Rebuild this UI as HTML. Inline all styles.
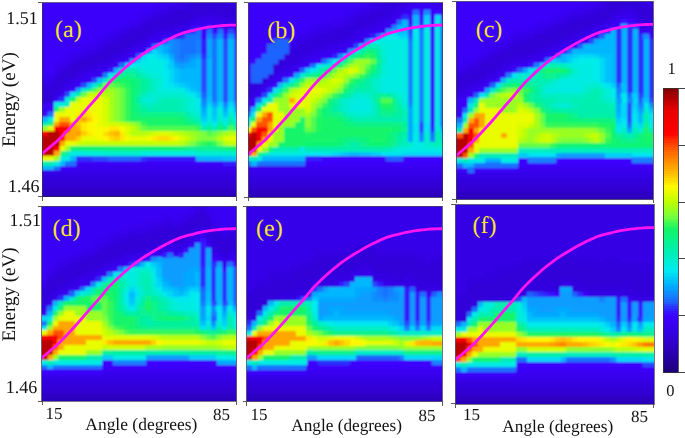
<!DOCTYPE html>
<html><head><meta charset="utf-8"><style>
html,body{margin:0;padding:0;background:#fff;}
svg{display:block;}
text{font-family:"Liberation Serif",serif;fill:#111;text-rendering:geometricPrecision;}
.txt{opacity:0.995;will-change:transform;}
.lab{fill:#f5e62e;font-size:24px;}
</style></head><body>
<svg width="685" height="438" viewBox="0 0 685 438" shape-rendering="crispEdges">
<defs><filter id="bl" x="-5%" y="-5%" width="110%" height="110%"><feGaussianBlur stdDeviation="0.8"/></filter><clipPath id="cpa"><rect x="42.10" y="2.70" width="194.10" height="194.20"/></clipPath><clipPath id="cpb"><rect x="248.30" y="2.70" width="194.60" height="194.90"/></clipPath><clipPath id="cpc"><rect x="456.20" y="1.60" width="197.00" height="198.00"/></clipPath><clipPath id="cpd"><rect x="41.80" y="206.30" width="194.60" height="194.80"/></clipPath><clipPath id="cpe"><rect x="246.60" y="206.30" width="195.60" height="195.10"/></clipPath><clipPath id="cpf"><rect x="455.50" y="204.70" width="198.50" height="199.30"/></clipPath></defs>
<g shape-rendering="auto"></g>
<g clip-path="url(#cpa)">
<g filter="url(#bl)"><path fill="#3a00f9" d="M39.10 -0.30h118.64v5.70h-118.64zM39.10 5.10h113.18v5.16h-113.18zM39.10 9.96h102.27v5.16h-102.27zM39.10 14.81h96.81v5.15h-96.81zM39.10 19.66h85.89v5.16h-85.89zM39.10 24.52h80.44v5.15h-80.44zM39.10 29.38h69.52v5.16h-69.52zM39.10 34.23h64.07v5.15h-64.07zM39.10 39.09h53.15v5.16h-53.15zM39.10 43.94h42.24v5.16h-42.24zM39.10 48.80h31.32v5.15h-31.32zM39.10 53.65h25.87v5.15h-25.87zM39.10 58.51h20.41v5.16h-20.41zM39.10 63.36h14.95v5.15h-14.95zM39.10 68.22h14.95v5.15h-14.95zM39.10 102.20h14.95v5.16h-14.95zM39.10 107.06h14.95v5.15h-14.95zM39.10 111.91h9.50v5.16h-9.50zM75.58 160.46h147.64v5.15h-147.64zM59.21 165.31h16.67v5.16h-16.67z"/>
<path fill="#3900f4" d="M157.44 -0.30h11.21v5.70h-11.21zM151.98 5.10h5.76v5.16h-5.76zM141.07 9.96h11.21v5.16h-11.21zM135.61 14.81h5.76v5.15h-5.76zM124.70 19.66h11.21v5.16h-11.21zM119.24 24.52h5.76v5.15h-5.76zM217.46 24.52h16.67v5.15h-16.67zM108.32 29.38h5.76v5.16h-5.76zM184.72 29.38h5.76v5.16h-5.76zM102.87 34.23h5.76v5.15h-5.76zM168.35 34.23h11.21v5.15h-11.21zM91.95 39.09h5.76v5.16h-5.76zM151.98 39.09h11.21v5.16h-11.21zM81.04 43.94h5.76v5.16h-5.76zM146.52 43.94h5.76v5.16h-5.76zM70.12 48.80h11.21v5.15h-11.21zM135.61 48.80h11.21v5.15h-11.21zM64.67 53.65h5.76v5.15h-5.76zM130.15 53.65h5.76v5.15h-5.76zM59.21 58.51h5.76v5.16h-5.76zM119.24 58.51h5.76v5.16h-5.76zM53.75 63.36h5.76v5.15h-5.76zM113.78 63.36h5.76v5.15h-5.76zM102.87 68.22h5.76v5.15h-5.76zM39.10 73.07h14.95v5.16h-14.95zM97.41 73.07h5.76v5.16h-5.76zM81.04 77.92h11.21v5.16h-11.21zM75.58 82.78h5.76v5.16h-5.76zM53.75 97.34h5.76v5.16h-5.76z"/>
<path fill="#3700ee" d="M168.35 -0.30h11.21v5.70h-11.21zM157.44 5.10h11.21v5.16h-11.21zM141.07 14.81h5.76v5.15h-5.76zM135.61 19.66h5.76v5.16h-5.76zM195.64 19.66h27.58v5.16h-27.58zM124.70 24.52h5.76v5.15h-5.76zM190.18 24.52h5.76v5.15h-5.76zM233.84 24.52h5.66v5.15h-5.66zM113.78 29.38h5.76v5.16h-5.76zM173.81 29.38h11.21v5.16h-11.21zM108.32 34.23h5.76v5.15h-5.76zM157.44 34.23h11.21v5.15h-11.21zM97.41 39.09h5.76v5.16h-5.76zM146.52 39.09h5.76v5.16h-5.76zM86.50 43.94h11.21v5.16h-11.21zM141.07 43.94h5.76v5.16h-5.76zM81.04 48.80h5.76v5.15h-5.76zM130.15 48.80h5.76v5.15h-5.76zM70.12 53.65h5.76v5.15h-5.76zM124.70 53.65h5.76v5.15h-5.76zM64.67 58.51h5.76v5.16h-5.76zM113.78 58.51h5.76v5.16h-5.76zM59.21 63.36h5.76v5.15h-5.76zM108.32 63.36h5.76v5.15h-5.76zM53.75 68.22h5.76v5.15h-5.76zM97.41 68.22h5.76v5.15h-5.76zM86.50 73.07h11.21v5.16h-11.21zM39.10 77.92h9.50v5.16h-9.50zM75.58 77.92h5.76v5.16h-5.76zM70.12 82.78h5.76v5.16h-5.76zM64.67 87.64h5.76v5.16h-5.76zM59.21 92.49h5.76v5.15h-5.76zM75.58 165.31h163.92v5.16h-163.92z"/>
<path fill="#3600e9" d="M179.26 -0.30h11.21v5.70h-11.21zM168.35 5.10h5.76v5.16h-5.76zM151.98 9.96h11.21v5.16h-11.21zM146.52 14.81h5.76v5.15h-5.76zM206.55 14.81h5.76v5.15h-5.76zM190.18 19.66h5.76v5.16h-5.76zM222.92 19.66h11.21v5.16h-11.21zM130.15 24.52h5.76v5.15h-5.76zM179.26 24.52h11.21v5.15h-11.21zM119.24 29.38h5.76v5.16h-5.76zM162.89 29.38h11.21v5.16h-11.21zM113.78 34.23h5.76v5.15h-5.76zM151.98 34.23h5.76v5.15h-5.76zM102.87 39.09h5.76v5.16h-5.76zM97.41 43.94h5.76v5.16h-5.76zM135.61 43.94h5.76v5.16h-5.76zM86.50 48.80h5.76v5.15h-5.76zM75.58 53.65h5.76v5.15h-5.76zM119.24 53.65h5.76v5.15h-5.76zM102.87 63.36h5.76v5.15h-5.76zM91.95 68.22h5.76v5.15h-5.76zM81.04 73.07h5.76v5.16h-5.76zM48.30 77.92h5.76v5.16h-5.76zM64.67 82.78h5.76v5.16h-5.76zM59.21 87.64h5.76v5.16h-5.76zM53.75 92.49h5.76v5.15h-5.76zM39.10 170.17h200.40v5.15h-200.40z"/>
<path fill="#3300df" d="M190.18 -0.30h5.76v5.70h-5.76zM222.92 -0.30h11.21v5.70h-11.21zM184.72 5.10h5.76v5.16h-5.76zM168.35 9.96h5.76v5.16h-5.76zM206.55 9.96h5.76v5.16h-5.76zM151.98 14.81h11.21v5.15h-11.21zM190.18 14.81h5.76v5.15h-5.76zM222.92 14.81h11.21v5.15h-11.21zM146.52 19.66h5.76v5.16h-5.76zM179.26 19.66h11.21v5.16h-11.21zM162.89 24.52h11.21v5.15h-11.21zM130.15 29.38h5.76v5.16h-5.76zM151.98 29.38h5.76v5.16h-5.76zM119.24 34.23h5.76v5.15h-5.76zM113.78 39.09h5.76v5.16h-5.76zM135.61 39.09h5.76v5.16h-5.76zM102.87 43.94h5.76v5.16h-5.76zM97.41 48.80h5.76v5.15h-5.76zM119.24 48.80h5.76v5.15h-5.76zM86.50 53.65h5.76v5.15h-5.76zM108.32 53.65h5.76v5.15h-5.76zM75.58 58.51h5.76v5.16h-5.76zM102.87 58.51h5.76v5.16h-5.76zM91.95 63.36h5.76v5.15h-5.76zM81.04 68.22h5.76v5.15h-5.76zM64.67 77.92h5.76v5.16h-5.76zM48.30 82.78h5.76v5.16h-5.76zM59.21 82.78h5.76v5.16h-5.76zM53.75 87.64h5.76v5.16h-5.76zM48.30 97.34h5.76v5.16h-5.76zM39.10 175.03h200.40v5.16h-200.40z"/>
<path fill="#3100d8" d="M195.64 -0.30h27.58v5.70h-27.58zM190.18 5.10h49.32v5.16h-49.32zM173.81 9.96h33.04v5.16h-33.04zM212.01 9.96h27.49v5.16h-27.49zM162.89 14.81h27.58v5.15h-27.58zM233.84 14.81h5.66v5.15h-5.66zM151.98 19.66h27.58v5.16h-27.58zM141.07 24.52h22.13v5.15h-22.13zM135.61 29.38h16.67v5.16h-16.67zM124.70 34.23h22.13v5.15h-22.13zM119.24 39.09h16.67v5.16h-16.67zM108.32 43.94h22.13v5.16h-22.13zM102.87 48.80h16.67v5.15h-16.67zM91.95 53.65h16.67v5.15h-16.67zM81.04 58.51h22.13v5.16h-22.13zM70.12 63.36h22.13v5.15h-22.13zM64.67 68.22h16.67v5.15h-16.67zM59.21 73.07h16.67v5.16h-16.67zM53.75 77.92h11.21v5.16h-11.21zM53.75 82.78h5.76v5.16h-5.76zM39.10 87.64h14.95v5.16h-14.95zM39.10 92.49h14.95v5.15h-14.95zM39.10 97.34h9.50v5.16h-9.50zM39.10 179.88h200.40v5.15h-200.40z"/>
<path fill="#3400e4" d="M233.84 -0.30h5.66v5.70h-5.66zM173.81 5.10h11.21v5.16h-11.21zM162.89 9.96h5.76v5.16h-5.76zM195.64 14.81h11.21v5.15h-11.21zM212.01 14.81h11.21v5.15h-11.21zM141.07 19.66h5.76v5.16h-5.76zM233.84 19.66h5.66v5.16h-5.66zM135.61 24.52h5.76v5.15h-5.76zM173.81 24.52h5.76v5.15h-5.76zM124.70 29.38h5.76v5.16h-5.76zM157.44 29.38h5.76v5.16h-5.76zM146.52 34.23h5.76v5.15h-5.76zM108.32 39.09h5.76v5.16h-5.76zM141.07 39.09h5.76v5.16h-5.76zM130.15 43.94h5.76v5.16h-5.76zM91.95 48.80h5.76v5.15h-5.76zM124.70 48.80h5.76v5.15h-5.76zM81.04 53.65h5.76v5.15h-5.76zM113.78 53.65h5.76v5.15h-5.76zM70.12 58.51h5.76v5.16h-5.76zM108.32 58.51h5.76v5.16h-5.76zM64.67 63.36h5.76v5.15h-5.76zM97.41 63.36h5.76v5.15h-5.76zM59.21 68.22h5.76v5.15h-5.76zM86.50 68.22h5.76v5.15h-5.76zM53.75 73.07h5.76v5.16h-5.76zM75.58 73.07h5.76v5.16h-5.76zM70.12 77.92h5.76v5.16h-5.76zM39.10 82.78h9.50v5.16h-9.50z"/>
<path fill="#3c00fe" d="M195.64 24.52h11.21v5.15h-11.21zM212.01 24.52h5.76v5.15h-5.76zM201.09 29.38h5.76v5.16h-5.76zM222.92 29.38h5.76v5.16h-5.76zM233.84 29.38h5.66v5.16h-5.66zM201.09 34.23h5.76v5.15h-5.76zM70.12 87.64h5.76v5.16h-5.76z"/>
<path fill="#331cff" d="M206.55 24.52h5.76v5.15h-5.76zM222.92 34.23h5.76v5.15h-5.76zM233.84 34.23h5.66v5.15h-5.66zM201.09 39.09h5.76v5.16h-5.76zM201.09 43.94h5.76v5.16h-5.76zM201.09 48.80h5.76v5.15h-5.76zM108.32 68.22h5.76v5.15h-5.76zM146.52 155.61h49.41v5.15h-49.41zM222.92 160.46h16.58v5.15h-16.58z"/>
<path fill="#2c33ff" d="M190.18 29.38h5.76v5.16h-5.76zM179.26 34.23h5.76v5.15h-5.76zM201.09 53.65h5.76v5.15h-5.76zM59.21 97.34h5.76v5.16h-5.76zM75.58 155.61h16.67v5.15h-16.67zM141.07 155.61h5.76v5.15h-5.76z"/>
<path fill="#1972ff" d="M195.64 29.38h5.76v5.16h-5.76zM206.55 29.38h5.76v5.16h-5.76zM217.46 29.38h5.76v5.16h-5.76zM184.72 34.23h16.67v5.15h-16.67zM179.26 39.09h16.67v5.16h-16.67zM212.01 39.09h5.76v5.16h-5.76zM151.98 43.94h5.76v5.16h-5.76zM179.26 43.94h16.67v5.16h-16.67zM212.01 43.94h5.76v5.16h-5.76zM179.26 48.80h16.67v5.15h-16.67zM212.01 48.80h5.76v5.15h-5.76zM179.26 53.65h5.76v5.15h-5.76zM212.01 53.65h5.76v5.15h-5.76zM212.01 58.51h5.76v5.16h-5.76zM119.24 63.36h5.76v5.15h-5.76zM212.01 63.36h5.76v5.15h-5.76zM212.01 68.22h5.76v5.15h-5.76zM212.01 73.07h5.76v5.16h-5.76zM212.01 77.92h5.76v5.16h-5.76zM212.01 82.78h5.76v5.16h-5.76zM212.01 87.64h5.76v5.16h-5.76zM212.01 92.49h5.76v5.15h-5.76zM212.01 97.34h5.76v5.16h-5.76zM48.30 111.91h5.76v5.16h-5.76zM64.67 160.46h11.21v5.15h-11.21zM53.75 165.31h5.76v5.16h-5.76z"/>
<path fill="#380dff" d="M212.01 29.38h5.76v5.16h-5.76zM124.70 58.51h5.76v5.16h-5.76z"/>
<path fill="#254cff" d="M228.38 29.38h5.76v5.16h-5.76zM212.01 34.23h5.76v5.15h-5.76zM162.89 39.09h5.76v5.16h-5.76zM222.92 39.09h5.76v5.16h-5.76zM233.84 39.09h5.66v5.16h-5.66zM222.92 43.94h5.76v5.16h-5.76zM233.84 43.94h5.66v5.16h-5.66zM222.92 48.80h5.76v5.15h-5.76zM233.84 48.80h5.66v5.15h-5.66zM222.92 53.65h5.76v5.15h-5.76zM233.84 53.65h5.66v5.15h-5.66zM201.09 58.51h5.76v5.16h-5.76zM222.92 58.51h5.76v5.16h-5.76zM233.84 58.51h5.66v5.16h-5.66zM201.09 63.36h5.76v5.15h-5.76zM222.92 63.36h5.76v5.15h-5.76zM233.84 63.36h5.66v5.15h-5.66zM201.09 68.22h5.76v5.15h-5.76zM222.92 68.22h5.76v5.15h-5.76zM233.84 68.22h5.66v5.15h-5.66zM201.09 73.07h5.76v5.16h-5.76zM222.92 73.07h5.76v5.16h-5.76zM233.84 73.07h5.66v5.16h-5.66zM91.95 77.92h5.76v5.16h-5.76zM201.09 77.92h5.76v5.16h-5.76zM222.92 77.92h5.76v5.16h-5.76zM233.84 77.92h5.66v5.16h-5.66zM81.04 82.78h5.76v5.16h-5.76zM201.09 82.78h5.76v5.16h-5.76zM222.92 82.78h5.76v5.16h-5.76zM233.84 82.78h5.66v5.16h-5.66zM201.09 87.64h5.76v5.16h-5.76zM222.92 87.64h5.76v5.16h-5.76zM233.84 87.64h5.66v5.16h-5.66zM64.67 92.49h5.76v5.15h-5.76zM222.92 92.49h5.76v5.15h-5.76zM233.84 92.49h5.66v5.15h-5.66zM222.92 97.34h5.76v5.16h-5.76zM233.84 97.34h5.66v5.16h-5.66zM91.95 155.61h16.67v5.15h-16.67z"/>
<path fill="#0e8eff" d="M206.55 34.23h5.76v5.15h-5.76zM217.46 34.23h5.76v5.15h-5.76zM228.38 34.23h5.76v5.15h-5.76zM168.35 39.09h5.76v5.16h-5.76zM168.35 43.94h5.76v5.16h-5.76zM168.35 48.80h5.76v5.15h-5.76zM190.18 53.65h5.76v5.15h-5.76zM173.81 58.51h5.76v5.16h-5.76zM184.72 58.51h5.76v5.16h-5.76zM201.09 102.20h5.76v5.16h-5.76z"/>
<path fill="#1480ff" d="M173.81 39.09h5.76v5.16h-5.76zM195.64 39.09h5.76v5.16h-5.76zM173.81 43.94h5.76v5.16h-5.76zM195.64 43.94h5.76v5.16h-5.76zM173.81 48.80h5.76v5.15h-5.76zM195.64 48.80h5.76v5.15h-5.76zM173.81 53.65h5.76v5.15h-5.76zM184.72 53.65h5.76v5.15h-5.76zM179.26 58.51h5.76v5.16h-5.76zM102.87 73.07h5.76v5.16h-5.76zM201.09 97.34h5.76v5.16h-5.76zM222.92 102.20h5.76v5.16h-5.76zM233.84 102.20h5.66v5.16h-5.66z"/>
<path fill="#04a9ff" d="M206.55 39.09h5.76v5.16h-5.76zM162.89 43.94h5.76v5.16h-5.76zM206.55 43.94h5.76v5.16h-5.76zM146.52 48.80h5.76v5.15h-5.76zM162.89 48.80h5.76v5.15h-5.76zM206.55 48.80h5.76v5.15h-5.76zM168.35 53.65h5.76v5.15h-5.76zM206.55 53.65h5.76v5.15h-5.76zM130.15 58.51h5.76v5.16h-5.76zM190.18 58.51h5.76v5.16h-5.76zM173.81 63.36h5.76v5.15h-5.76zM184.72 63.36h11.21v5.15h-11.21zM75.58 87.64h5.76v5.16h-5.76zM201.09 107.06h5.76v5.15h-5.76zM222.92 107.06h5.76v5.15h-5.76zM233.84 107.06h5.66v5.15h-5.66z"/>
<path fill="#00b7fe" d="M217.46 39.09h5.76v5.16h-5.76zM228.38 39.09h5.76v5.16h-5.76zM157.44 43.94h5.76v5.16h-5.76zM217.46 43.94h5.76v5.16h-5.76zM228.38 43.94h5.76v5.16h-5.76zM217.46 48.80h5.76v5.15h-5.76zM228.38 48.80h5.76v5.15h-5.76zM217.46 53.65h5.76v5.15h-5.76zM228.38 53.65h5.76v5.15h-5.76zM195.64 58.51h5.76v5.16h-5.76zM206.55 58.51h5.76v5.16h-5.76zM217.46 58.51h5.76v5.16h-5.76zM228.38 58.51h5.76v5.16h-5.76zM195.64 63.36h5.76v5.15h-5.76zM206.55 63.36h5.76v5.15h-5.76zM217.46 63.36h5.76v5.15h-5.76zM228.38 63.36h5.76v5.15h-5.76zM113.78 68.22h5.76v5.15h-5.76zM179.26 68.22h22.13v5.15h-22.13zM206.55 68.22h5.76v5.15h-5.76zM217.46 68.22h5.76v5.15h-5.76zM228.38 68.22h5.76v5.15h-5.76zM179.26 73.07h22.13v5.16h-22.13zM206.55 73.07h5.76v5.16h-5.76zM217.46 73.07h5.76v5.16h-5.76zM228.38 73.07h5.76v5.16h-5.76zM179.26 77.92h22.13v5.16h-22.13zM206.55 77.92h5.76v5.16h-5.76zM217.46 77.92h5.76v5.16h-5.76zM228.38 77.92h5.76v5.16h-5.76zM86.50 82.78h5.76v5.16h-5.76zM190.18 82.78h11.21v5.16h-11.21zM206.55 82.78h5.76v5.16h-5.76zM217.46 82.78h5.76v5.16h-5.76zM228.38 82.78h5.76v5.16h-5.76zM195.64 87.64h5.76v5.16h-5.76zM206.55 87.64h5.76v5.16h-5.76zM217.46 87.64h5.76v5.16h-5.76zM228.38 87.64h5.76v5.16h-5.76zM206.55 92.49h5.76v5.15h-5.76zM217.46 92.49h5.76v5.15h-5.76zM228.38 92.49h5.76v5.15h-5.76zM217.46 97.34h5.76v5.16h-5.76zM228.38 97.34h5.76v5.16h-5.76zM201.09 111.91h5.76v5.16h-5.76zM39.10 116.77h9.50v5.16h-9.50zM70.12 155.61h5.76v5.15h-5.76zM195.64 155.61h27.58v5.15h-27.58zM59.21 160.46h5.76v5.15h-5.76zM39.10 165.31h14.95v5.16h-14.95z"/>
<path fill="#00d9f5" d="M151.98 48.80h5.76v5.15h-5.76zM141.07 53.65h5.76v5.15h-5.76zM157.44 53.65h5.76v5.15h-5.76zM168.35 68.22h5.76v5.15h-5.76zM168.35 73.07h5.76v5.16h-5.76zM168.35 77.92h5.76v5.16h-5.76zM173.81 82.78h5.76v5.16h-5.76zM184.72 87.64h5.76v5.16h-5.76zM206.55 102.20h5.76v5.16h-5.76zM217.46 102.20h5.76v5.16h-5.76zM228.38 102.20h5.76v5.16h-5.76z"/>
<path fill="#00c2fb" d="M157.44 48.80h5.76v5.15h-5.76zM168.35 58.51h5.76v5.16h-5.76zM173.81 68.22h5.76v5.15h-5.76zM173.81 73.07h5.76v5.16h-5.76zM97.41 77.92h5.76v5.16h-5.76zM173.81 77.92h5.76v5.16h-5.76zM184.72 82.78h5.76v5.16h-5.76zM190.18 87.64h5.76v5.16h-5.76zM206.55 97.34h5.76v5.16h-5.76zM212.01 107.06h5.76v5.15h-5.76zM212.01 111.91h5.76v5.16h-5.76zM222.92 111.91h5.76v5.16h-5.76zM222.92 155.61h16.58v5.15h-16.58z"/>
<path fill="#1e64ff" d="M135.61 53.65h5.76v5.15h-5.76zM201.09 92.49h5.76v5.15h-5.76zM108.32 155.61h33.04v5.15h-33.04z"/>
<path fill="#00ebec" d="M146.52 53.65h5.76v5.15h-5.76zM130.15 63.36h5.76v5.15h-5.76zM162.89 68.22h5.76v5.15h-5.76zM108.32 73.07h5.76v5.16h-5.76zM162.89 73.07h5.76v5.16h-5.76zM162.89 77.92h5.76v5.16h-5.76zM162.89 82.78h5.76v5.16h-5.76zM179.26 87.64h5.76v5.16h-5.76zM195.64 97.34h5.76v5.16h-5.76zM195.64 102.20h5.76v5.16h-5.76zM233.84 116.77h5.66v5.16h-5.66zM212.01 121.62h5.76v5.16h-5.76z"/>
<path fill="#00e5f2" d="M151.98 53.65h5.76v5.15h-5.76zM141.07 58.51h5.76v5.16h-5.76zM162.89 58.51h5.76v5.16h-5.76zM124.70 63.36h5.76v5.15h-5.76zM162.89 63.36h5.76v5.15h-5.76zM168.35 82.78h5.76v5.16h-5.76zM70.12 92.49h5.76v5.15h-5.76zM190.18 92.49h5.76v5.15h-5.76zM222.92 116.77h5.76v5.16h-5.76z"/>
<path fill="#00cef8" d="M162.89 53.65h5.76v5.15h-5.76zM135.61 58.51h5.76v5.16h-5.76zM168.35 63.36h5.76v5.15h-5.76zM179.26 82.78h5.76v5.16h-5.76zM195.64 92.49h5.76v5.15h-5.76zM233.84 111.91h5.66v5.16h-5.66zM201.09 116.77h5.76v5.16h-5.76zM212.01 116.77h5.76v5.16h-5.76z"/>
<path fill="#099cff" d="M195.64 53.65h5.76v5.15h-5.76zM179.26 63.36h5.76v5.15h-5.76zM212.01 102.20h5.76v5.16h-5.76z"/>
<path fill="#00ece2" d="M146.52 58.51h16.67v5.16h-16.67zM135.61 63.36h27.59v5.15h-27.59zM146.52 68.22h16.67v5.15h-16.67zM157.44 73.07h5.76v5.16h-5.76zM162.89 87.64h16.67v5.16h-16.67zM184.72 92.49h5.76v5.15h-5.76zM146.52 97.34h5.76v5.16h-5.76zM53.75 102.20h11.21v5.16h-11.21zM195.64 107.06h5.76v5.15h-5.76zM206.55 107.06h5.76v5.15h-5.76zM217.46 107.06h5.76v5.15h-5.76zM228.38 107.06h5.76v5.15h-5.76zM206.55 111.91h5.76v5.16h-5.76zM48.30 116.77h5.76v5.16h-5.76zM206.55 116.77h5.76v5.16h-5.76zM201.09 121.62h5.76v5.16h-5.76zM70.12 150.75h16.67v5.16h-16.67zM141.07 150.75h54.87v5.16h-54.87zM59.21 155.61h11.21v5.15h-11.21zM53.75 160.46h5.76v5.15h-5.76z"/>
<path fill="#00eec5" d="M119.24 68.22h5.76v5.15h-5.76zM135.61 68.22h5.76v5.15h-5.76zM151.98 77.92h5.76v5.16h-5.76zM151.98 82.78h5.76v5.16h-5.76zM151.98 87.64h5.76v5.16h-5.76zM146.52 102.20h5.76v5.16h-5.76zM190.18 111.91h5.76v5.16h-5.76zM233.84 121.62h5.66v5.16h-5.66z"/>
<path fill="#00efb1" d="M124.70 68.22h11.21v5.15h-11.21zM146.52 77.92h5.76v5.16h-5.76zM146.52 82.78h5.76v5.16h-5.76zM146.52 87.64h5.76v5.16h-5.76zM162.89 97.34h16.67v5.16h-16.67zM64.67 102.20h5.76v5.16h-5.76zM157.44 102.20h22.13v5.16h-22.13zM146.52 107.06h33.04v5.15h-33.04zM228.38 116.77h5.76v5.16h-5.76zM39.10 121.62h9.50v5.16h-9.50zM201.09 126.48h5.76v5.16h-5.76zM64.67 150.75h5.76v5.16h-5.76zM39.10 160.46h14.95v5.15h-14.95z"/>
<path fill="#00edd8" d="M141.07 68.22h5.76v5.15h-5.76zM151.98 73.07h5.76v5.16h-5.76zM157.44 77.92h5.76v5.16h-5.76zM91.95 82.78h5.76v5.16h-5.76zM157.44 82.78h5.76v5.16h-5.76zM157.44 87.64h5.76v5.16h-5.76zM64.67 97.34h5.76v5.16h-5.76zM190.18 97.34h5.76v5.16h-5.76zM190.18 102.20h5.76v5.16h-5.76zM190.18 107.06h5.76v5.15h-5.76zM217.46 111.91h5.76v5.16h-5.76zM86.50 150.75h16.67v5.16h-16.67z"/>
<path fill="#07f293" d="M113.78 73.07h5.76v5.16h-5.76zM130.15 73.07h5.76v5.16h-5.76zM86.50 87.64h5.76v5.16h-5.76zM135.61 92.49h5.76v5.15h-5.76zM135.61 102.20h5.76v5.16h-5.76zM179.26 111.91h5.76v5.16h-5.76zM195.64 121.62h5.76v5.16h-5.76zM233.84 126.48h5.66v5.16h-5.66zM190.18 145.90h27.58v5.15h-27.58z"/>
<path fill="#0af289" d="M119.24 73.07h11.21v5.16h-11.21zM135.61 77.92h5.76v5.16h-5.76zM135.61 82.78h5.76v5.16h-5.76zM135.61 87.64h5.76v5.16h-5.76zM135.61 107.06h5.76v5.15h-5.76zM141.07 111.91h38.50v5.16h-38.50zM184.72 116.77h5.76v5.16h-5.76zM228.38 121.62h5.76v5.16h-5.76zM206.55 126.48h5.76v5.16h-5.76zM184.72 145.90h5.76v5.15h-5.76zM217.46 145.90h5.76v5.15h-5.76z"/>
<path fill="#01f0a8" d="M135.61 73.07h5.76v5.16h-5.76zM135.61 97.34h5.76v5.16h-5.76zM184.72 111.91h5.76v5.16h-5.76zM190.18 116.77h5.76v5.16h-5.76zM217.46 121.62h5.76v5.16h-5.76z"/>
<path fill="#00efbb" d="M141.07 73.07h5.76v5.16h-5.76zM102.87 77.92h5.76v5.16h-5.76zM141.07 92.49h5.76v5.15h-5.76zM157.44 97.34h5.76v5.16h-5.76zM179.26 97.34h5.76v5.16h-5.76zM141.07 102.20h5.76v5.16h-5.76zM151.98 102.20h5.76v5.16h-5.76zM179.26 102.20h5.76v5.16h-5.76zM179.26 107.06h5.76v5.15h-5.76zM195.64 116.77h5.76v5.16h-5.76zM206.55 121.62h5.76v5.16h-5.76zM212.01 126.48h5.76v5.16h-5.76z"/>
<path fill="#00edcf" d="M146.52 73.07h5.76v5.16h-5.76zM81.04 87.64h5.76v5.16h-5.76zM146.52 92.49h38.50v5.15h-38.50zM141.07 97.34h5.76v5.16h-5.76zM151.98 97.34h5.76v5.16h-5.76zM184.72 97.34h5.76v5.16h-5.76zM184.72 102.20h5.76v5.16h-5.76zM184.72 107.06h5.76v5.15h-5.76zM195.64 111.91h5.76v5.16h-5.76zM228.38 111.91h5.76v5.16h-5.76zM217.46 116.77h5.76v5.16h-5.76zM222.92 121.62h5.76v5.16h-5.76zM102.87 150.75h38.50v5.16h-38.50zM195.64 150.75h43.86v5.16h-43.86z"/>
<path fill="#36f857" d="M108.32 77.92h5.76v5.16h-5.76zM119.24 82.78h5.76v5.16h-5.76zM124.70 87.64h5.76v5.16h-5.76zM124.70 92.49h5.76v5.15h-5.76zM124.70 97.34h5.76v5.16h-5.76zM124.70 102.20h5.76v5.16h-5.76zM124.70 107.06h5.76v5.15h-5.76zM124.70 111.91h5.76v5.16h-5.76zM124.70 116.77h5.76v5.16h-5.76zM141.07 121.62h5.76v5.16h-5.76zM195.64 126.48h5.76v5.16h-5.76zM201.09 141.04h5.76v5.16h-5.76zM212.01 141.04h5.76v5.16h-5.76z"/>
<path fill="#12f56a" d="M113.78 77.92h16.67v5.16h-16.67zM70.12 97.34h5.76v5.16h-5.76zM53.75 107.06h5.76v5.15h-5.76zM130.15 111.91h5.76v5.16h-5.76zM130.15 116.77h49.41v5.16h-49.41zM48.30 121.62h5.76v5.16h-5.76zM146.52 121.62h38.50v5.16h-38.50zM70.12 145.90h5.76v5.15h-5.76zM59.21 150.75h5.76v5.16h-5.76z"/>
<path fill="#0ff474" d="M130.15 77.92h5.76v5.16h-5.76zM130.15 82.78h5.76v5.16h-5.76zM130.15 87.64h5.76v5.16h-5.76zM130.15 92.49h5.76v5.15h-5.76zM130.15 97.34h5.76v5.16h-5.76zM130.15 102.20h5.76v5.16h-5.76zM130.15 107.06h5.76v5.15h-5.76zM179.26 116.77h5.76v5.16h-5.76zM184.72 121.62h5.76v5.16h-5.76zM217.46 126.48h5.76v5.16h-5.76zM75.58 145.90h103.98v5.15h-103.98zM228.38 145.90h11.12v5.15h-11.12z"/>
<path fill="#04f19d" d="M141.07 77.92h5.76v5.16h-5.76zM141.07 82.78h5.76v5.16h-5.76zM141.07 87.64h5.76v5.16h-5.76zM75.58 92.49h5.76v5.15h-5.76zM141.07 107.06h5.76v5.15h-5.76zM222.92 126.48h5.76v5.16h-5.76z"/>
<path fill="#0cf37e" d="M97.41 82.78h5.76v5.16h-5.76zM135.61 111.91h5.76v5.16h-5.76zM190.18 121.62h5.76v5.16h-5.76zM179.26 145.90h5.76v5.15h-5.76zM222.92 145.90h5.76v5.15h-5.76z"/>
<path fill="#7bff3a" d="M102.87 82.78h5.76v5.16h-5.76zM135.61 121.62h5.76v5.16h-5.76zM201.09 131.33h5.76v5.15h-5.76zM201.09 136.19h11.21v5.15h-11.21zM190.18 141.04h5.76v5.16h-5.76zM217.46 141.04h5.76v5.16h-5.76z"/>
<path fill="#65fd44" d="M108.32 82.78h5.76v5.16h-5.76zM119.24 87.64h5.76v5.16h-5.76zM81.04 92.49h5.76v5.15h-5.76zM119.24 92.49h5.76v5.15h-5.76zM119.24 97.34h5.76v5.16h-5.76zM119.24 102.20h5.76v5.16h-5.76zM119.24 107.06h5.76v5.15h-5.76zM119.24 111.91h5.76v5.16h-5.76zM119.24 116.77h5.76v5.16h-5.76zM141.07 126.48h5.76v5.16h-5.76zM212.01 131.33h5.76v5.15h-5.76z"/>
<path fill="#4dfb4d" d="M113.78 82.78h5.76v5.16h-5.76zM91.95 87.64h5.76v5.16h-5.76zM146.52 126.48h49.41v5.16h-49.41zM228.38 126.48h5.76v5.16h-5.76zM206.55 131.33h5.76v5.15h-5.76zM195.64 141.04h5.76v5.16h-5.76z"/>
<path fill="#1ef660" d="M124.70 82.78h5.76v5.16h-5.76zM206.55 141.04h5.76v5.16h-5.76z"/>
<path fill="#98ff21" d="M97.41 87.64h16.67v5.16h-16.67zM59.21 107.06h5.76v5.15h-5.76zM130.15 121.62h5.76v5.16h-5.76zM39.10 126.48h9.50v5.16h-9.50zM135.61 126.48h5.76v5.16h-5.76zM190.18 131.33h5.76v5.15h-5.76zM184.72 141.04h5.76v5.16h-5.76zM64.67 145.90h5.76v5.15h-5.76zM53.75 155.61h5.76v5.15h-5.76z"/>
<path fill="#89ff2d" d="M113.78 87.64h5.76v5.16h-5.76zM113.78 92.49h5.76v5.15h-5.76zM113.78 97.34h5.76v5.16h-5.76zM113.78 102.20h5.76v5.16h-5.76zM113.78 107.06h5.76v5.15h-5.76zM113.78 111.91h5.76v5.16h-5.76zM113.78 116.77h5.76v5.16h-5.76zM195.64 131.33h5.76v5.15h-5.76zM217.46 131.33h5.76v5.15h-5.76zM195.64 136.19h5.76v5.15h-5.76zM212.01 136.19h5.76v5.15h-5.76z"/>
<path fill="#c3ff00" d="M86.50 92.49h16.67v5.15h-16.67zM119.24 121.62h5.76v5.16h-5.76zM130.15 126.48h5.76v5.16h-5.76zM146.52 131.33h5.76v5.15h-5.76zM173.81 131.33h5.76v5.15h-5.76zM184.72 136.19h5.76v5.15h-5.76zM81.04 141.04h98.53v5.16h-98.53zM228.38 141.04h11.12v5.16h-11.12z"/>
<path fill="#b5ff07" d="M102.87 92.49h5.76v5.15h-5.76zM75.58 97.34h5.76v5.16h-5.76zM124.70 121.62h5.76v5.16h-5.76zM130.15 131.33h16.67v5.15h-16.67zM179.26 131.33h5.76v5.15h-5.76zM228.38 131.33h11.12v5.15h-11.12zM217.46 136.19h5.76v5.15h-5.76zM179.26 141.04h5.76v5.16h-5.76zM222.92 141.04h5.76v5.16h-5.76z"/>
<path fill="#a7ff14" d="M108.32 92.49h5.76v5.15h-5.76zM108.32 97.34h5.76v5.16h-5.76zM108.32 102.20h5.76v5.16h-5.76zM108.32 107.06h5.76v5.15h-5.76zM108.32 111.91h5.76v5.16h-5.76zM108.32 116.77h5.76v5.16h-5.76zM184.72 131.33h5.76v5.15h-5.76zM222.92 131.33h5.76v5.15h-5.76zM190.18 136.19h5.76v5.15h-5.76z"/>
<path fill="#e9fc00" d="M81.04 97.34h22.13v5.16h-22.13zM70.12 102.20h33.04v5.16h-33.04zM64.67 107.06h38.50v5.15h-38.50zM53.75 111.91h22.13v5.16h-22.13zM97.41 111.91h5.76v5.16h-5.76zM53.75 116.77h5.76v5.16h-5.76zM70.12 116.77h5.76v5.16h-5.76zM97.41 116.77h5.76v5.16h-5.76zM97.41 121.62h5.76v5.16h-5.76zM48.30 126.48h5.76v5.16h-5.76zM81.04 136.19h16.67v5.15h-16.67zM130.15 136.19h16.67v5.15h-16.67zM228.38 136.19h11.12v5.15h-11.12zM64.67 141.04h11.21v5.16h-11.21zM59.21 145.90h5.76v5.15h-5.76zM39.10 155.61h14.95v5.15h-14.95z"/>
<path fill="#d0fe00" d="M102.87 97.34h5.76v5.16h-5.76zM102.87 102.20h5.76v5.16h-5.76zM102.87 107.06h5.76v5.15h-5.76zM102.87 111.91h5.76v5.16h-5.76zM102.87 116.77h5.76v5.16h-5.76zM108.32 121.62h11.21v5.16h-11.21zM151.98 131.33h5.76v5.15h-5.76zM168.35 131.33h5.76v5.15h-5.76zM75.58 141.04h5.76v5.16h-5.76z"/>
<path fill="#ffe900" d="M75.58 111.91h5.76v5.16h-5.76zM86.50 111.91h5.76v5.16h-5.76zM81.04 121.62h5.76v5.16h-5.76zM81.04 126.48h5.76v5.16h-5.76zM108.32 126.48h11.21v5.16h-11.21zM86.50 131.33h5.76v5.15h-5.76zM119.24 131.33h5.76v5.15h-5.76zM119.24 136.19h5.76v5.15h-5.76zM151.98 136.19h5.76v5.15h-5.76zM168.35 136.19h5.76v5.15h-5.76z"/>
<path fill="#ffdb00" d="M81.04 111.91h5.76v5.16h-5.76zM102.87 131.33h5.76v5.15h-5.76zM108.32 136.19h5.76v5.15h-5.76zM157.44 136.19h11.21v5.15h-11.21z"/>
<path fill="#f6fb00" d="M91.95 111.91h5.76v5.16h-5.76zM91.95 121.62h5.76v5.16h-5.76zM91.95 126.48h11.21v5.16h-11.21zM119.24 126.48h5.76v5.16h-5.76zM97.41 131.33h5.76v5.15h-5.76zM97.41 136.19h5.76v5.15h-5.76zM124.70 136.19h5.76v5.15h-5.76zM146.52 136.19h5.76v5.15h-5.76zM173.81 136.19h5.76v5.15h-5.76z"/>
<path fill="#ffa700" d="M59.21 116.77h11.21v5.16h-11.21zM81.04 116.77h5.76v5.16h-5.76zM53.75 121.62h5.76v5.16h-5.76zM70.12 121.62h5.76v5.16h-5.76zM70.12 126.48h5.76v5.16h-5.76zM64.67 131.33h11.21v5.15h-11.21zM64.67 136.19h11.21v5.15h-11.21zM59.21 141.04h5.76v5.16h-5.76zM53.75 150.75h5.76v5.16h-5.76z"/>
<path fill="#ffc100" d="M75.58 116.77h5.76v5.16h-5.76zM108.32 131.33h5.76v5.15h-5.76z"/>
<path fill="#ffce00" d="M86.50 116.77h5.76v5.16h-5.76zM75.58 121.62h5.76v5.16h-5.76zM81.04 131.33h5.76v5.15h-5.76zM75.58 136.19h5.76v5.15h-5.76zM113.78 136.19h5.76v5.15h-5.76z"/>
<path fill="#fff600" d="M91.95 116.77h5.76v5.16h-5.76zM86.50 121.62h5.76v5.16h-5.76zM86.50 126.48h5.76v5.16h-5.76zM102.87 126.48h5.76v5.16h-5.76zM91.95 131.33h5.76v5.15h-5.76zM102.87 136.19h5.76v5.15h-5.76z"/>
<path fill="#ff5300" d="M59.21 121.62h11.21v5.16h-11.21z"/>
<path fill="#ddfd00" d="M102.87 121.62h5.76v5.16h-5.76zM124.70 126.48h5.76v5.16h-5.76zM124.70 131.33h5.76v5.15h-5.76zM157.44 131.33h11.21v5.15h-11.21zM179.26 136.19h5.76v5.15h-5.76zM222.92 136.19h5.76v5.15h-5.76z"/>
<path fill="#f90000" d="M53.75 126.48h16.67v5.16h-16.67zM39.10 131.33h9.50v5.15h-9.50zM59.21 131.33h5.76v5.15h-5.76zM59.21 136.19h5.76v5.15h-5.76zM53.75 145.90h5.76v5.15h-5.76z"/>
<path fill="#ffb400" d="M75.58 126.48h5.76v5.16h-5.76zM113.78 131.33h5.76v5.15h-5.76z"/>
<path fill="#b90000" d="M48.30 131.33h11.21v5.15h-11.21zM39.10 136.19h20.41v5.15h-20.41zM39.10 141.04h20.41v5.16h-20.41zM39.10 145.90h14.95v5.15h-14.95zM39.10 150.75h14.95v5.16h-14.95z"/>
<path fill="#ff9b00" d="M75.58 131.33h5.76v5.15h-5.76z"/>
<path fill="#3000d1" d="M39.10 184.74h200.40v5.15h-200.40z"/>
<path fill="#2d00c2" d="M39.10 189.59h200.40v5.16h-200.40z"/>
<path fill="#2b00bb" d="M39.10 194.45h200.40v5.75h-200.40z"/></g>
<polyline points="42.10,153.79 45.39,150.99 48.68,148.19 51.97,145.42 55.26,142.68 58.55,139.72 61.84,136.48 65.13,133.09 68.42,129.63 71.71,126.08 75.00,122.48 78.29,118.81 81.58,115.08 84.87,111.24 88.16,107.36 91.45,103.60 94.74,99.95 98.03,96.21 101.32,92.22 104.61,88.15 107.90,84.31 111.19,80.82 114.48,77.55 117.77,74.41 121.06,71.38 124.35,68.47 127.64,65.66 130.93,62.93 134.22,60.31 137.51,57.84 140.79,55.48 144.08,53.25 147.37,51.19 150.66,49.25 153.95,47.33 157.24,45.36 160.53,43.46 163.82,41.70 167.11,40.01 170.40,38.41 173.69,36.86 176.98,35.33 180.27,33.96 183.56,32.84 186.85,31.92 190.14,31.11 193.43,30.34 196.72,29.54 200.01,28.76 203.30,28.05 206.59,27.48 209.88,26.98 213.17,26.55 216.46,26.17 219.75,25.82 223.04,25.50 226.33,25.28 229.62,25.16 232.91,25.07 236.20,25.03" fill="none" stroke="#ff14f4" stroke-width="2.8" stroke-linejoin="round" stroke-linecap="round" shape-rendering="geometricPrecision"/>
</g>
<rect x="42.10" y="2.70" width="194.10" height="194.20" fill="none" stroke="#2a2a40" stroke-width="0.8" stroke-opacity="0.8"/>
<text x="55.0" y="36.8" class="lab">(a)</text>
<g clip-path="url(#cpb)">
<g filter="url(#bl)"><path fill="#3a00f9" d="M245.30 -0.30h114.11v5.70h-114.11zM245.30 5.10h108.71v5.17h-108.71zM245.30 9.97h97.89v5.17h-97.89zM245.30 14.85h87.08v5.17h-87.08zM245.30 19.72h70.87v5.17h-70.87zM245.30 24.59h65.46v5.17h-65.46zM245.30 29.46h54.65v5.17h-54.65zM245.30 34.34h43.84v5.17h-43.84zM245.30 39.21h27.62v5.17h-27.62zM245.30 44.08h22.22v5.17h-22.22zM245.30 48.95h22.22v5.17h-22.22zM245.30 53.83h16.81v5.17h-16.81zM245.30 58.70h11.41v5.17h-11.41zM245.30 63.57h6.00v5.17h-6.00zM245.30 68.44h6.00v5.17h-6.00zM245.30 97.68h11.41v5.17h-11.41zM245.30 102.55h11.41v5.17h-11.41zM245.30 107.42h6.00v5.17h-6.00zM305.06 161.02h141.14v5.17h-141.14z"/>
<path fill="#3900f4" d="M359.11 -0.30h11.11v5.70h-11.11zM353.71 5.10h11.11v5.17h-11.11zM413.17 5.10h21.92v5.17h-21.92zM342.89 9.97h11.11v5.17h-11.11zM402.36 9.97h11.11v5.17h-11.11zM440.19 9.97h6.01v5.17h-6.01zM332.08 14.85h11.11v5.17h-11.11zM396.95 14.85h5.71v5.17h-5.71zM315.87 19.72h16.52v5.17h-16.52zM391.54 19.72h5.71v5.17h-5.71zM310.46 24.59h5.71v5.17h-5.71zM386.14 24.59h5.71v5.17h-5.71zM299.65 29.46h11.11v5.17h-11.11zM369.92 29.46h16.52v5.17h-16.52zM288.84 34.34h11.11v5.17h-11.11zM364.52 34.34h5.71v5.17h-5.71zM353.71 39.21h11.11v5.17h-11.11zM348.30 44.08h5.71v5.17h-5.71zM332.08 48.95h16.52v5.17h-16.52zM321.27 53.83h11.11v5.17h-11.11zM310.46 58.70h5.71v5.17h-5.71zM299.65 63.57h11.11v5.17h-11.11zM294.24 68.44h5.71v5.17h-5.71zM245.30 73.31h6.00v5.17h-6.00zM283.43 73.31h5.71v5.17h-5.71zM278.03 78.19h5.71v5.17h-5.71zM267.22 83.06h5.71v5.17h-5.71zM261.81 87.93h5.71v5.17h-5.71zM256.41 92.81h5.71v5.17h-5.71z"/>
<path fill="#3700ee" d="M369.92 -0.30h5.71v5.70h-5.71zM413.17 -0.30h21.92v5.70h-21.92zM364.52 5.10h5.71v5.17h-5.71zM407.76 5.10h5.71v5.17h-5.71zM434.79 5.10h11.41v5.17h-11.41zM353.71 9.97h5.71v5.17h-5.71zM342.89 14.85h5.71v5.17h-5.71zM391.54 14.85h5.71v5.17h-5.71zM332.08 19.72h11.11v5.17h-11.11zM386.14 19.72h5.71v5.17h-5.71zM315.87 24.59h11.11v5.17h-11.11zM375.33 24.59h11.11v5.17h-11.11zM310.46 29.46h5.71v5.17h-5.71zM364.52 29.46h5.71v5.17h-5.71zM299.65 34.34h5.71v5.17h-5.71zM359.11 34.34h5.71v5.17h-5.71zM288.84 39.21h5.71v5.17h-5.71zM348.30 39.21h5.71v5.17h-5.71zM337.49 44.08h11.11v5.17h-11.11zM326.68 48.95h5.71v5.17h-5.71zM310.46 53.83h11.11v5.17h-11.11zM305.06 58.70h5.71v5.17h-5.71zM294.24 63.57h5.71v5.17h-5.71zM283.43 68.44h11.11v5.17h-11.11zM278.03 73.31h5.71v5.17h-5.71zM272.62 78.19h5.71v5.17h-5.71zM245.30 165.89h200.90v5.17h-200.90z"/>
<path fill="#3600e9" d="M375.33 -0.30h5.71v5.70h-5.71zM407.76 -0.30h5.71v5.70h-5.71zM434.79 -0.30h11.41v5.70h-11.41zM369.92 5.10h5.71v5.17h-5.71zM402.36 5.10h5.71v5.17h-5.71zM359.11 9.97h5.71v5.17h-5.71zM396.95 9.97h5.71v5.17h-5.71zM348.30 14.85h5.71v5.17h-5.71zM342.89 19.72h5.71v5.17h-5.71zM380.73 19.72h5.71v5.17h-5.71zM326.68 24.59h11.11v5.17h-11.11zM369.92 24.59h5.71v5.17h-5.71zM315.87 29.46h5.71v5.17h-5.71zM359.11 29.46h5.71v5.17h-5.71zM305.06 34.34h5.71v5.17h-5.71zM353.71 34.34h5.71v5.17h-5.71zM294.24 39.21h5.71v5.17h-5.71zM342.89 39.21h5.71v5.17h-5.71zM288.84 44.08h5.71v5.17h-5.71zM332.08 44.08h5.71v5.17h-5.71zM315.87 48.95h11.11v5.17h-11.11zM305.06 53.83h5.71v5.17h-5.71zM299.65 58.70h5.71v5.17h-5.71zM288.84 63.57h5.71v5.17h-5.71zM272.62 73.31h5.71v5.17h-5.71zM245.30 78.19h6.00v5.17h-6.00zM267.22 78.19h5.71v5.17h-5.71zM261.81 83.06h5.71v5.17h-5.71zM256.41 87.93h5.71v5.17h-5.71zM245.30 170.77h200.90v5.17h-200.90z"/>
<path fill="#3400e4" d="M380.73 -0.30h5.71v5.70h-5.71zM402.36 -0.30h5.71v5.70h-5.71zM375.33 5.10h5.71v5.17h-5.71zM396.95 5.10h5.71v5.17h-5.71zM364.52 9.97h5.71v5.17h-5.71zM391.54 9.97h5.71v5.17h-5.71zM353.71 14.85h5.71v5.17h-5.71zM386.14 14.85h5.71v5.17h-5.71zM348.30 19.72h5.71v5.17h-5.71zM375.33 19.72h5.71v5.17h-5.71zM337.49 24.59h5.71v5.17h-5.71zM364.52 24.59h5.71v5.17h-5.71zM321.27 29.46h11.11v5.17h-11.11zM353.71 29.46h5.71v5.17h-5.71zM310.46 34.34h5.71v5.17h-5.71zM348.30 34.34h5.71v5.17h-5.71zM299.65 39.21h5.71v5.17h-5.71zM337.49 39.21h5.71v5.17h-5.71zM294.24 44.08h5.71v5.17h-5.71zM321.27 44.08h11.11v5.17h-11.11zM310.46 48.95h5.71v5.17h-5.71zM299.65 53.83h5.71v5.17h-5.71zM294.24 58.70h5.71v5.17h-5.71zM283.43 63.57h5.71v5.17h-5.71zM278.03 68.44h5.71v5.17h-5.71zM245.30 83.06h6.00v5.17h-6.00zM251.00 92.81h5.71v5.17h-5.71z"/>
<path fill="#3300df" d="M386.14 -0.30h16.52v5.70h-16.52zM380.73 5.10h16.52v5.17h-16.52zM369.92 9.97h11.11v5.17h-11.11zM386.14 9.97h5.71v5.17h-5.71zM359.11 14.85h11.11v5.17h-11.11zM375.33 14.85h11.11v5.17h-11.11zM353.71 19.72h5.71v5.17h-5.71zM364.52 19.72h11.11v5.17h-11.11zM342.89 24.59h21.92v5.17h-21.92zM332.08 29.46h11.11v5.17h-11.11zM348.30 29.46h5.71v5.17h-5.71zM315.87 34.34h16.52v5.17h-16.52zM337.49 34.34h11.11v5.17h-11.11zM305.06 39.21h11.11v5.17h-11.11zM321.27 39.21h16.52v5.17h-16.52zM299.65 44.08h5.71v5.17h-5.71zM310.46 44.08h11.11v5.17h-11.11zM288.84 48.95h21.92v5.17h-21.92zM283.43 53.83h5.71v5.17h-5.71zM294.24 53.83h5.71v5.17h-5.71zM278.03 58.70h16.52v5.17h-16.52zM278.03 63.57h5.71v5.17h-5.71zM272.62 68.44h5.71v5.17h-5.71zM267.22 73.31h5.71v5.17h-5.71zM261.81 78.19h5.71v5.17h-5.71zM251.00 83.06h11.11v5.17h-11.11zM245.30 87.93h11.41v5.17h-11.41zM245.30 92.81h6.00v5.17h-6.00zM245.30 175.64h200.90v5.17h-200.90z"/>
<path fill="#3100d8" d="M380.73 9.97h5.71v5.17h-5.71zM369.92 14.85h5.71v5.17h-5.71zM359.11 19.72h5.71v5.17h-5.71zM342.89 29.46h5.71v5.17h-5.71zM332.08 34.34h5.71v5.17h-5.71zM315.87 39.21h5.71v5.17h-5.71zM305.06 44.08h5.71v5.17h-5.71zM288.84 53.83h5.71v5.17h-5.71zM272.62 63.57h5.71v5.17h-5.71zM245.30 180.51h200.90v5.17h-200.90z"/>
<path fill="#1972ff" d="M413.17 9.97h5.71v5.17h-5.71zM396.95 19.72h5.71v5.17h-5.71zM375.33 34.34h5.71v5.17h-5.71zM321.27 58.70h5.71v5.17h-5.71zM310.46 63.57h5.71v5.17h-5.71zM256.41 97.68h5.71v5.17h-5.71zM245.30 112.30h6.00v5.17h-6.00zM429.38 131.79h5.71v5.17h-5.71zM245.30 161.02h6.00v5.17h-6.00zM256.41 161.02h48.95v5.17h-48.95z"/>
<path fill="#3c00fe" d="M418.57 9.97h5.71v5.17h-5.71zM429.38 9.97h5.71v5.17h-5.71zM429.38 14.85h5.71v5.17h-5.71zM315.87 58.70h5.71v5.17h-5.71zM288.84 73.31h5.71v5.17h-5.71zM321.27 156.15h65.17v5.17h-65.17zM402.36 156.15h43.84v5.17h-43.84z"/>
<path fill="#0e8eff" d="M423.98 9.97h5.71v5.17h-5.71zM364.52 39.21h5.71v5.17h-5.71zM337.49 53.83h5.71v5.17h-5.71zM407.76 102.55h5.71v5.17h-5.71zM440.19 126.91h6.01v5.17h-6.01zM418.57 136.66h5.71v5.17h-5.71z"/>
<path fill="#380dff" d="M434.79 9.97h5.71v5.17h-5.71zM407.76 14.85h5.71v5.17h-5.71zM440.19 14.85h6.01v5.17h-6.01zM407.76 19.72h5.71v5.17h-5.71zM429.38 19.72h5.71v5.17h-5.71zM272.62 83.06h5.71v5.17h-5.71z"/>
<path fill="#2c33ff" d="M402.36 14.85h5.71v5.17h-5.71zM407.76 24.59h5.71v5.17h-5.71zM267.22 87.93h5.71v5.17h-5.71zM429.38 126.91h5.71v5.17h-5.71z"/>
<path fill="#00b7fe" d="M413.17 14.85h5.71v5.17h-5.71zM402.36 19.72h5.71v5.17h-5.71zM413.17 19.72h5.71v5.17h-5.71zM396.95 24.59h11.11v5.17h-11.11zM326.68 58.70h5.71v5.17h-5.71zM251.00 107.42h5.71v5.17h-5.71zM348.30 151.28h11.11v5.17h-11.11zM261.81 156.15h43.54v5.17h-43.54zM251.00 161.02h5.71v5.17h-5.71z"/>
<path fill="#331cff" d="M418.57 14.85h5.71v5.17h-5.71zM418.57 19.72h5.71v5.17h-5.71zM429.38 24.59h5.71v5.17h-5.71zM429.38 29.46h5.71v5.17h-5.71zM369.92 34.34h5.71v5.17h-5.71zM429.38 34.34h5.71v5.17h-5.71zM429.38 39.21h5.71v5.17h-5.71zM429.38 44.08h5.71v5.17h-5.71zM429.38 48.95h5.71v5.17h-5.71zM332.08 53.83h5.71v5.17h-5.71zM429.38 53.83h5.71v5.17h-5.71zM429.38 58.70h5.71v5.17h-5.71zM429.38 63.57h5.71v5.17h-5.71zM429.38 68.44h5.71v5.17h-5.71zM429.38 73.31h5.71v5.17h-5.71zM429.38 78.19h5.71v5.17h-5.71zM429.38 83.06h5.71v5.17h-5.71zM429.38 87.93h5.71v5.17h-5.71zM429.38 92.81h5.71v5.17h-5.71zM429.38 97.68h5.71v5.17h-5.71zM429.38 102.55h5.71v5.17h-5.71zM429.38 107.42h5.71v5.17h-5.71zM429.38 112.30h5.71v5.17h-5.71zM429.38 117.17h5.71v5.17h-5.71zM429.38 122.04h5.71v5.17h-5.71zM305.06 156.15h16.52v5.17h-16.52z"/>
<path fill="#00cef8" d="M423.98 14.85h5.71v5.17h-5.71zM413.17 24.59h5.71v5.17h-5.71zM359.11 44.08h5.71v5.17h-5.71zM305.06 68.44h5.71v5.17h-5.71zM440.19 136.66h6.01v5.17h-6.01zM337.49 151.28h5.71v5.17h-5.71zM369.92 151.28h11.11v5.17h-11.11z"/>
<path fill="#00d9f5" d="M434.79 14.85h5.71v5.17h-5.71zM423.98 19.72h5.71v5.17h-5.71zM391.54 29.46h5.71v5.17h-5.71zM380.73 34.34h5.71v5.17h-5.71zM396.95 34.34h11.11v5.17h-11.11zM342.89 53.83h5.71v5.17h-5.71zM332.08 151.28h5.71v5.17h-5.71zM402.36 151.28h43.84v5.17h-43.84z"/>
<path fill="#00ece2" d="M434.79 19.72h5.71v5.17h-5.71zM434.79 24.59h5.71v5.17h-5.71zM423.98 29.46h5.71v5.17h-5.71zM434.79 29.46h5.71v5.17h-5.71zM423.98 34.34h5.71v5.17h-5.71zM434.79 34.34h5.71v5.17h-5.71zM375.33 39.21h32.73v5.17h-32.73zM413.17 39.21h5.71v5.17h-5.71zM423.98 39.21h5.71v5.17h-5.71zM434.79 39.21h5.71v5.17h-5.71zM386.14 44.08h21.92v5.17h-21.92zM413.17 44.08h5.71v5.17h-5.71zM423.98 44.08h5.71v5.17h-5.71zM434.79 44.08h5.71v5.17h-5.71zM386.14 48.95h21.92v5.17h-21.92zM413.17 48.95h5.71v5.17h-5.71zM423.98 48.95h5.71v5.17h-5.71zM434.79 48.95h5.71v5.17h-5.71zM386.14 53.83h21.92v5.17h-21.92zM413.17 53.83h5.71v5.17h-5.71zM423.98 53.83h5.71v5.17h-5.71zM434.79 53.83h5.71v5.17h-5.71zM386.14 58.70h21.92v5.17h-21.92zM413.17 58.70h5.71v5.17h-5.71zM423.98 58.70h5.71v5.17h-5.71zM434.79 58.70h5.71v5.17h-5.71zM386.14 63.57h21.92v5.17h-21.92zM413.17 63.57h5.71v5.17h-5.71zM423.98 63.57h5.71v5.17h-5.71zM434.79 63.57h5.71v5.17h-5.71zM386.14 68.44h21.92v5.17h-21.92zM413.17 68.44h5.71v5.17h-5.71zM423.98 68.44h5.71v5.17h-5.71zM434.79 68.44h5.71v5.17h-5.71zM386.14 73.31h21.92v5.17h-21.92zM413.17 73.31h5.71v5.17h-5.71zM423.98 73.31h5.71v5.17h-5.71zM434.79 73.31h5.71v5.17h-5.71zM380.73 78.19h27.33v5.17h-27.33zM413.17 78.19h5.71v5.17h-5.71zM423.98 78.19h5.71v5.17h-5.71zM434.79 78.19h5.71v5.17h-5.71zM380.73 83.06h27.33v5.17h-27.33zM413.17 83.06h5.71v5.17h-5.71zM423.98 83.06h5.71v5.17h-5.71zM434.79 83.06h5.71v5.17h-5.71zM380.73 87.93h27.33v5.17h-27.33zM413.17 87.93h5.71v5.17h-5.71zM423.98 87.93h5.71v5.17h-5.71zM434.79 87.93h5.71v5.17h-5.71zM267.22 92.81h5.71v5.17h-5.71zM402.36 92.81h5.71v5.17h-5.71zM413.17 92.81h5.71v5.17h-5.71zM423.98 92.81h5.71v5.17h-5.71zM434.79 92.81h5.71v5.17h-5.71zM261.81 97.68h5.71v5.17h-5.71zM353.71 97.68h16.52v5.17h-16.52zM402.36 97.68h5.71v5.17h-5.71zM413.17 97.68h5.71v5.17h-5.71zM423.98 97.68h5.71v5.17h-5.71zM434.79 97.68h5.71v5.17h-5.71zM256.41 102.55h5.71v5.17h-5.71zM348.30 102.55h21.92v5.17h-21.92zM413.17 102.55h5.71v5.17h-5.71zM423.98 102.55h5.71v5.17h-5.71zM434.79 102.55h5.71v5.17h-5.71zM348.30 107.42h21.92v5.17h-21.92zM413.17 107.42h5.71v5.17h-5.71zM423.98 107.42h5.71v5.17h-5.71zM434.79 107.42h5.71v5.17h-5.71zM251.00 112.30h5.71v5.17h-5.71zM413.17 112.30h5.71v5.17h-5.71zM423.98 112.30h5.71v5.17h-5.71zM434.79 112.30h5.71v5.17h-5.71zM245.30 117.17h6.00v5.17h-6.00zM413.17 117.17h5.71v5.17h-5.71zM423.98 117.17h5.71v5.17h-5.71zM434.79 117.17h5.71v5.17h-5.71zM434.79 122.04h5.71v5.17h-5.71zM413.17 131.79h5.71v5.17h-5.71zM413.17 136.66h5.71v5.17h-5.71zM413.17 141.53h11.11v5.17h-11.11zM299.65 146.40h5.71v5.17h-5.71zM402.36 146.40h43.84v5.17h-43.84zM267.22 151.28h38.14v5.17h-38.14zM245.30 156.15h6.00v5.17h-6.00zM256.41 156.15h5.71v5.17h-5.71z"/>
<path fill="#1480ff" d="M440.19 19.72h6.01v5.17h-6.01zM391.54 24.59h5.71v5.17h-5.71zM440.19 24.59h6.01v5.17h-6.01zM418.57 29.46h5.71v5.17h-5.71zM440.19 29.46h6.01v5.17h-6.01zM418.57 34.34h5.71v5.17h-5.71zM440.19 34.34h6.01v5.17h-6.01zM407.76 39.21h5.71v5.17h-5.71zM418.57 39.21h5.71v5.17h-5.71zM440.19 39.21h6.01v5.17h-6.01zM407.76 44.08h5.71v5.17h-5.71zM418.57 44.08h5.71v5.17h-5.71zM440.19 44.08h6.01v5.17h-6.01zM407.76 48.95h5.71v5.17h-5.71zM418.57 48.95h5.71v5.17h-5.71zM440.19 48.95h6.01v5.17h-6.01zM407.76 53.83h5.71v5.17h-5.71zM418.57 53.83h5.71v5.17h-5.71zM440.19 53.83h6.01v5.17h-6.01zM407.76 58.70h5.71v5.17h-5.71zM418.57 58.70h5.71v5.17h-5.71zM440.19 58.70h6.01v5.17h-6.01zM407.76 63.57h5.71v5.17h-5.71zM418.57 63.57h5.71v5.17h-5.71zM440.19 63.57h6.01v5.17h-6.01zM407.76 68.44h5.71v5.17h-5.71zM418.57 68.44h5.71v5.17h-5.71zM440.19 68.44h6.01v5.17h-6.01zM407.76 73.31h5.71v5.17h-5.71zM418.57 73.31h5.71v5.17h-5.71zM440.19 73.31h6.01v5.17h-6.01zM283.43 78.19h5.71v5.17h-5.71zM407.76 78.19h5.71v5.17h-5.71zM418.57 78.19h5.71v5.17h-5.71zM440.19 78.19h6.01v5.17h-6.01zM407.76 83.06h5.71v5.17h-5.71zM418.57 83.06h5.71v5.17h-5.71zM440.19 83.06h6.01v5.17h-6.01zM407.76 87.93h5.71v5.17h-5.71zM418.57 87.93h5.71v5.17h-5.71zM440.19 87.93h6.01v5.17h-6.01zM407.76 92.81h5.71v5.17h-5.71zM418.57 92.81h5.71v5.17h-5.71zM440.19 92.81h6.01v5.17h-6.01zM407.76 97.68h5.71v5.17h-5.71zM418.57 97.68h5.71v5.17h-5.71zM440.19 97.68h6.01v5.17h-6.01zM418.57 102.55h5.71v5.17h-5.71zM440.19 102.55h6.01v5.17h-6.01zM418.57 107.42h5.71v5.17h-5.71zM440.19 107.42h6.01v5.17h-6.01zM418.57 112.30h5.71v5.17h-5.71zM440.19 112.30h6.01v5.17h-6.01zM418.57 117.17h5.71v5.17h-5.71zM440.19 117.17h6.01v5.17h-6.01zM440.19 122.04h6.01v5.17h-6.01zM418.57 131.79h5.71v5.17h-5.71zM429.38 136.66h5.71v5.17h-5.71z"/>
<path fill="#1e64ff" d="M418.57 24.59h5.71v5.17h-5.71zM407.76 34.34h5.71v5.17h-5.71zM272.62 39.21h16.52v5.17h-16.52zM267.22 44.08h21.92v5.17h-21.92zM267.22 48.95h21.92v5.17h-21.92zM261.81 53.83h21.92v5.17h-21.92zM256.41 58.70h21.92v5.17h-21.92zM251.00 63.57h21.92v5.17h-21.92zM251.00 68.44h21.92v5.17h-21.92zM299.65 68.44h5.71v5.17h-5.71zM251.00 73.31h16.52v5.17h-16.52zM251.00 78.19h11.11v5.17h-11.11zM386.14 156.15h16.52v5.17h-16.52z"/>
<path fill="#00e5f2" d="M423.98 24.59h5.71v5.17h-5.71zM391.54 34.34h5.71v5.17h-5.71zM315.87 63.57h5.71v5.17h-5.71zM288.84 78.19h5.71v5.17h-5.71zM272.62 87.93h5.71v5.17h-5.71zM413.17 122.04h5.71v5.17h-5.71zM423.98 122.04h5.71v5.17h-5.71zM413.17 126.91h5.71v5.17h-5.71zM423.98 126.91h5.71v5.17h-5.71zM305.06 151.28h27.33v5.17h-27.33zM380.73 151.28h21.92v5.17h-21.92z"/>
<path fill="#099cff" d="M386.14 29.46h5.71v5.17h-5.71zM348.30 48.95h5.71v5.17h-5.71z"/>
<path fill="#00c2fb" d="M396.95 29.46h11.11v5.17h-11.11zM278.03 83.06h5.71v5.17h-5.71zM440.19 131.79h6.01v5.17h-6.01zM342.89 151.28h5.71v5.17h-5.71zM359.11 151.28h11.11v5.17h-11.11z"/>
<path fill="#254cff" d="M407.76 29.46h5.71v5.17h-5.71zM353.71 44.08h5.71v5.17h-5.71zM261.81 92.81h5.71v5.17h-5.71zM418.57 122.04h5.71v5.17h-5.71zM418.57 126.91h5.71v5.17h-5.71z"/>
<path fill="#00ebec" d="M413.17 29.46h5.71v5.17h-5.71zM386.14 34.34h5.71v5.17h-5.71zM413.17 34.34h5.71v5.17h-5.71zM369.92 39.21h5.71v5.17h-5.71zM332.08 58.70h5.71v5.17h-5.71zM310.46 68.44h5.71v5.17h-5.71z"/>
<path fill="#00efbb" d="M364.52 44.08h5.71v5.17h-5.71zM326.68 63.57h5.71v5.17h-5.71zM375.33 73.31h5.71v5.17h-5.71zM369.92 78.19h5.71v5.17h-5.71zM283.43 83.06h5.71v5.17h-5.71zM369.92 83.06h5.71v5.17h-5.71zM369.92 87.93h5.71v5.17h-5.71zM348.30 92.81h5.71v5.17h-5.71zM369.92 92.81h5.71v5.17h-5.71zM391.54 92.81h5.71v5.17h-5.71zM337.49 97.68h5.71v5.17h-5.71zM337.49 102.55h5.71v5.17h-5.71zM337.49 107.42h5.71v5.17h-5.71zM402.36 107.42h5.71v5.17h-5.71zM402.36 112.30h5.71v5.17h-5.71zM402.36 117.17h5.71v5.17h-5.71zM402.36 136.66h5.71v5.17h-5.71zM402.36 141.53h5.71v5.17h-5.71zM429.38 141.53h16.82v5.17h-16.82zM386.14 146.40h5.71v5.17h-5.71z"/>
<path fill="#00efb1" d="M369.92 44.08h5.71v5.17h-5.71zM353.71 87.93h16.52v5.17h-16.52zM267.22 97.68h5.71v5.17h-5.71zM396.95 102.55h5.71v5.17h-5.71zM342.89 112.30h5.71v5.17h-5.71zM353.71 117.17h48.95v5.17h-48.95zM245.30 122.04h6.00v5.17h-6.00zM402.36 131.79h5.71v5.17h-5.71zM434.79 131.79h5.71v5.17h-5.71zM434.79 136.66h5.71v5.17h-5.71zM396.95 141.53h5.71v5.17h-5.71zM272.62 146.40h27.33v5.17h-27.33zM305.06 146.40h81.38v5.17h-81.38zM261.81 151.28h5.71v5.17h-5.71zM251.00 156.15h5.71v5.17h-5.71z"/>
<path fill="#00eec5" d="M375.33 44.08h5.71v5.17h-5.71zM337.49 58.70h5.71v5.17h-5.71zM380.73 58.70h5.71v5.17h-5.71zM315.87 68.44h5.71v5.17h-5.71zM369.92 97.68h5.71v5.17h-5.71zM396.95 97.68h5.71v5.17h-5.71zM348.30 112.30h5.71v5.17h-5.71zM369.92 112.30h5.71v5.17h-5.71z"/>
<path fill="#00edd8" d="M380.73 44.08h5.71v5.17h-5.71zM353.71 48.95h5.71v5.17h-5.71zM321.27 63.57h5.71v5.17h-5.71zM380.73 73.31h5.71v5.17h-5.71zM396.95 92.81h5.71v5.17h-5.71zM348.30 97.68h5.71v5.17h-5.71zM434.79 126.91h5.71v5.17h-5.71zM396.95 146.40h5.71v5.17h-5.71z"/>
<path fill="#01f0a8" d="M359.11 48.95h5.71v5.17h-5.71zM375.33 48.95h5.71v5.17h-5.71zM375.33 68.44h5.71v5.17h-5.71zM294.24 78.19h5.71v5.17h-5.71zM364.52 78.19h5.71v5.17h-5.71zM364.52 83.06h5.71v5.17h-5.71zM278.03 87.93h5.71v5.17h-5.71zM375.33 92.81h5.71v5.17h-5.71zM332.08 107.42h5.71v5.17h-5.71zM375.33 107.42h5.71v5.17h-5.71zM396.95 107.42h5.71v5.17h-5.71zM375.33 112.30h5.71v5.17h-5.71zM396.95 112.30h5.71v5.17h-5.71zM348.30 117.17h5.71v5.17h-5.71zM396.95 136.66h5.71v5.17h-5.71zM348.30 141.53h11.11v5.17h-11.11z"/>
<path fill="#0cf37e" d="M364.52 48.95h11.11v5.17h-11.11zM353.71 53.83h5.71v5.17h-5.71zM369.92 68.44h5.71v5.17h-5.71zM364.52 73.31h5.71v5.17h-5.71zM337.49 92.81h5.71v5.17h-5.71zM326.68 102.55h5.71v5.17h-5.71zM380.73 107.42h5.71v5.17h-5.71zM326.68 112.30h5.71v5.17h-5.71zM348.30 122.04h5.71v5.17h-5.71zM342.89 136.66h5.71v5.17h-5.71zM359.11 136.66h5.71v5.17h-5.71zM337.49 141.53h5.71v5.17h-5.71zM364.52 141.53h5.71v5.17h-5.71zM386.14 141.53h5.71v5.17h-5.71z"/>
<path fill="#00edcf" d="M380.73 48.95h5.71v5.17h-5.71zM380.73 53.83h5.71v5.17h-5.71zM380.73 63.57h5.71v5.17h-5.71zM380.73 68.44h5.71v5.17h-5.71zM299.65 73.31h5.71v5.17h-5.71zM375.33 78.19h5.71v5.17h-5.71zM375.33 83.06h5.71v5.17h-5.71zM375.33 87.93h5.71v5.17h-5.71zM353.71 92.81h16.52v5.17h-16.52zM342.89 97.68h5.71v5.17h-5.71zM342.89 102.55h5.71v5.17h-5.71zM369.92 102.55h5.71v5.17h-5.71zM402.36 102.55h5.71v5.17h-5.71zM342.89 107.42h5.71v5.17h-5.71zM369.92 107.42h5.71v5.17h-5.71zM353.71 112.30h16.52v5.17h-16.52zM423.98 131.79h5.71v5.17h-5.71zM423.98 136.66h5.71v5.17h-5.71zM407.76 141.53h5.71v5.17h-5.71zM423.98 141.53h5.71v5.17h-5.71zM391.54 146.40h5.71v5.17h-5.71z"/>
<path fill="#04f19d" d="M348.30 53.83h5.71v5.17h-5.71zM375.33 53.83h5.71v5.17h-5.71zM332.08 63.57h5.71v5.17h-5.71zM375.33 63.57h5.71v5.17h-5.71zM321.27 68.44h5.71v5.17h-5.71zM305.06 73.31h5.71v5.17h-5.71zM369.92 73.31h5.71v5.17h-5.71zM359.11 83.06h5.71v5.17h-5.71zM342.89 92.81h5.71v5.17h-5.71zM386.14 92.81h5.71v5.17h-5.71zM332.08 102.55h5.71v5.17h-5.71zM375.33 102.55h5.71v5.17h-5.71zM391.54 112.30h5.71v5.17h-5.71zM402.36 122.04h5.71v5.17h-5.71zM396.95 131.79h5.71v5.17h-5.71z"/>
<path fill="#12f56a" d="M359.11 53.83h5.71v5.17h-5.71zM326.68 68.44h5.71v5.17h-5.71zM342.89 87.93h5.71v5.17h-5.71zM326.68 97.68h5.71v5.17h-5.71zM261.81 102.55h5.71v5.17h-5.71zM256.41 107.42h5.71v5.17h-5.71zM251.00 117.17h5.71v5.17h-5.71zM299.65 117.17h5.71v5.17h-5.71zM321.27 117.17h16.52v5.17h-16.52zM294.24 122.04h11.11v5.17h-11.11zM321.27 122.04h21.92v5.17h-21.92zM283.43 126.91h21.92v5.17h-21.92zM321.27 126.91h70.57v5.17h-70.57zM283.43 131.79h21.92v5.17h-21.92zM310.46 131.79h75.98v5.17h-75.98zM283.43 136.66h54.36v5.17h-54.36zM369.92 136.66h16.52v5.17h-16.52zM278.03 141.53h27.33v5.17h-27.33zM267.22 146.40h5.71v5.17h-5.71zM256.41 151.28h5.71v5.17h-5.71z"/>
<path fill="#36f857" d="M364.52 53.83h5.71v5.17h-5.71zM364.52 68.44h5.71v5.17h-5.71zM321.27 73.31h5.71v5.17h-5.71zM359.11 73.31h5.71v5.17h-5.71zM299.65 78.19h5.71v5.17h-5.71zM348.30 78.19h5.71v5.17h-5.71zM294.24 83.06h5.71v5.17h-5.71zM283.43 87.93h5.71v5.17h-5.71zM278.03 92.81h5.71v5.17h-5.71zM332.08 92.81h5.71v5.17h-5.71zM321.27 102.55h5.71v5.17h-5.71zM315.87 107.42h5.71v5.17h-5.71zM315.87 112.30h5.71v5.17h-5.71z"/>
<path fill="#1ef660" d="M369.92 53.83h5.71v5.17h-5.71zM369.92 63.57h5.71v5.17h-5.71zM380.73 102.55h11.11v5.17h-11.11zM315.87 117.17h5.71v5.17h-5.71zM315.87 122.04h5.71v5.17h-5.71zM315.87 126.91h5.71v5.17h-5.71zM305.06 131.79h5.71v5.17h-5.71z"/>
<path fill="#0af289" d="M342.89 58.70h5.71v5.17h-5.71zM375.33 58.70h5.71v5.17h-5.71zM310.46 73.31h5.71v5.17h-5.71zM359.11 78.19h5.71v5.17h-5.71zM288.84 83.06h5.71v5.17h-5.71zM272.62 92.81h5.71v5.17h-5.71zM375.33 97.68h5.71v5.17h-5.71zM391.54 97.68h5.71v5.17h-5.71zM391.54 102.55h5.71v5.17h-5.71zM326.68 107.42h5.71v5.17h-5.71zM391.54 107.42h5.71v5.17h-5.71zM332.08 112.30h5.71v5.17h-5.71zM342.89 117.17h5.71v5.17h-5.71zM353.71 122.04h48.95v5.17h-48.95zM391.54 131.79h5.71v5.17h-5.71zM348.30 136.66h11.11v5.17h-11.11zM391.54 136.66h5.71v5.17h-5.71z"/>
<path fill="#4dfb4d" d="M348.30 58.70h5.71v5.17h-5.71zM342.89 83.06h5.71v5.17h-5.71zM380.73 97.68h11.11v5.17h-11.11zM310.46 117.17h5.71v5.17h-5.71zM310.46 122.04h5.71v5.17h-5.71zM310.46 126.91h5.71v5.17h-5.71z"/>
<path fill="#98ff21" d="M353.71 58.70h16.52v5.17h-16.52zM359.11 63.57h5.71v5.17h-5.71zM359.11 68.44h5.71v5.17h-5.71zM348.30 73.31h5.71v5.17h-5.71zM305.06 78.19h16.52v5.17h-16.52zM342.89 78.19h5.71v5.17h-5.71zM299.65 83.06h5.71v5.17h-5.71zM283.43 92.81h5.71v5.17h-5.71zM272.62 97.68h16.52v5.17h-16.52zM278.03 102.55h11.11v5.17h-11.11zM278.03 107.42h27.33v5.17h-27.33zM310.46 107.42h5.71v5.17h-5.71zM283.43 112.30h21.92v5.17h-21.92zM283.43 117.17h16.52v5.17h-16.52zM278.03 122.04h16.52v5.17h-16.52zM278.03 126.91h5.71v5.17h-5.71zM272.62 131.79h11.11v5.17h-11.11zM272.62 136.66h11.11v5.17h-11.11zM267.22 141.53h11.11v5.17h-11.11zM261.81 146.40h5.71v5.17h-5.71z"/>
<path fill="#65fd44" d="M369.92 58.70h5.71v5.17h-5.71zM342.89 63.57h5.71v5.17h-5.71zM364.52 63.57h5.71v5.17h-5.71zM332.08 68.44h5.71v5.17h-5.71zM305.06 126.91h5.71v5.17h-5.71z"/>
<path fill="#0ff474" d="M337.49 63.57h5.71v5.17h-5.71zM315.87 73.31h5.71v5.17h-5.71zM353.71 78.19h5.71v5.17h-5.71zM348.30 83.06h5.71v5.17h-5.71zM321.27 107.42h5.71v5.17h-5.71zM386.14 107.42h5.71v5.17h-5.71zM321.27 112.30h5.71v5.17h-5.71zM337.49 117.17h5.71v5.17h-5.71zM342.89 122.04h5.71v5.17h-5.71zM391.54 126.91h11.11v5.17h-11.11zM386.14 131.79h5.71v5.17h-5.71zM337.49 136.66h5.71v5.17h-5.71zM364.52 136.66h5.71v5.17h-5.71zM386.14 136.66h5.71v5.17h-5.71zM305.06 141.53h32.73v5.17h-32.73zM369.92 141.53h16.52v5.17h-16.52z"/>
<path fill="#a7ff14" d="M348.30 63.57h5.71v5.17h-5.71zM337.49 68.44h5.71v5.17h-5.71zM332.08 73.31h5.71v5.17h-5.71zM342.89 73.31h5.71v5.17h-5.71zM321.27 78.19h5.71v5.17h-5.71zM337.49 83.06h5.71v5.17h-5.71zM288.84 87.93h5.71v5.17h-5.71zM332.08 87.93h5.71v5.17h-5.71zM321.27 92.81h5.71v5.17h-5.71zM315.87 97.68h5.71v5.17h-5.71zM310.46 102.55h5.71v5.17h-5.71zM305.06 112.30h5.71v5.17h-5.71z"/>
<path fill="#b5ff07" d="M353.71 63.57h5.71v5.17h-5.71z"/>
<path fill="#c3ff00" d="M342.89 68.44h5.71v5.17h-5.71zM337.49 73.31h5.71v5.17h-5.71zM326.68 78.19h5.71v5.17h-5.71zM305.06 83.06h32.73v5.17h-32.73zM294.24 87.93h5.71v5.17h-5.71zM326.68 87.93h5.71v5.17h-5.71zM310.46 97.68h5.71v5.17h-5.71z"/>
<path fill="#ddfd00" d="M348.30 68.44h5.71v5.17h-5.71zM332.08 78.19h5.71v5.17h-5.71zM299.65 87.93h5.71v5.17h-5.71zM321.27 87.93h5.71v5.17h-5.71zM294.24 92.81h5.71v5.17h-5.71zM310.46 92.81h5.71v5.17h-5.71zM305.06 97.68h5.71v5.17h-5.71zM305.06 102.55h5.71v5.17h-5.71z"/>
<path fill="#d0fe00" d="M353.71 68.44h5.71v5.17h-5.71zM337.49 78.19h5.71v5.17h-5.71zM288.84 92.81h5.71v5.17h-5.71zM315.87 92.81h5.71v5.17h-5.71zM305.06 107.42h5.71v5.17h-5.71z"/>
<path fill="#04a9ff" d="M294.24 73.31h5.71v5.17h-5.71zM407.76 107.42h5.71v5.17h-5.71zM407.76 112.30h5.71v5.17h-5.71zM407.76 117.17h5.71v5.17h-5.71zM407.76 122.04h5.71v5.17h-5.71zM407.76 126.91h5.71v5.17h-5.71zM407.76 131.79h5.71v5.17h-5.71zM407.76 136.66h5.71v5.17h-5.71z"/>
<path fill="#7bff3a" d="M326.68 73.31h5.71v5.17h-5.71zM353.71 73.31h5.71v5.17h-5.71zM337.49 87.93h5.71v5.17h-5.71zM326.68 92.81h5.71v5.17h-5.71zM321.27 97.68h5.71v5.17h-5.71zM315.87 102.55h5.71v5.17h-5.71zM310.46 112.30h5.71v5.17h-5.71z"/>
<path fill="#07f293" d="M353.71 83.06h5.71v5.17h-5.71zM348.30 87.93h5.71v5.17h-5.71zM380.73 92.81h5.71v5.17h-5.71zM332.08 97.68h5.71v5.17h-5.71zM337.49 112.30h5.71v5.17h-5.71zM380.73 112.30h11.11v5.17h-11.11zM402.36 126.91h5.71v5.17h-5.71zM342.89 141.53h5.71v5.17h-5.71zM359.11 141.53h5.71v5.17h-5.71zM391.54 141.53h5.71v5.17h-5.71z"/>
<path fill="#e9fc00" d="M305.06 87.93h16.52v5.17h-16.52zM299.65 92.81h11.11v5.17h-11.11zM294.24 97.68h11.11v5.17h-11.11zM267.22 102.55h11.11v5.17h-11.11zM288.84 102.55h16.52v5.17h-16.52zM261.81 107.42h16.52v5.17h-16.52zM256.41 112.30h5.71v5.17h-5.71zM272.62 112.30h11.11v5.17h-11.11zM272.62 117.17h11.11v5.17h-11.11zM251.00 122.04h5.71v5.17h-5.71zM272.62 122.04h5.71v5.17h-5.71zM245.30 126.91h6.00v5.17h-6.00zM272.62 126.91h5.71v5.17h-5.71zM267.22 131.79h5.71v5.17h-5.71zM267.22 136.66h5.71v5.17h-5.71zM261.81 141.53h5.71v5.17h-5.71zM256.41 146.40h5.71v5.17h-5.71z"/>
<path fill="#ffa700" d="M288.84 97.68h5.71v5.17h-5.71zM261.81 112.30h5.71v5.17h-5.71zM256.41 117.17h5.71v5.17h-5.71zM267.22 122.04h5.71v5.17h-5.71zM267.22 126.91h5.71v5.17h-5.71zM261.81 136.66h5.71v5.17h-5.71zM256.41 141.53h5.71v5.17h-5.71zM251.00 151.28h5.71v5.17h-5.71z"/>
<path fill="#ff5300" d="M267.22 112.30h5.71v5.17h-5.71zM261.81 117.17h11.11v5.17h-11.11zM256.41 122.04h11.11v5.17h-11.11zM251.00 126.91h5.71v5.17h-5.71zM261.81 131.79h5.71v5.17h-5.71z"/>
<path fill="#89ff2d" d="M305.06 117.17h5.71v5.17h-5.71zM305.06 122.04h5.71v5.17h-5.71z"/>
<path fill="#f90000" d="M256.41 126.91h11.11v5.17h-11.11zM245.30 131.79h6.00v5.17h-6.00zM256.41 131.79h5.71v5.17h-5.71zM256.41 136.66h5.71v5.17h-5.71z"/>
<path fill="#b90000" d="M251.00 131.79h5.71v5.17h-5.71zM245.30 136.66h11.41v5.17h-11.41zM245.30 141.53h11.41v5.17h-11.41zM245.30 146.40h11.41v5.17h-11.41zM245.30 151.28h6.00v5.17h-6.00z"/>
<path fill="#3000d1" d="M245.30 185.38h200.90v5.17h-200.90z"/>
<path fill="#2d00c2" d="M245.30 190.26h200.90v5.17h-200.90z"/>
<path fill="#2b00bb" d="M245.30 195.13h200.90v5.77h-200.90z"/></g>
<polyline points="248.30,154.33 251.60,151.52 254.90,148.72 258.19,145.94 261.49,143.18 264.79,140.22 268.09,136.96 271.39,133.56 274.69,130.09 277.98,126.53 281.28,122.91 284.58,119.23 287.88,115.49 291.18,111.64 294.48,107.74 297.77,103.96 301.07,100.30 304.37,96.55 307.67,92.54 310.97,88.46 314.27,84.60 317.56,81.10 320.86,77.82 324.16,74.67 327.46,71.63 330.76,68.71 334.06,65.89 337.35,63.15 340.65,60.52 343.95,58.04 347.25,55.67 350.55,53.44 353.85,51.36 357.14,49.42 360.44,47.50 363.74,45.52 367.04,43.61 370.34,41.84 373.64,40.14 376.93,38.54 380.23,36.98 383.53,35.45 386.83,34.07 390.13,32.95 393.43,32.03 396.72,31.22 400.02,30.44 403.32,29.64 406.62,28.85 409.92,28.15 413.22,27.57 416.51,27.07 419.81,26.63 423.11,26.26 426.41,25.90 429.71,25.59 433.01,25.36 436.30,25.24 439.60,25.15 442.90,25.11" fill="none" stroke="#ff14f4" stroke-width="2.8" stroke-linejoin="round" stroke-linecap="round" shape-rendering="geometricPrecision"/>
</g>
<rect x="248.30" y="2.70" width="194.60" height="194.90" fill="none" stroke="#2a2a40" stroke-width="0.8" stroke-opacity="0.8"/>
<text x="267.2" y="37.5" class="lab">(b)</text>
<g clip-path="url(#cpc)">
<g filter="url(#bl)"><path fill="#3a00f9" d="M453.20 -1.40h130.16v5.70h-130.16zM453.20 4.00h119.21v5.25h-119.21zM453.20 8.95h108.27v5.25h-108.27zM453.20 13.90h97.32v5.25h-97.32zM453.20 18.85h86.38v5.25h-86.38zM453.20 23.80h75.44v5.25h-75.44zM453.20 28.75h59.02v5.25h-59.02zM453.20 33.70h53.55v5.25h-53.55zM453.20 38.65h42.60v5.25h-42.60zM453.20 43.60h37.13v5.25h-37.13zM453.20 48.55h26.19v5.25h-26.19zM453.20 53.50h20.72v5.25h-20.72zM453.20 58.45h9.77v5.25h-9.77zM453.20 98.05h15.24v5.25h-15.24zM453.20 103.00h15.24v5.25h-15.24zM453.20 107.95h9.77v5.25h-9.77zM453.20 112.90h9.77v5.25h-9.77zM517.39 162.40h139.11v5.25h-139.11zM453.20 167.35h15.24v5.25h-15.24zM473.62 167.35h44.08v5.25h-44.08z"/>
<path fill="#3900f4" d="M583.06 -1.40h11.24v5.70h-11.24zM572.11 4.00h11.24v5.25h-11.24zM561.17 8.95h11.24v5.25h-11.24zM550.22 13.90h11.24v5.25h-11.24zM539.28 18.85h11.24v5.25h-11.24zM615.89 18.85h5.77v5.25h-5.77zM528.34 23.80h11.24v5.25h-11.24zM610.42 23.80h5.77v5.25h-5.77zM511.92 28.75h16.72v5.25h-16.72zM599.47 28.75h5.77v5.25h-5.77zM637.78 28.75h11.24v5.25h-11.24zM506.45 33.70h5.77v5.25h-5.77zM588.53 33.70h11.24v5.25h-11.24zM495.50 38.65h11.24v5.25h-11.24zM577.58 38.65h11.24v5.25h-11.24zM490.03 43.60h5.77v5.25h-5.77zM566.64 43.60h11.24v5.25h-11.24zM479.09 48.55h11.24v5.25h-11.24zM555.70 48.55h11.24v5.25h-11.24zM473.62 53.50h5.77v5.25h-5.77zM544.75 53.50h11.24v5.25h-11.24zM462.67 58.45h11.24v5.25h-11.24zM533.81 58.45h11.24v5.25h-11.24zM453.20 63.40h9.77v5.25h-9.77zM517.39 63.40h11.24v5.25h-11.24zM506.45 68.35h5.77v5.25h-5.77zM500.98 73.30h5.77v5.25h-5.77zM490.03 78.25h5.77v5.25h-5.77zM484.56 83.20h5.77v5.25h-5.77zM473.62 88.15h5.77v5.25h-5.77zM468.14 93.10h5.77v5.25h-5.77z"/>
<path fill="#3700ee" d="M594.00 -1.40h5.77v5.70h-5.77zM583.06 4.00h11.24v5.25h-11.24zM572.11 8.95h11.24v5.25h-11.24zM561.17 13.90h5.77v5.25h-5.77zM621.36 13.90h11.24v5.25h-11.24zM550.22 18.85h5.77v5.25h-5.77zM610.42 18.85h5.77v5.25h-5.77zM632.30 18.85h5.77v5.25h-5.77zM539.28 23.80h5.77v5.25h-5.77zM604.94 23.80h5.77v5.25h-5.77zM637.78 23.80h5.77v5.25h-5.77zM528.34 28.75h5.77v5.25h-5.77zM594.00 28.75h5.77v5.25h-5.77zM648.72 28.75h7.78v5.25h-7.78zM511.92 33.70h5.77v5.25h-5.77zM583.06 33.70h5.77v5.25h-5.77zM572.11 38.65h5.77v5.25h-5.77zM495.50 43.60h5.77v5.25h-5.77zM561.17 43.60h5.77v5.25h-5.77zM550.22 48.55h5.77v5.25h-5.77zM479.09 53.50h5.77v5.25h-5.77zM539.28 53.50h5.77v5.25h-5.77zM473.62 58.45h5.77v5.25h-5.77zM528.34 58.45h5.77v5.25h-5.77zM462.67 63.40h5.77v5.25h-5.77zM511.92 63.40h5.77v5.25h-5.77zM453.20 68.35h4.30v5.25h-4.30zM500.98 68.35h5.77v5.25h-5.77zM495.50 73.30h5.77v5.25h-5.77zM484.56 78.25h5.77v5.25h-5.77zM479.09 83.20h5.77v5.25h-5.77zM468.14 88.15h5.77v5.25h-5.77zM462.67 93.10h5.77v5.25h-5.77zM517.39 167.35h139.11v5.25h-139.11z"/>
<path fill="#3600e9" d="M599.47 -1.40h5.77v5.70h-5.77zM643.25 -1.40h13.25v5.70h-13.25zM594.00 4.00h5.77v5.25h-5.77zM583.06 8.95h5.77v5.25h-5.77zM626.83 8.95h5.77v5.25h-5.77zM566.64 13.90h5.77v5.25h-5.77zM615.89 13.90h5.77v5.25h-5.77zM632.30 13.90h5.77v5.25h-5.77zM555.70 18.85h5.77v5.25h-5.77zM544.75 23.80h5.77v5.25h-5.77zM599.47 23.80h5.77v5.25h-5.77zM643.25 23.80h13.25v5.25h-13.25zM533.81 28.75h5.77v5.25h-5.77zM588.53 28.75h5.77v5.25h-5.77zM517.39 33.70h11.24v5.25h-11.24zM577.58 33.70h5.77v5.25h-5.77zM506.45 38.65h5.77v5.25h-5.77zM566.64 38.65h5.77v5.25h-5.77zM500.98 43.60h5.77v5.25h-5.77zM555.70 43.60h5.77v5.25h-5.77zM490.03 48.55h5.77v5.25h-5.77zM544.75 48.55h5.77v5.25h-5.77zM484.56 53.50h5.77v5.25h-5.77zM533.81 53.50h5.77v5.25h-5.77zM517.39 58.45h11.24v5.25h-11.24zM468.14 63.40h5.77v5.25h-5.77zM506.45 63.40h5.77v5.25h-5.77zM457.20 68.35h5.77v5.25h-5.77zM490.03 73.30h5.77v5.25h-5.77zM473.62 83.20h5.77v5.25h-5.77zM453.20 93.10h9.77v5.25h-9.77zM453.20 172.30h203.30v5.25h-203.30z"/>
<path fill="#3300df" d="M604.94 -1.40h5.77v5.70h-5.77zM626.83 4.00h5.77v5.25h-5.77zM643.25 4.00h5.77v5.25h-5.77zM594.00 8.95h5.77v5.25h-5.77zM615.89 8.95h5.77v5.25h-5.77zM632.30 8.95h5.77v5.25h-5.77zM583.06 13.90h5.77v5.25h-5.77zM566.64 18.85h11.24v5.25h-11.24zM599.47 18.85h5.77v5.25h-5.77zM643.25 18.85h13.25v5.25h-13.25zM555.70 23.80h11.24v5.25h-11.24zM588.53 23.80h5.77v5.25h-5.77zM544.75 28.75h11.24v5.25h-11.24zM577.58 28.75h5.77v5.25h-5.77zM533.81 33.70h5.77v5.25h-5.77zM566.64 33.70h5.77v5.25h-5.77zM517.39 38.65h11.24v5.25h-11.24zM555.70 38.65h5.77v5.25h-5.77zM506.45 43.60h5.77v5.25h-5.77zM544.75 43.60h5.77v5.25h-5.77zM500.98 48.55h5.77v5.25h-5.77zM533.81 48.55h5.77v5.25h-5.77zM490.03 53.50h5.77v5.25h-5.77zM517.39 53.50h11.24v5.25h-11.24zM484.56 58.45h5.77v5.25h-5.77zM506.45 58.45h5.77v5.25h-5.77zM468.14 68.35h5.77v5.25h-5.77zM490.03 68.35h5.77v5.25h-5.77zM457.20 73.30h5.77v5.25h-5.77zM473.62 78.25h5.77v5.25h-5.77zM462.67 83.20h5.77v5.25h-5.77zM453.20 88.15h9.77v5.25h-9.77zM453.20 177.25h203.30v5.25h-203.30z"/>
<path fill="#3100d8" d="M610.42 -1.40h27.66v5.70h-27.66zM604.94 4.00h22.19v5.25h-22.19zM632.30 4.00h11.24v5.25h-11.24zM599.47 8.95h16.72v5.25h-16.72zM637.78 8.95h18.72v5.25h-18.72zM588.53 13.90h22.19v5.25h-22.19zM637.78 13.90h18.72v5.25h-18.72zM577.58 18.85h22.19v5.25h-22.19zM566.64 23.80h22.19v5.25h-22.19zM555.70 28.75h22.19v5.25h-22.19zM539.28 33.70h27.66v5.25h-27.66zM528.34 38.65h27.66v5.25h-27.66zM511.92 43.60h33.13v5.25h-33.13zM506.45 48.55h27.66v5.25h-27.66zM495.50 53.50h22.19v5.25h-22.19zM490.03 58.45h16.72v5.25h-16.72zM479.09 63.40h22.19v5.25h-22.19zM473.62 68.35h16.72v5.25h-16.72zM462.67 73.30h22.19v5.25h-22.19zM453.20 78.25h20.72v5.25h-20.72zM453.20 83.20h9.77v5.25h-9.77zM453.20 182.20h203.30v5.25h-203.30z"/>
<path fill="#3400e4" d="M637.78 -1.40h5.77v5.70h-5.77zM599.47 4.00h5.77v5.25h-5.77zM648.72 4.00h7.78v5.25h-7.78zM588.53 8.95h5.77v5.25h-5.77zM621.36 8.95h5.77v5.25h-5.77zM572.11 13.90h11.24v5.25h-11.24zM610.42 13.90h5.77v5.25h-5.77zM561.17 18.85h5.77v5.25h-5.77zM604.94 18.85h5.77v5.25h-5.77zM637.78 18.85h5.77v5.25h-5.77zM550.22 23.80h5.77v5.25h-5.77zM594.00 23.80h5.77v5.25h-5.77zM539.28 28.75h5.77v5.25h-5.77zM583.06 28.75h5.77v5.25h-5.77zM528.34 33.70h5.77v5.25h-5.77zM572.11 33.70h5.77v5.25h-5.77zM511.92 38.65h5.77v5.25h-5.77zM561.17 38.65h5.77v5.25h-5.77zM550.22 43.60h5.77v5.25h-5.77zM495.50 48.55h5.77v5.25h-5.77zM539.28 48.55h5.77v5.25h-5.77zM528.34 53.50h5.77v5.25h-5.77zM479.09 58.45h5.77v5.25h-5.77zM511.92 58.45h5.77v5.25h-5.77zM473.62 63.40h5.77v5.25h-5.77zM500.98 63.40h5.77v5.25h-5.77zM462.67 68.35h5.77v5.25h-5.77zM495.50 68.35h5.77v5.25h-5.77zM453.20 73.30h4.30v5.25h-4.30zM484.56 73.30h5.77v5.25h-5.77zM479.09 78.25h5.77v5.25h-5.77zM468.14 83.20h5.77v5.25h-5.77zM462.67 88.15h5.77v5.25h-5.77z"/>
<path fill="#380dff" d="M621.36 18.85h5.77v5.25h-5.77zM528.34 63.40h5.77v5.25h-5.77zM511.92 68.35h5.77v5.25h-5.77zM495.50 78.25h5.77v5.25h-5.77z"/>
<path fill="#3c00fe" d="M626.83 18.85h5.77v5.25h-5.77zM615.89 23.80h5.77v5.25h-5.77zM648.72 33.70h7.78v5.25h-7.78zM479.09 88.15h5.77v5.25h-5.77zM517.39 157.45h11.24v5.25h-11.24zM555.70 157.45h76.91v5.25h-76.91z"/>
<path fill="#00b7fe" d="M621.36 23.80h5.77v5.25h-5.77zM610.42 28.75h5.77v5.25h-5.77zM621.36 28.75h5.77v5.25h-5.77zM632.30 28.75h5.77v5.25h-5.77zM604.94 33.70h11.24v5.25h-11.24zM621.36 33.70h5.77v5.25h-5.77zM632.30 33.70h5.77v5.25h-5.77zM599.47 38.65h16.72v5.25h-16.72zM621.36 38.65h5.77v5.25h-5.77zM632.30 38.65h5.77v5.25h-5.77zM643.25 38.65h5.77v5.25h-5.77zM583.06 43.60h33.13v5.25h-33.13zM621.36 43.60h5.77v5.25h-5.77zM632.30 43.60h5.77v5.25h-5.77zM643.25 43.60h5.77v5.25h-5.77zM572.11 48.55h44.08v5.25h-44.08zM621.36 48.55h5.77v5.25h-5.77zM632.30 48.55h5.77v5.25h-5.77zM643.25 48.55h5.77v5.25h-5.77zM561.17 53.50h5.77v5.25h-5.77zM610.42 53.50h5.77v5.25h-5.77zM621.36 53.50h5.77v5.25h-5.77zM632.30 53.50h5.77v5.25h-5.77zM643.25 53.50h5.77v5.25h-5.77zM561.17 58.45h5.77v5.25h-5.77zM610.42 58.45h5.77v5.25h-5.77zM621.36 58.45h5.77v5.25h-5.77zM632.30 58.45h5.77v5.25h-5.77zM643.25 58.45h5.77v5.25h-5.77zM610.42 63.40h5.77v5.25h-5.77zM621.36 63.40h5.77v5.25h-5.77zM632.30 63.40h5.77v5.25h-5.77zM643.25 63.40h5.77v5.25h-5.77zM610.42 68.35h5.77v5.25h-5.77zM621.36 68.35h5.77v5.25h-5.77zM632.30 68.35h5.77v5.25h-5.77zM643.25 68.35h5.77v5.25h-5.77zM610.42 73.30h5.77v5.25h-5.77zM621.36 73.30h5.77v5.25h-5.77zM632.30 73.30h5.77v5.25h-5.77zM643.25 73.30h5.77v5.25h-5.77zM500.98 78.25h5.77v5.25h-5.77zM610.42 78.25h5.77v5.25h-5.77zM621.36 78.25h5.77v5.25h-5.77zM632.30 78.25h5.77v5.25h-5.77zM643.25 78.25h5.77v5.25h-5.77zM632.30 83.20h5.77v5.25h-5.77zM643.25 83.20h5.77v5.25h-5.77zM632.30 88.15h5.77v5.25h-5.77zM643.25 88.15h5.77v5.25h-5.77zM643.25 93.10h5.77v5.25h-5.77zM468.14 98.05h5.77v5.25h-5.77zM615.89 112.90h5.77v5.25h-5.77zM637.78 112.90h5.77v5.25h-5.77zM637.78 117.85h5.77v5.25h-5.77zM453.20 122.80h9.77v5.25h-9.77zM484.56 157.45h16.72v5.25h-16.72zM462.67 162.40h11.24v5.25h-11.24z"/>
<path fill="#2c33ff" d="M626.83 23.80h11.24v5.25h-11.24zM615.89 28.75h5.77v5.25h-5.77zM626.83 28.75h5.77v5.25h-5.77zM615.89 33.70h5.77v5.25h-5.77zM626.83 33.70h5.77v5.25h-5.77zM637.78 33.70h5.77v5.25h-5.77zM615.89 38.65h5.77v5.25h-5.77zM626.83 38.65h5.77v5.25h-5.77zM637.78 38.65h5.77v5.25h-5.77zM648.72 38.65h7.78v5.25h-7.78zM615.89 43.60h5.77v5.25h-5.77zM626.83 43.60h5.77v5.25h-5.77zM637.78 43.60h5.77v5.25h-5.77zM648.72 43.60h7.78v5.25h-7.78zM615.89 48.55h5.77v5.25h-5.77zM626.83 48.55h5.77v5.25h-5.77zM637.78 48.55h5.77v5.25h-5.77zM648.72 48.55h7.78v5.25h-7.78zM615.89 53.50h5.77v5.25h-5.77zM626.83 53.50h5.77v5.25h-5.77zM637.78 53.50h5.77v5.25h-5.77zM648.72 53.50h7.78v5.25h-7.78zM615.89 58.45h5.77v5.25h-5.77zM626.83 58.45h5.77v5.25h-5.77zM637.78 58.45h5.77v5.25h-5.77zM648.72 58.45h7.78v5.25h-7.78zM615.89 63.40h5.77v5.25h-5.77zM626.83 63.40h5.77v5.25h-5.77zM637.78 63.40h5.77v5.25h-5.77zM648.72 63.40h7.78v5.25h-7.78zM615.89 68.35h5.77v5.25h-5.77zM626.83 68.35h5.77v5.25h-5.77zM637.78 68.35h5.77v5.25h-5.77zM648.72 68.35h7.78v5.25h-7.78zM615.89 73.30h5.77v5.25h-5.77zM626.83 73.30h5.77v5.25h-5.77zM637.78 73.30h5.77v5.25h-5.77zM648.72 73.30h7.78v5.25h-7.78zM615.89 78.25h5.77v5.25h-5.77zM626.83 78.25h5.77v5.25h-5.77zM637.78 78.25h5.77v5.25h-5.77zM648.72 78.25h7.78v5.25h-7.78zM626.83 83.20h5.77v5.25h-5.77zM637.78 83.20h5.77v5.25h-5.77zM648.72 83.20h7.78v5.25h-7.78zM626.83 88.15h5.77v5.25h-5.77zM637.78 88.15h5.77v5.25h-5.77zM648.72 88.15h7.78v5.25h-7.78zM648.72 93.10h7.78v5.25h-7.78z"/>
<path fill="#331cff" d="M604.94 28.75h5.77v5.25h-5.77z"/>
<path fill="#1e64ff" d="M599.47 33.70h5.77v5.25h-5.77zM577.58 43.60h5.77v5.25h-5.77zM555.70 53.50h5.77v5.25h-5.77zM517.39 68.35h5.77v5.25h-5.77zM490.03 83.20h5.77v5.25h-5.77zM615.89 83.20h5.77v5.25h-5.77zM473.62 93.10h5.77v5.25h-5.77zM637.78 98.05h5.77v5.25h-5.77z"/>
<path fill="#0e8eff" d="M643.25 33.70h5.77v5.25h-5.77zM615.89 93.10h5.77v5.25h-5.77zM648.72 103.00h7.78v5.25h-7.78z"/>
<path fill="#254cff" d="M588.53 38.65h5.77v5.25h-5.77zM637.78 93.10h5.77v5.25h-5.77zM648.72 98.05h7.78v5.25h-7.78zM626.83 103.00h5.77v5.25h-5.77zM626.83 107.95h5.77v5.25h-5.77zM626.83 112.90h5.77v5.25h-5.77zM626.83 117.85h5.77v5.25h-5.77z"/>
<path fill="#04a9ff" d="M594.00 38.65h5.77v5.25h-5.77zM522.86 68.35h5.77v5.25h-5.77zM484.56 88.15h5.77v5.25h-5.77zM615.89 103.00h5.77v5.25h-5.77zM615.89 107.95h5.77v5.25h-5.77zM626.83 127.75h5.77v5.25h-5.77zM555.70 152.50h5.77v5.25h-5.77z"/>
<path fill="#1972ff" d="M566.64 48.55h5.77v5.25h-5.77zM544.75 58.45h5.77v5.25h-5.77zM626.83 93.10h5.77v5.25h-5.77zM462.67 107.95h5.77v5.25h-5.77zM453.20 117.85h9.77v5.25h-9.77zM626.83 122.80h5.77v5.25h-5.77zM453.20 162.40h9.77v5.25h-9.77zM473.62 162.40h44.08v5.25h-44.08zM468.14 167.35h5.77v5.25h-5.77z"/>
<path fill="#00c2fb" d="M566.64 53.50h5.77v5.25h-5.77zM599.47 53.50h11.24v5.25h-11.24zM555.70 58.45h5.77v5.25h-5.77zM604.94 58.45h5.77v5.25h-5.77zM604.94 63.40h5.77v5.25h-5.77zM604.94 68.35h5.77v5.25h-5.77zM604.94 73.30h5.77v5.25h-5.77zM604.94 78.25h5.77v5.25h-5.77zM621.36 83.20h5.77v5.25h-5.77zM621.36 88.15h5.77v5.25h-5.77zM643.25 98.05h5.77v5.25h-5.77zM648.72 107.95h7.78v5.25h-7.78z"/>
<path fill="#00cef8" d="M572.11 53.50h5.77v5.25h-5.77zM594.00 53.50h5.77v5.25h-5.77zM550.22 58.45h5.77v5.25h-5.77zM566.64 58.45h5.77v5.25h-5.77zM539.28 63.40h5.77v5.25h-5.77zM610.42 83.20h5.77v5.25h-5.77zM632.30 93.10h5.77v5.25h-5.77zM632.30 103.00h5.77v5.25h-5.77zM615.89 117.85h5.77v5.25h-5.77zM517.39 152.50h11.24v5.25h-11.24zM604.94 152.50h27.66v5.25h-27.66z"/>
<path fill="#00d9f5" d="M577.58 53.50h16.72v5.25h-16.72zM599.47 58.45h5.77v5.25h-5.77zM599.47 63.40h5.77v5.25h-5.77zM599.47 68.35h5.77v5.25h-5.77zM599.47 73.30h5.77v5.25h-5.77zM599.47 78.25h5.77v5.25h-5.77zM632.30 98.05h5.77v5.25h-5.77zM621.36 103.00h5.77v5.25h-5.77zM621.36 107.95h5.77v5.25h-5.77zM632.30 107.95h5.77v5.25h-5.77zM621.36 112.90h5.77v5.25h-5.77zM637.78 122.80h5.77v5.25h-5.77z"/>
<path fill="#00e5f2" d="M572.11 58.45h5.77v5.25h-5.77zM528.34 68.35h5.77v5.25h-5.77zM511.92 73.30h5.77v5.25h-5.77zM495.50 83.20h5.77v5.25h-5.77zM604.94 83.20h5.77v5.25h-5.77zM479.09 93.10h5.77v5.25h-5.77zM621.36 93.10h5.77v5.25h-5.77zM632.30 112.90h5.77v5.25h-5.77zM648.72 112.90h7.78v5.25h-7.78zM621.36 117.85h5.77v5.25h-5.77zM632.30 117.85h5.77v5.25h-5.77zM648.72 117.85h7.78v5.25h-7.78zM615.89 122.80h5.77v5.25h-5.77zM528.34 152.50h27.66v5.25h-27.66zM632.30 152.50h24.20v5.25h-24.20z"/>
<path fill="#00ebec" d="M577.58 58.45h22.19v5.25h-22.19zM594.00 63.40h5.77v5.25h-5.77zM594.00 68.35h5.77v5.25h-5.77zM594.00 73.30h5.77v5.25h-5.77zM594.00 78.25h5.77v5.25h-5.77zM610.42 88.15h5.77v5.25h-5.77zM610.42 93.10h5.77v5.25h-5.77zM621.36 98.05h5.77v5.25h-5.77zM643.25 103.00h5.77v5.25h-5.77zM615.89 127.75h5.77v5.25h-5.77z"/>
<path fill="#1480ff" d="M533.81 63.40h5.77v5.25h-5.77zM506.45 73.30h5.77v5.25h-5.77zM615.89 88.15h5.77v5.25h-5.77zM626.83 98.05h5.77v5.25h-5.77zM637.78 103.00h5.77v5.25h-5.77zM528.34 157.45h27.66v5.25h-27.66zM632.30 157.45h24.20v5.25h-24.20z"/>
<path fill="#00eec5" d="M544.75 63.40h5.77v5.25h-5.77zM561.17 63.40h5.77v5.25h-5.77zM572.11 68.35h5.77v5.25h-5.77zM528.34 73.30h5.77v5.25h-5.77zM566.64 73.30h5.77v5.25h-5.77zM550.22 78.25h5.77v5.25h-5.77zM490.03 88.15h5.77v5.25h-5.77zM539.28 88.15h5.77v5.25h-5.77zM599.47 88.15h5.77v5.25h-5.77zM544.75 93.10h38.60v5.25h-38.60zM599.47 93.10h5.77v5.25h-5.77zM550.22 103.00h5.77v5.25h-5.77zM621.36 127.75h5.77v5.25h-5.77z"/>
<path fill="#00efb1" d="M550.22 63.40h5.77v5.25h-5.77zM533.81 73.30h5.77v5.25h-5.77zM561.17 73.30h5.77v5.25h-5.77zM511.92 78.25h38.60v5.25h-38.60zM594.00 88.15h5.77v5.25h-5.77zM588.53 93.10h11.24v5.25h-11.24zM473.62 98.05h5.77v5.25h-5.77zM544.75 98.05h11.24v5.25h-11.24zM572.11 98.05h27.66v5.25h-27.66zM544.75 103.00h5.77v5.25h-5.77zM577.58 103.00h33.13v5.25h-33.13zM468.14 107.95h5.77v5.25h-5.77zM566.64 107.95h49.55v5.25h-49.55zM610.42 112.90h5.77v5.25h-5.77zM643.25 112.90h5.77v5.25h-5.77zM462.67 117.85h5.77v5.25h-5.77zM643.25 117.85h5.77v5.25h-5.77zM453.20 127.75h9.77v5.25h-9.77zM479.09 152.50h38.60v5.25h-38.60zM462.67 157.45h5.77v5.25h-5.77z"/>
<path fill="#00efbb" d="M555.70 63.40h5.77v5.25h-5.77zM533.81 68.35h5.77v5.25h-5.77zM506.45 78.25h5.77v5.25h-5.77zM539.28 83.20h5.77v5.25h-5.77zM588.53 88.15h5.77v5.25h-5.77zM539.28 93.10h5.77v5.25h-5.77zM583.06 93.10h5.77v5.25h-5.77zM555.70 98.05h16.72v5.25h-16.72zM599.47 98.05h5.77v5.25h-5.77zM572.11 103.00h5.77v5.25h-5.77zM610.42 103.00h5.77v5.25h-5.77zM632.30 127.75h5.77v5.25h-5.77zM648.72 127.75h7.78v5.25h-7.78zM626.83 132.70h5.77v5.25h-5.77zM517.39 147.55h139.11v5.25h-139.11z"/>
<path fill="#00edd8" d="M566.64 63.40h5.77v5.25h-5.77zM572.11 73.30h5.77v5.25h-5.77zM555.70 78.25h5.77v5.25h-5.77zM550.22 83.20h5.77v5.25h-5.77zM583.06 83.20h5.77v5.25h-5.77zM604.94 88.15h5.77v5.25h-5.77zM604.94 93.10h5.77v5.25h-5.77zM610.42 98.05h5.77v5.25h-5.77zM561.17 103.00h5.77v5.25h-5.77zM632.30 122.80h5.77v5.25h-5.77zM637.78 127.75h5.77v5.25h-5.77z"/>
<path fill="#00ece2" d="M572.11 63.40h22.19v5.25h-22.19zM577.58 68.35h16.72v5.25h-16.72zM577.58 73.30h16.72v5.25h-16.72zM561.17 78.25h33.13v5.25h-33.13zM555.70 83.20h27.66v5.25h-27.66zM599.47 83.20h5.77v5.25h-5.77zM544.75 88.15h38.60v5.25h-38.60zM468.14 103.00h5.77v5.25h-5.77zM462.67 112.90h5.77v5.25h-5.77zM621.36 122.80h5.77v5.25h-5.77zM648.72 122.80h7.78v5.25h-7.78zM453.20 157.45h9.77v5.25h-9.77zM468.14 157.45h16.72v5.25h-16.72zM500.98 157.45h16.72v5.25h-16.72z"/>
<path fill="#0af289" d="M539.28 68.35h5.77v5.25h-5.77zM544.75 73.30h5.77v5.25h-5.77zM522.86 83.20h5.77v5.25h-5.77zM610.42 117.85h5.77v5.25h-5.77zM621.36 137.65h5.77v5.25h-5.77zM632.30 137.65h5.77v5.25h-5.77z"/>
<path fill="#12f56a" d="M544.75 68.35h16.72v5.25h-16.72zM511.92 83.20h5.77v5.25h-5.77zM495.50 88.15h5.77v5.25h-5.77zM522.86 93.10h5.77v5.25h-5.77zM473.62 103.00h5.77v5.25h-5.77zM533.81 103.00h5.77v5.25h-5.77zM539.28 107.95h5.77v5.25h-5.77zM544.75 112.90h22.19v5.25h-22.19zM544.75 117.85h22.19v5.25h-22.19zM643.25 127.75h5.77v5.25h-5.77zM643.25 132.70h13.25v5.25h-13.25zM610.42 137.65h5.77v5.25h-5.77zM643.25 137.65h13.25v5.25h-13.25zM555.70 142.60h5.77v5.25h-5.77zM473.62 152.50h5.77v5.25h-5.77z"/>
<path fill="#0ff474" d="M561.17 68.35h5.77v5.25h-5.77zM517.39 83.20h5.77v5.25h-5.77zM528.34 88.15h5.77v5.25h-5.77zM566.64 117.85h11.24v5.25h-11.24zM610.42 122.80h5.77v5.25h-5.77zM610.42 127.75h5.77v5.25h-5.77zM610.42 132.70h5.77v5.25h-5.77zM637.78 137.65h5.77v5.25h-5.77zM561.17 142.60h95.33v5.25h-95.33z"/>
<path fill="#04f19d" d="M566.64 68.35h5.77v5.25h-5.77zM539.28 73.30h5.77v5.25h-5.77zM555.70 73.30h5.77v5.25h-5.77zM533.81 88.15h5.77v5.25h-5.77zM484.56 93.10h5.77v5.25h-5.77zM533.81 98.05h5.77v5.25h-5.77zM550.22 107.95h5.77v5.25h-5.77zM632.30 132.70h5.77v5.25h-5.77z"/>
<path fill="#00edcf" d="M517.39 73.30h11.24v5.25h-11.24zM544.75 83.20h5.77v5.25h-5.77zM588.53 83.20h11.24v5.25h-11.24zM583.06 88.15h5.77v5.25h-5.77zM604.94 98.05h5.77v5.25h-5.77zM555.70 103.00h5.77v5.25h-5.77zM566.64 103.00h5.77v5.25h-5.77zM643.25 107.95h5.77v5.25h-5.77z"/>
<path fill="#07f293" d="M550.22 73.30h5.77v5.25h-5.77zM500.98 83.20h5.77v5.25h-5.77zM528.34 83.20h5.77v5.25h-5.77zM528.34 93.10h5.77v5.25h-5.77zM528.34 98.05h5.77v5.25h-5.77zM539.28 103.00h5.77v5.25h-5.77zM544.75 107.95h5.77v5.25h-5.77zM572.11 112.90h5.77v5.25h-5.77zM643.25 122.80h5.77v5.25h-5.77zM615.89 132.70h5.77v5.25h-5.77zM626.83 137.65h5.77v5.25h-5.77z"/>
<path fill="#0cf37e" d="M506.45 83.20h5.77v5.25h-5.77zM566.64 112.90h5.77v5.25h-5.77zM577.58 117.85h33.13v5.25h-33.13zM637.78 132.70h5.77v5.25h-5.77zM615.89 137.65h5.77v5.25h-5.77z"/>
<path fill="#01f0a8" d="M533.81 83.20h5.77v5.25h-5.77zM533.81 93.10h5.77v5.25h-5.77zM539.28 98.05h5.77v5.25h-5.77zM555.70 107.95h11.24v5.25h-11.24zM577.58 112.90h33.13v5.25h-33.13zM621.36 132.70h5.77v5.25h-5.77z"/>
<path fill="#4dfb4d" d="M500.98 88.15h5.77v5.25h-5.77zM604.94 132.70h5.77v5.25h-5.77z"/>
<path fill="#7bff3a" d="M506.45 88.15h5.77v5.25h-5.77zM490.03 93.10h5.77v5.25h-5.77zM517.39 93.10h5.77v5.25h-5.77zM533.81 107.95h5.77v5.25h-5.77zM539.28 122.80h5.77v5.25h-5.77zM561.17 137.65h22.19v5.25h-22.19z"/>
<path fill="#89ff2d" d="M511.92 88.15h5.77v5.25h-5.77zM594.00 127.75h5.77v5.25h-5.77zM555.70 137.65h5.77v5.25h-5.77zM583.06 137.65h5.77v5.25h-5.77zM599.47 137.65h5.77v5.25h-5.77z"/>
<path fill="#65fd44" d="M517.39 88.15h5.77v5.25h-5.77zM528.34 103.00h5.77v5.25h-5.77zM539.28 112.90h5.77v5.25h-5.77zM539.28 117.85h5.77v5.25h-5.77zM599.47 127.75h5.77v5.25h-5.77zM517.39 142.60h33.13v5.25h-33.13z"/>
<path fill="#36f857" d="M522.86 88.15h5.77v5.25h-5.77zM544.75 122.80h55.02v5.25h-55.02zM604.94 127.75h5.77v5.25h-5.77zM604.94 137.65h5.77v5.25h-5.77zM550.22 142.60h5.77v5.25h-5.77z"/>
<path fill="#a7ff14" d="M495.50 93.10h5.77v5.25h-5.77zM533.81 112.90h5.77v5.25h-5.77zM533.81 117.85h5.77v5.25h-5.77zM533.81 122.80h5.77v5.25h-5.77zM533.81 132.70h5.77v5.25h-5.77zM555.70 132.70h5.77v5.25h-5.77zM583.06 132.70h5.77v5.25h-5.77zM522.86 137.65h5.77v5.25h-5.77zM588.53 137.65h5.77v5.25h-5.77z"/>
<path fill="#b5ff07" d="M500.98 93.10h5.77v5.25h-5.77zM528.34 107.95h5.77v5.25h-5.77zM522.86 127.75h5.77v5.25h-5.77zM522.86 132.70h5.77v5.25h-5.77zM550.22 132.70h5.77v5.25h-5.77zM517.39 137.65h5.77v5.25h-5.77zM533.81 137.65h5.77v5.25h-5.77zM550.22 137.65h5.77v5.25h-5.77zM594.00 137.65h5.77v5.25h-5.77z"/>
<path fill="#c3ff00" d="M506.45 93.10h11.24v5.25h-11.24zM517.39 103.00h5.77v5.25h-5.77zM528.34 122.80h5.77v5.25h-5.77zM539.28 132.70h5.77v5.25h-5.77zM588.53 132.70h11.24v5.25h-11.24zM539.28 137.65h5.77v5.25h-5.77z"/>
<path fill="#98ff21" d="M479.09 98.05h44.08v5.25h-44.08zM484.56 103.00h33.13v5.25h-33.13zM522.86 103.00h5.77v5.25h-5.77zM473.62 107.95h5.77v5.25h-5.77zM500.98 107.95h16.72v5.25h-16.72zM468.14 112.90h5.77v5.25h-5.77zM462.67 122.80h5.77v5.25h-5.77zM528.34 127.75h65.96v5.25h-65.96zM528.34 132.70h5.77v5.25h-5.77zM561.17 132.70h22.19v5.25h-22.19zM599.47 132.70h5.77v5.25h-5.77zM528.34 137.65h5.77v5.25h-5.77zM479.09 147.55h38.60v5.25h-38.60zM468.14 152.50h5.77v5.25h-5.77z"/>
<path fill="#1ef660" d="M522.86 98.05h5.77v5.25h-5.77zM599.47 122.80h11.24v5.25h-11.24z"/>
<path fill="#099cff" d="M615.89 98.05h5.77v5.25h-5.77zM637.78 107.95h5.77v5.25h-5.77zM561.17 152.50h44.08v5.25h-44.08z"/>
<path fill="#e9fc00" d="M479.09 103.00h5.77v5.25h-5.77zM479.09 107.95h22.19v5.25h-22.19zM484.56 112.90h49.55v5.25h-49.55zM484.56 117.85h49.55v5.25h-49.55zM484.56 122.80h33.13v5.25h-33.13zM479.09 127.75h38.60v5.25h-38.60zM479.09 132.70h22.19v5.25h-22.19zM506.45 132.70h11.24v5.25h-11.24zM479.09 137.65h38.60v5.25h-38.60zM473.62 142.60h44.08v5.25h-44.08zM473.62 147.55h5.77v5.25h-5.77z"/>
<path fill="#ddfd00" d="M517.39 107.95h5.77v5.25h-5.77zM517.39 122.80h11.24v5.25h-11.24z"/>
<path fill="#d0fe00" d="M522.86 107.95h5.77v5.25h-5.77zM517.39 127.75h5.77v5.25h-5.77zM517.39 132.70h5.77v5.25h-5.77zM544.75 132.70h5.77v5.25h-5.77zM544.75 137.65h5.77v5.25h-5.77z"/>
<path fill="#ffa700" d="M473.62 112.90h11.24v5.25h-11.24zM468.14 117.85h5.77v5.25h-5.77zM479.09 117.85h5.77v5.25h-5.77zM479.09 122.80h5.77v5.25h-5.77zM462.67 127.75h5.77v5.25h-5.77zM473.62 127.75h5.77v5.25h-5.77zM500.98 132.70h5.77v5.25h-5.77zM473.62 137.65h5.77v5.25h-5.77zM468.14 147.55h5.77v5.25h-5.77z"/>
<path fill="#ff5300" d="M473.62 117.85h5.77v5.25h-5.77zM468.14 122.80h11.24v5.25h-11.24zM453.20 132.70h9.77v5.25h-9.77zM473.62 132.70h5.77v5.25h-5.77zM468.14 142.60h5.77v5.25h-5.77zM462.67 152.50h5.77v5.25h-5.77z"/>
<path fill="#f90000" d="M468.14 127.75h5.77v5.25h-5.77zM468.14 132.70h5.77v5.25h-5.77zM468.14 137.65h5.77v5.25h-5.77z"/>
<path fill="#b90000" d="M462.67 132.70h5.77v5.25h-5.77zM453.20 137.65h15.24v5.25h-15.24zM453.20 142.60h15.24v5.25h-15.24zM453.20 147.55h15.24v5.25h-15.24zM453.20 152.50h9.77v5.25h-9.77z"/>
<path fill="#3000d1" d="M453.20 187.15h203.30v5.25h-203.30z"/>
<path fill="#2d00c2" d="M453.20 192.10h203.30v5.25h-203.30z"/>
<path fill="#2b00bb" d="M453.20 197.05h203.30v5.85h-203.30z"/></g>
<polyline points="456.20,155.64 459.54,152.79 462.88,149.94 466.22,147.12 469.56,144.31 472.89,141.30 476.23,137.99 479.57,134.54 482.91,131.01 486.25,127.39 489.59,123.72 492.93,119.99 496.27,116.18 499.61,112.27 502.95,108.31 506.28,104.47 509.62,100.75 512.96,96.94 516.30,92.87 519.64,88.73 522.98,84.80 526.32,81.25 529.66,77.92 533.00,74.72 536.34,71.63 539.67,68.66 543.01,65.79 546.35,63.01 549.69,60.34 553.03,57.82 556.37,55.41 559.71,53.14 563.05,51.04 566.39,49.06 569.73,47.11 573.06,45.10 576.40,43.16 579.74,41.36 583.08,39.64 586.42,38.01 589.76,36.43 593.10,34.87 596.44,33.47 599.78,32.33 603.12,31.39 606.45,30.57 609.79,29.78 613.13,28.96 616.47,28.17 619.81,27.45 623.15,26.86 626.49,26.36 629.83,25.91 633.17,25.53 636.51,25.17 639.84,24.85 643.18,24.62 646.52,24.49 649.86,24.41 653.20,24.37" fill="none" stroke="#ff14f4" stroke-width="2.8" stroke-linejoin="round" stroke-linecap="round" shape-rendering="geometricPrecision"/>
</g>
<rect x="456.20" y="1.60" width="197.00" height="198.00" fill="none" stroke="#2a2a40" stroke-width="0.8" stroke-opacity="0.8"/>
<text x="475.7" y="37.0" class="lab">(c)</text>
<g clip-path="url(#cpd)">
<g filter="url(#bl)"><path fill="#3900f4" d="M38.80 203.30h150.64v5.70h-150.64zM205.51 203.30h34.19v5.70h-34.19zM38.80 208.70h150.64v5.17h-150.64zM210.97 208.70h28.73v5.17h-28.73zM38.80 213.57h123.35v5.17h-123.35zM172.77 213.57h5.76v5.17h-5.76zM210.97 213.57h28.73v5.17h-28.73zM38.80 218.44h106.98v5.17h-106.98zM216.42 218.44h23.28v5.17h-23.28zM38.80 223.31h90.61v5.17h-90.61zM221.88 223.31h5.76v5.17h-5.76zM38.80 228.18h79.70v5.17h-79.70zM38.80 233.05h68.78v5.17h-68.78zM38.80 237.92h57.87v5.17h-57.87zM38.80 242.79h52.41v5.17h-52.41zM38.80 247.66h41.50v5.17h-41.50zM38.80 252.53h30.58v5.17h-30.58zM38.80 257.40h19.67v5.17h-19.67zM38.80 262.27h14.21v5.17h-14.21zM38.80 267.14h8.76v5.17h-8.76zM38.80 272.01h8.76v5.17h-8.76zM85.46 281.75h5.76v5.17h-5.76z"/>
<path fill="#3700ee" d="M189.14 203.30h5.76v5.70h-5.76zM189.14 208.70h5.76v5.17h-5.76zM205.51 208.70h5.76v5.17h-5.76zM161.85 213.57h11.21v5.17h-11.21zM178.22 213.57h5.76v5.17h-5.76zM145.48 218.44h16.67v5.17h-16.67zM172.77 218.44h5.76v5.17h-5.76zM210.97 218.44h5.76v5.17h-5.76zM129.11 223.31h16.67v5.17h-16.67zM216.42 223.31h5.76v5.17h-5.76zM227.34 223.31h12.36v5.17h-12.36zM118.20 228.18h11.21v5.17h-11.21zM221.88 228.18h5.76v5.17h-5.76zM107.28 233.05h5.76v5.17h-5.76zM200.05 233.05h5.76v5.17h-5.76zM96.37 237.92h11.21v5.17h-11.21zM194.60 237.92h5.76v5.17h-5.76zM90.91 242.79h5.76v5.17h-5.76zM189.14 242.79h5.76v5.17h-5.76zM205.51 242.79h5.76v5.17h-5.76zM80.00 247.66h5.76v5.17h-5.76zM161.85 247.66h11.21v5.17h-11.21zM178.22 247.66h5.76v5.17h-5.76zM69.08 252.53h11.21v5.17h-11.21zM145.48 252.53h16.67v5.17h-16.67zM172.77 252.53h5.76v5.17h-5.76zM210.97 252.53h5.76v5.17h-5.76zM58.17 257.40h11.21v5.17h-11.21zM129.11 257.40h16.67v5.17h-16.67zM216.42 257.40h5.76v5.17h-5.76zM227.34 257.40h12.36v5.17h-12.36zM52.71 262.27h5.76v5.17h-5.76zM118.20 262.27h11.21v5.17h-11.21zM221.88 262.27h5.76v5.17h-5.76zM47.26 267.14h5.76v5.17h-5.76zM107.28 267.14h5.76v5.17h-5.76zM96.37 272.01h11.21v5.17h-11.21zM38.80 276.88h8.76v5.17h-8.76zM90.91 276.88h5.76v5.17h-5.76zM80.00 281.75h5.76v5.17h-5.76zM69.08 286.62h11.21v5.17h-11.21zM58.17 291.49h11.21v5.17h-11.21zM52.71 296.36h5.76v5.17h-5.76zM47.26 301.23h5.76v5.17h-5.76zM38.80 310.97h8.76v5.17h-8.76zM101.83 369.41h137.87v5.17h-137.87z"/>
<path fill="#3600e9" d="M194.60 203.30h5.76v5.70h-5.76zM183.68 213.57h5.76v5.17h-5.76zM161.85 218.44h11.21v5.17h-11.21zM178.22 218.44h5.76v5.17h-5.76zM145.48 223.31h11.21v5.17h-11.21zM210.97 223.31h5.76v5.17h-5.76zM129.11 228.18h11.21v5.17h-11.21zM200.05 228.18h5.76v5.17h-5.76zM227.34 228.18h12.36v5.17h-12.36zM112.74 233.05h11.21v5.17h-11.21zM194.60 233.05h5.76v5.17h-5.76zM221.88 233.05h5.76v5.17h-5.76zM107.28 237.92h5.76v5.17h-5.76zM189.14 237.92h5.76v5.17h-5.76zM205.51 237.92h5.76v5.17h-5.76zM96.37 242.79h5.76v5.17h-5.76zM183.68 242.79h5.76v5.17h-5.76zM85.46 247.66h11.21v5.17h-11.21zM150.94 247.66h11.21v5.17h-11.21zM172.77 247.66h5.76v5.17h-5.76zM80.00 252.53h5.76v5.17h-5.76zM134.57 252.53h11.21v5.17h-11.21zM216.42 252.53h5.76v5.17h-5.76zM227.34 252.53h12.36v5.17h-12.36zM69.08 257.40h5.76v5.17h-5.76zM118.20 257.40h11.21v5.17h-11.21zM221.88 257.40h5.76v5.17h-5.76zM58.17 262.27h5.76v5.17h-5.76zM107.28 262.27h11.21v5.17h-11.21zM52.71 267.14h5.76v5.17h-5.76zM101.83 267.14h5.76v5.17h-5.76zM47.26 272.01h5.76v5.17h-5.76zM90.91 272.01h5.76v5.17h-5.76zM80.00 276.88h11.21v5.17h-11.21zM38.80 281.75h8.76v5.17h-8.76zM74.54 281.75h5.76v5.17h-5.76zM63.63 286.62h5.76v5.17h-5.76zM38.80 306.10h8.76v5.17h-8.76zM38.80 374.28h200.90v5.17h-200.90z"/>
<path fill="#3400e4" d="M200.05 203.30h5.76v5.70h-5.76zM194.60 208.70h5.76v5.17h-5.76zM189.14 213.57h5.76v5.17h-5.76zM205.51 213.57h5.76v5.17h-5.76zM183.68 218.44h5.76v5.17h-5.76zM156.40 223.31h11.21v5.17h-11.21zM172.77 223.31h11.21v5.17h-11.21zM140.03 228.18h11.21v5.17h-11.21zM194.60 228.18h5.76v5.17h-5.76zM216.42 228.18h5.76v5.17h-5.76zM123.66 233.05h5.76v5.17h-5.76zM189.14 233.05h5.76v5.17h-5.76zM112.74 237.92h5.76v5.17h-5.76zM183.68 237.92h5.76v5.17h-5.76zM101.83 242.79h5.76v5.17h-5.76zM156.40 242.79h27.59v5.17h-27.59zM96.37 247.66h5.76v5.17h-5.76zM145.48 247.66h5.76v5.17h-5.76zM210.97 247.66h5.76v5.17h-5.76zM85.46 252.53h5.76v5.17h-5.76zM123.66 252.53h11.21v5.17h-11.21zM74.54 257.40h5.76v5.17h-5.76zM112.74 257.40h5.76v5.17h-5.76zM63.63 262.27h5.76v5.17h-5.76zM101.83 262.27h5.76v5.17h-5.76zM96.37 267.14h5.76v5.17h-5.76zM85.46 272.01h5.76v5.17h-5.76zM74.54 276.88h5.76v5.17h-5.76zM69.08 281.75h5.76v5.17h-5.76zM58.17 286.62h5.76v5.17h-5.76zM52.71 291.49h5.76v5.17h-5.76zM47.26 296.36h5.76v5.17h-5.76z"/>
<path fill="#3300df" d="M200.05 208.70h5.76v5.17h-5.76zM205.51 218.44h5.76v5.17h-5.76zM167.31 223.31h5.76v5.17h-5.76zM200.05 223.31h5.76v5.17h-5.76zM150.94 228.18h5.76v5.17h-5.76zM210.97 228.18h5.76v5.17h-5.76zM129.11 233.05h16.67v5.17h-16.67zM205.51 233.05h5.76v5.17h-5.76zM216.42 233.05h5.76v5.17h-5.76zM227.34 233.05h12.36v5.17h-12.36zM118.20 237.92h5.76v5.17h-5.76zM167.31 237.92h5.76v5.17h-5.76zM221.88 237.92h5.76v5.17h-5.76zM107.28 242.79h5.76v5.17h-5.76zM150.94 242.79h5.76v5.17h-5.76zM210.97 242.79h5.76v5.17h-5.76zM134.57 247.66h11.21v5.17h-11.21zM216.42 247.66h5.76v5.17h-5.76zM227.34 247.66h12.36v5.17h-12.36zM90.91 252.53h5.76v5.17h-5.76zM118.20 252.53h5.76v5.17h-5.76zM221.88 252.53h5.76v5.17h-5.76zM80.00 257.40h5.76v5.17h-5.76zM107.28 257.40h5.76v5.17h-5.76zM69.08 262.27h5.76v5.17h-5.76zM58.17 267.14h11.21v5.17h-11.21zM90.91 267.14h5.76v5.17h-5.76zM52.71 272.01h5.76v5.17h-5.76zM80.00 272.01h5.76v5.17h-5.76zM47.26 276.88h5.76v5.17h-5.76zM69.08 276.88h5.76v5.17h-5.76zM63.63 281.75h5.76v5.17h-5.76zM38.80 286.62h8.76v5.17h-8.76zM52.71 286.62h5.76v5.17h-5.76zM47.26 291.49h5.76v5.17h-5.76zM38.80 301.23h8.76v5.17h-8.76zM38.80 379.15h200.90v5.17h-200.90z"/>
<path fill="#3100d8" d="M194.60 213.57h11.21v5.17h-11.21zM189.14 218.44h16.67v5.17h-16.67zM183.68 223.31h16.67v5.17h-16.67zM205.51 223.31h5.76v5.17h-5.76zM156.40 228.18h38.50v5.17h-38.50zM205.51 228.18h5.76v5.17h-5.76zM145.48 233.05h43.96v5.17h-43.96zM210.97 233.05h5.76v5.17h-5.76zM123.66 237.92h43.96v5.17h-43.96zM172.77 237.92h11.21v5.17h-11.21zM210.97 237.92h11.21v5.17h-11.21zM227.34 237.92h12.36v5.17h-12.36zM112.74 242.79h38.50v5.17h-38.50zM216.42 242.79h23.28v5.17h-23.28zM101.83 247.66h33.04v5.17h-33.04zM221.88 247.66h5.76v5.17h-5.76zM96.37 252.53h22.13v5.17h-22.13zM85.46 257.40h22.13v5.17h-22.13zM74.54 262.27h27.58v5.17h-27.58zM69.08 267.14h22.13v5.17h-22.13zM58.17 272.01h22.13v5.17h-22.13zM52.71 276.88h16.67v5.17h-16.67zM47.26 281.75h16.67v5.17h-16.67zM47.26 286.62h5.76v5.17h-5.76zM38.80 291.49h8.76v5.17h-8.76zM38.80 296.36h8.76v5.17h-8.76zM38.80 384.02h200.90v5.17h-200.90z"/>
<path fill="#380dff" d="M200.05 237.92h5.76v5.17h-5.76zM183.68 247.66h5.76v5.17h-5.76zM221.88 267.14h5.76v5.17h-5.76z"/>
<path fill="#099cff" d="M194.60 242.79h5.76v5.17h-5.76zM189.14 247.66h11.21v5.17h-11.21zM183.68 252.53h16.67v5.17h-16.67zM161.85 257.40h38.50v5.17h-38.50zM161.85 262.27h38.50v5.17h-38.50zM216.42 262.27h5.76v5.17h-5.76zM161.85 267.14h27.59v5.17h-27.59zM161.85 272.01h22.13v5.17h-22.13zM167.31 276.88h16.67v5.17h-16.67zM172.77 281.75h11.21v5.17h-11.21zM200.05 306.10h5.76v5.17h-5.76zM200.05 310.97h5.76v5.17h-5.76zM145.48 354.80h43.96v5.17h-43.96z"/>
<path fill="#331cff" d="M200.05 242.79h5.76v5.17h-5.76zM200.05 247.66h5.76v5.17h-5.76zM161.85 252.53h5.76v5.17h-5.76zM178.22 252.53h5.76v5.17h-5.76zM200.05 252.53h5.76v5.17h-5.76zM145.48 257.40h5.76v5.17h-5.76zM200.05 257.40h5.76v5.17h-5.76zM200.05 262.27h5.76v5.17h-5.76z"/>
<path fill="#04a9ff" d="M205.51 247.66h5.76v5.17h-5.76zM205.51 252.53h5.76v5.17h-5.76zM156.40 257.40h5.76v5.17h-5.76zM205.51 257.40h5.76v5.17h-5.76zM205.51 262.27h5.76v5.17h-5.76zM189.14 267.14h11.21v5.17h-11.21zM183.68 272.01h11.21v5.17h-11.21zM161.85 276.88h5.76v5.17h-5.76zM183.68 276.88h11.21v5.17h-11.21zM167.31 281.75h5.76v5.17h-5.76zM183.68 281.75h11.21v5.17h-11.21zM178.22 286.62h5.76v5.17h-5.76zM232.80 306.10h6.90v5.17h-6.90zM221.88 310.97h5.76v5.17h-5.76zM200.05 315.84h5.76v5.17h-5.76zM216.42 359.67h23.28v5.17h-23.28z"/>
<path fill="#1972ff" d="M167.31 252.53h5.76v5.17h-5.76zM134.57 262.27h5.76v5.17h-5.76zM227.34 262.27h5.76v5.17h-5.76zM80.00 286.62h5.76v5.17h-5.76zM200.05 291.49h5.76v5.17h-5.76zM200.05 296.36h5.76v5.17h-5.76zM232.80 301.23h6.90v5.17h-6.90zM47.26 306.10h5.76v5.17h-5.76zM38.80 320.71h8.76v5.17h-8.76zM38.80 364.54h8.76v5.17h-8.76zM52.71 364.54h49.41v5.17h-49.41z"/>
<path fill="#0e8eff" d="M150.94 257.40h5.76v5.17h-5.76zM90.91 281.75h5.76v5.17h-5.76zM210.97 306.10h5.76v5.17h-5.76zM221.88 306.10h5.76v5.17h-5.76zM210.97 320.71h5.76v5.17h-5.76z"/>
<path fill="#3c00fe" d="M210.97 257.40h5.76v5.17h-5.76zM232.80 262.27h6.90v5.17h-6.90zM112.74 267.14h5.76v5.17h-5.76zM101.83 359.67h11.21v5.17h-11.21zM145.48 359.67h71.24v5.17h-71.24z"/>
<path fill="#2c33ff" d="M129.11 262.27h5.76v5.17h-5.76zM210.97 262.27h5.76v5.17h-5.76zM200.05 267.14h5.76v5.17h-5.76zM210.97 267.14h5.76v5.17h-5.76zM200.05 272.01h5.76v5.17h-5.76zM210.97 272.01h5.76v5.17h-5.76zM221.88 272.01h5.76v5.17h-5.76zM96.37 276.88h5.76v5.17h-5.76zM200.05 276.88h5.76v5.17h-5.76zM210.97 276.88h5.76v5.17h-5.76zM221.88 276.88h5.76v5.17h-5.76zM200.05 281.75h5.76v5.17h-5.76zM210.97 281.75h5.76v5.17h-5.76zM221.88 281.75h5.76v5.17h-5.76zM210.97 286.62h5.76v5.17h-5.76zM221.88 286.62h5.76v5.17h-5.76zM210.97 291.49h5.76v5.17h-5.76zM221.88 291.49h5.76v5.17h-5.76zM58.17 296.36h5.76v5.17h-5.76zM210.97 296.36h5.76v5.17h-5.76zM221.88 296.36h5.76v5.17h-5.76z"/>
<path fill="#00b7fe" d="M140.03 262.27h5.76v5.17h-5.76zM156.40 262.27h5.76v5.17h-5.76zM205.51 267.14h5.76v5.17h-5.76zM216.42 267.14h5.76v5.17h-5.76zM227.34 267.14h5.76v5.17h-5.76zM194.60 272.01h5.76v5.17h-5.76zM205.51 272.01h5.76v5.17h-5.76zM216.42 272.01h5.76v5.17h-5.76zM227.34 272.01h5.76v5.17h-5.76zM194.60 276.88h5.76v5.17h-5.76zM205.51 276.88h5.76v5.17h-5.76zM216.42 276.88h5.76v5.17h-5.76zM227.34 276.88h5.76v5.17h-5.76zM161.85 281.75h5.76v5.17h-5.76zM194.60 281.75h5.76v5.17h-5.76zM205.51 281.75h5.76v5.17h-5.76zM216.42 281.75h5.76v5.17h-5.76zM227.34 281.75h5.76v5.17h-5.76zM172.77 286.62h5.76v5.17h-5.76zM183.68 286.62h5.76v5.17h-5.76zM205.51 286.62h5.76v5.17h-5.76zM216.42 286.62h5.76v5.17h-5.76zM227.34 286.62h5.76v5.17h-5.76zM129.11 291.49h5.76v5.17h-5.76zM178.22 291.49h5.76v5.17h-5.76zM216.42 291.49h5.76v5.17h-5.76zM227.34 291.49h5.76v5.17h-5.76zM63.63 296.36h5.76v5.17h-5.76zM216.42 296.36h5.76v5.17h-5.76zM227.34 296.36h5.76v5.17h-5.76zM52.71 301.23h5.76v5.17h-5.76zM47.26 310.97h5.76v5.17h-5.76zM47.26 364.54h5.76v5.17h-5.76z"/>
<path fill="#00ebec" d="M145.48 262.27h5.76v5.17h-5.76zM156.40 286.62h5.76v5.17h-5.76zM123.66 291.49h5.76v5.17h-5.76zM161.85 291.49h5.76v5.17h-5.76zM194.60 291.49h5.76v5.17h-5.76zM123.66 296.36h5.76v5.17h-5.76zM172.77 296.36h5.76v5.17h-5.76zM189.14 296.36h11.21v5.17h-11.21zM194.60 301.23h5.76v5.17h-5.76zM129.11 306.10h5.76v5.17h-5.76zM194.60 306.10h5.76v5.17h-5.76zM205.51 306.10h5.76v5.17h-5.76zM216.42 306.10h5.76v5.17h-5.76zM227.34 306.10h5.76v5.17h-5.76zM216.42 310.97h5.76v5.17h-5.76zM216.42 315.84h5.76v5.17h-5.76zM221.88 325.58h5.76v5.17h-5.76z"/>
<path fill="#00cef8" d="M150.94 262.27h5.76v5.17h-5.76zM123.66 267.14h5.76v5.17h-5.76zM156.40 276.88h5.76v5.17h-5.76zM161.85 286.62h5.76v5.17h-5.76zM189.14 286.62h11.21v5.17h-11.21zM74.54 291.49h5.76v5.17h-5.76zM183.68 291.49h5.76v5.17h-5.76zM129.11 301.23h5.76v5.17h-5.76zM205.51 301.23h5.76v5.17h-5.76zM221.88 320.71h5.76v5.17h-5.76zM101.83 354.80h11.21v5.17h-11.21zM189.14 354.80h27.58v5.17h-27.58z"/>
<path fill="#1480ff" d="M118.20 267.14h5.76v5.17h-5.76zM107.28 272.01h5.76v5.17h-5.76zM200.05 301.23h5.76v5.17h-5.76zM210.97 310.97h5.76v5.17h-5.76zM112.74 359.67h33.04v5.17h-33.04z"/>
<path fill="#00ece2" d="M129.11 267.14h5.76v5.17h-5.76zM129.11 272.01h5.76v5.17h-5.76zM150.94 272.01h5.76v5.17h-5.76zM129.11 276.88h5.76v5.17h-5.76zM150.94 276.88h5.76v5.17h-5.76zM96.37 281.75h5.76v5.17h-5.76zM129.11 281.75h5.76v5.17h-5.76zM134.57 286.62h5.76v5.17h-5.76zM80.00 291.49h5.76v5.17h-5.76zM134.57 296.36h5.76v5.17h-5.76zM123.66 301.23h5.76v5.17h-5.76zM178.22 301.23h16.67v5.17h-16.67zM52.71 306.10h5.76v5.17h-5.76zM178.22 306.10h16.67v5.17h-16.67zM47.26 315.84h5.76v5.17h-5.76zM232.80 315.84h6.90v5.17h-6.90zM205.51 320.71h5.76v5.17h-5.76zM232.80 320.71h6.90v5.17h-6.90zM38.80 325.58h8.76v5.17h-8.76zM112.74 354.80h33.04v5.17h-33.04zM216.42 354.80h23.28v5.17h-23.28zM38.80 359.67h8.76v5.17h-8.76zM52.71 359.67h49.41v5.17h-49.41z"/>
<path fill="#00edd8" d="M134.57 267.14h5.76v5.17h-5.76zM123.66 272.01h5.76v5.17h-5.76zM150.94 281.75h5.76v5.17h-5.76zM123.66 286.62h5.76v5.17h-5.76zM156.40 291.49h5.76v5.17h-5.76zM167.31 296.36h5.76v5.17h-5.76zM172.77 301.23h5.76v5.17h-5.76zM172.77 306.10h5.76v5.17h-5.76zM216.42 320.71h5.76v5.17h-5.76z"/>
<path fill="#00edcf" d="M140.03 267.14h11.21v5.17h-11.21zM134.57 272.01h5.76v5.17h-5.76zM123.66 276.88h5.76v5.17h-5.76zM134.57 276.88h5.76v5.17h-5.76zM134.57 281.75h5.76v5.17h-5.76zM150.94 286.62h5.76v5.17h-5.76zM140.03 291.49h5.76v5.17h-5.76zM69.08 296.36h5.76v5.17h-5.76zM134.57 301.23h5.76v5.17h-5.76zM194.60 310.97h5.76v5.17h-5.76zM227.34 310.97h5.76v5.17h-5.76zM232.80 325.58h6.90v5.17h-6.90z"/>
<path fill="#00e5f2" d="M150.94 267.14h5.76v5.17h-5.76zM112.74 272.01h5.76v5.17h-5.76zM134.57 291.49h5.76v5.17h-5.76zM189.14 291.49h5.76v5.17h-5.76zM178.22 296.36h11.21v5.17h-11.21zM205.51 310.97h5.76v5.17h-5.76zM200.05 325.58h5.76v5.17h-5.76z"/>
<path fill="#00c2fb" d="M156.40 267.14h5.76v5.17h-5.76zM156.40 272.01h5.76v5.17h-5.76zM101.83 276.88h5.76v5.17h-5.76zM167.31 286.62h5.76v5.17h-5.76zM172.77 291.49h5.76v5.17h-5.76zM205.51 291.49h5.76v5.17h-5.76zM129.11 296.36h5.76v5.17h-5.76zM205.51 296.36h5.76v5.17h-5.76zM216.42 301.23h5.76v5.17h-5.76zM227.34 301.23h5.76v5.17h-5.76zM221.88 315.84h5.76v5.17h-5.76zM200.05 320.71h5.76v5.17h-5.76zM210.97 325.58h5.76v5.17h-5.76z"/>
<path fill="#1e64ff" d="M232.80 267.14h6.90v5.17h-6.90zM232.80 272.01h6.90v5.17h-6.90zM232.80 276.88h6.90v5.17h-6.90zM232.80 281.75h6.90v5.17h-6.90zM200.05 286.62h5.76v5.17h-5.76zM232.80 286.62h6.90v5.17h-6.90zM69.08 291.49h5.76v5.17h-5.76zM232.80 291.49h6.90v5.17h-6.90zM232.80 296.36h6.90v5.17h-6.90zM210.97 315.84h5.76v5.17h-5.76z"/>
<path fill="#00eec5" d="M118.20 272.01h5.76v5.17h-5.76zM123.66 281.75h5.76v5.17h-5.76zM140.03 286.62h5.76v5.17h-5.76zM150.94 291.49h5.76v5.17h-5.76zM161.85 296.36h5.76v5.17h-5.76zM167.31 301.23h5.76v5.17h-5.76zM123.66 306.10h5.76v5.17h-5.76zM167.31 306.10h5.76v5.17h-5.76zM189.14 310.97h5.76v5.17h-5.76zM205.51 325.58h5.76v5.17h-5.76z"/>
<path fill="#00efbb" d="M140.03 272.01h11.21v5.17h-11.21zM107.28 276.88h5.76v5.17h-5.76zM140.03 276.88h5.76v5.17h-5.76zM140.03 281.75h5.76v5.17h-5.76zM85.46 291.49h5.76v5.17h-5.76zM134.57 306.10h5.76v5.17h-5.76zM183.68 310.97h5.76v5.17h-5.76zM194.60 315.84h5.76v5.17h-5.76z"/>
<path fill="#07f293" d="M112.74 276.88h5.76v5.17h-5.76zM101.83 281.75h5.76v5.17h-5.76zM90.91 291.49h5.76v5.17h-5.76zM140.03 306.10h5.76v5.17h-5.76zM140.03 310.97h5.76v5.17h-5.76zM161.85 310.97h5.76v5.17h-5.76zM150.94 315.84h5.76v5.17h-5.76zM145.48 325.58h54.87v5.17h-54.87zM227.34 325.58h5.76v5.17h-5.76zM205.51 330.45h11.21v5.17h-11.21zM101.83 349.93h11.21v5.17h-11.21zM216.42 349.93h11.21v5.17h-11.21z"/>
<path fill="#00efb1" d="M118.20 276.88h5.76v5.17h-5.76zM145.48 276.88h5.76v5.17h-5.76zM145.48 281.75h5.76v5.17h-5.76zM90.91 286.62h5.76v5.17h-5.76zM145.48 286.62h5.76v5.17h-5.76zM118.20 291.49h5.76v5.17h-5.76zM145.48 291.49h5.76v5.17h-5.76zM118.20 296.36h5.76v5.17h-5.76zM140.03 296.36h5.76v5.17h-5.76zM156.40 296.36h5.76v5.17h-5.76zM58.17 301.23h5.76v5.17h-5.76zM161.85 301.23h5.76v5.17h-5.76zM161.85 306.10h5.76v5.17h-5.76zM178.22 310.97h5.76v5.17h-5.76zM227.34 315.84h5.76v5.17h-5.76zM145.48 320.71h5.76v5.17h-5.76zM194.60 320.71h5.76v5.17h-5.76zM227.34 320.71h5.76v5.17h-5.76zM216.42 325.58h5.76v5.17h-5.76zM85.46 354.80h16.67v5.17h-16.67zM47.26 359.67h5.76v5.17h-5.76z"/>
<path fill="#0cf37e" d="M107.28 281.75h5.76v5.17h-5.76zM101.83 286.62h5.76v5.17h-5.76zM74.54 296.36h5.76v5.17h-5.76zM118.20 310.97h5.76v5.17h-5.76zM156.40 315.84h5.76v5.17h-5.76zM134.57 325.58h5.76v5.17h-5.76zM216.42 330.45h5.76v5.17h-5.76z"/>
<path fill="#0ff474" d="M112.74 281.75h5.76v5.17h-5.76zM107.28 286.62h11.21v5.17h-11.21zM112.74 291.49h5.76v5.17h-5.76zM112.74 296.36h5.76v5.17h-5.76zM112.74 301.23h5.76v5.17h-5.76zM112.74 306.10h5.76v5.17h-5.76zM161.85 315.84h22.13v5.17h-22.13zM200.05 330.45h5.76v5.17h-5.76z"/>
<path fill="#04f19d" d="M118.20 281.75h5.76v5.17h-5.76zM150.94 296.36h5.76v5.17h-5.76zM140.03 301.23h5.76v5.17h-5.76zM156.40 301.23h5.76v5.17h-5.76zM118.20 306.10h5.76v5.17h-5.76zM156.40 306.10h5.76v5.17h-5.76zM123.66 310.97h5.76v5.17h-5.76zM134.57 310.97h5.76v5.17h-5.76zM167.31 310.97h5.76v5.17h-5.76zM140.03 315.84h5.76v5.17h-5.76zM189.14 315.84h5.76v5.17h-5.76zM140.03 320.71h5.76v5.17h-5.76zM156.40 320.71h27.59v5.17h-27.59zM112.74 349.93h33.04v5.17h-33.04zM189.14 349.93h27.58v5.17h-27.58z"/>
<path fill="#00d9f5" d="M156.40 281.75h5.76v5.17h-5.76zM85.46 286.62h5.76v5.17h-5.76zM129.11 286.62h5.76v5.17h-5.76zM167.31 291.49h5.76v5.17h-5.76zM232.80 310.97h6.90v5.17h-6.90zM38.80 315.84h8.76v5.17h-8.76zM205.51 315.84h5.76v5.17h-5.76z"/>
<path fill="#0af289" d="M96.37 286.62h5.76v5.17h-5.76zM145.48 296.36h5.76v5.17h-5.76zM150.94 301.23h5.76v5.17h-5.76zM150.94 306.10h5.76v5.17h-5.76zM145.48 310.97h16.67v5.17h-16.67zM134.57 315.84h5.76v5.17h-5.76zM183.68 315.84h5.76v5.17h-5.76zM134.57 320.71h5.76v5.17h-5.76zM140.03 325.58h5.76v5.17h-5.76zM227.34 349.93h12.36v5.17h-12.36z"/>
<path fill="#01f0a8" d="M118.20 286.62h5.76v5.17h-5.76zM118.20 301.23h5.76v5.17h-5.76zM129.11 310.97h5.76v5.17h-5.76zM172.77 310.97h5.76v5.17h-5.76zM145.48 315.84h5.76v5.17h-5.76zM150.94 320.71h5.76v5.17h-5.76zM183.68 320.71h11.21v5.17h-11.21zM145.48 349.93h43.96v5.17h-43.96z"/>
<path fill="#12f56a" d="M96.37 291.49h16.67v5.17h-16.67zM80.00 296.36h5.76v5.17h-5.76zM63.63 301.23h38.50v5.17h-38.50zM145.48 301.23h5.76v5.17h-5.76zM58.17 306.10h5.76v5.17h-5.76zM85.46 306.10h16.67v5.17h-16.67zM145.48 306.10h5.76v5.17h-5.76zM52.71 310.97h5.76v5.17h-5.76zM112.74 310.97h5.76v5.17h-5.76zM112.74 315.84h22.13v5.17h-22.13zM47.26 320.71h5.76v5.17h-5.76zM112.74 320.71h22.13v5.17h-22.13zM129.11 325.58h5.76v5.17h-5.76zM221.88 330.45h5.76v5.17h-5.76zM58.17 354.80h27.58v5.17h-27.58z"/>
<path fill="#1ef660" d="M85.46 296.36h5.76v5.17h-5.76zM107.28 296.36h5.76v5.17h-5.76zM123.66 325.58h5.76v5.17h-5.76zM194.60 330.45h5.76v5.17h-5.76z"/>
<path fill="#4dfb4d" d="M90.91 296.36h5.76v5.17h-5.76zM101.83 296.36h5.76v5.17h-5.76zM107.28 320.71h5.76v5.17h-5.76zM112.74 325.58h5.76v5.17h-5.76zM123.66 330.45h5.76v5.17h-5.76zM210.97 335.32h5.76v5.17h-5.76z"/>
<path fill="#65fd44" d="M96.37 296.36h5.76v5.17h-5.76zM101.83 301.23h5.76v5.17h-5.76zM101.83 306.10h5.76v5.17h-5.76zM101.83 310.97h5.76v5.17h-5.76zM205.51 335.32h5.76v5.17h-5.76z"/>
<path fill="#36f857" d="M107.28 301.23h5.76v5.17h-5.76zM107.28 306.10h5.76v5.17h-5.76zM107.28 310.97h5.76v5.17h-5.76zM107.28 315.84h5.76v5.17h-5.76zM118.20 325.58h5.76v5.17h-5.76zM129.11 330.45h65.78v5.17h-65.78zM227.34 330.45h12.36v5.17h-12.36z"/>
<path fill="#254cff" d="M210.97 301.23h5.76v5.17h-5.76zM221.88 301.23h5.76v5.17h-5.76z"/>
<path fill="#98ff21" d="M63.63 306.10h22.13v5.17h-22.13zM58.17 310.97h5.76v5.17h-5.76zM74.54 310.97h27.58v5.17h-27.58zM52.71 315.84h5.76v5.17h-5.76zM85.46 315.84h16.67v5.17h-16.67zM101.83 320.71h5.76v5.17h-5.76zM47.26 325.58h5.76v5.17h-5.76zM112.74 330.45h5.76v5.17h-5.76zM161.85 345.06h54.87v5.17h-54.87zM85.46 349.93h16.67v5.17h-16.67zM52.71 354.80h5.76v5.17h-5.76z"/>
<path fill="#e9fc00" d="M63.63 310.97h11.21v5.17h-11.21zM58.17 315.84h27.58v5.17h-27.58zM52.71 320.71h5.76v5.17h-5.76zM74.54 320.71h27.58v5.17h-27.58zM74.54 325.58h27.58v5.17h-27.58zM38.80 330.45h8.76v5.17h-8.76zM74.54 330.45h27.58v5.17h-27.58zM101.83 335.32h11.21v5.17h-11.21zM85.46 340.19h16.67v5.17h-16.67zM161.85 340.19h38.50v5.17h-38.50zM221.88 340.19h17.82v5.17h-17.82zM63.63 345.06h38.50v5.17h-38.50zM58.17 349.93h27.58v5.17h-27.58z"/>
<path fill="#7bff3a" d="M101.83 315.84h5.76v5.17h-5.76zM118.20 330.45h5.76v5.17h-5.76z"/>
<path fill="#ffa700" d="M58.17 320.71h16.67v5.17h-16.67zM52.71 325.58h22.13v5.17h-22.13zM47.26 330.45h5.76v5.17h-5.76zM63.63 330.45h11.21v5.17h-11.21zM63.63 335.32h38.50v5.17h-38.50zM58.17 340.19h27.58v5.17h-27.58zM112.74 340.19h38.50v5.17h-38.50zM58.17 345.06h5.76v5.17h-5.76zM52.71 349.93h5.76v5.17h-5.76zM47.26 354.80h5.76v5.17h-5.76z"/>
<path fill="#c3ff00" d="M101.83 325.58h5.76v5.17h-5.76zM156.40 335.32h5.76v5.17h-5.76zM205.51 340.19h11.21v5.17h-11.21zM101.83 345.06h5.76v5.17h-5.76zM227.34 345.06h12.36v5.17h-12.36z"/>
<path fill="#89ff2d" d="M107.28 325.58h5.76v5.17h-5.76zM200.05 335.32h5.76v5.17h-5.76zM216.42 335.32h5.76v5.17h-5.76z"/>
<path fill="#ff5300" d="M52.71 330.45h11.21v5.17h-11.21zM58.17 335.32h5.76v5.17h-5.76zM52.71 345.06h5.76v5.17h-5.76z"/>
<path fill="#d0fe00" d="M101.83 330.45h5.76v5.17h-5.76zM150.94 335.32h5.76v5.17h-5.76zM216.42 340.19h5.76v5.17h-5.76zM107.28 345.06h38.50v5.17h-38.50z"/>
<path fill="#b5ff07" d="M107.28 330.45h5.76v5.17h-5.76zM161.85 335.32h38.50v5.17h-38.50zM227.34 335.32h12.36v5.17h-12.36zM221.88 345.06h5.76v5.17h-5.76z"/>
<path fill="#f90000" d="M38.80 335.32h19.67v5.17h-19.67zM52.71 340.19h5.76v5.17h-5.76z"/>
<path fill="#ddfd00" d="M112.74 335.32h38.50v5.17h-38.50zM200.05 340.19h5.76v5.17h-5.76z"/>
<path fill="#a7ff14" d="M221.88 335.32h5.76v5.17h-5.76zM145.48 345.06h16.67v5.17h-16.67zM216.42 345.06h5.76v5.17h-5.76z"/>
<path fill="#b90000" d="M38.80 340.19h14.21v5.17h-14.21zM38.80 345.06h14.21v5.17h-14.21zM38.80 349.93h14.21v5.17h-14.21zM38.80 354.80h8.76v5.17h-8.76z"/>
<path fill="#ffe900" d="M101.83 340.19h5.76v5.17h-5.76z"/>
<path fill="#ffc100" d="M107.28 340.19h5.76v5.17h-5.76z"/>
<path fill="#ffce00" d="M150.94 340.19h5.76v5.17h-5.76z"/>
<path fill="#fff600" d="M156.40 340.19h5.76v5.17h-5.76z"/>
<path fill="#3a00f9" d="M101.83 364.54h137.87v5.17h-137.87zM38.80 369.41h63.33v5.17h-63.33z"/>
<path fill="#3000d1" d="M38.80 388.89h200.90v5.17h-200.90z"/>
<path fill="#2d00c2" d="M38.80 393.76h200.90v5.17h-200.90z"/>
<path fill="#2b00bb" d="M38.80 398.63h200.90v5.77h-200.90z"/></g>
<polyline points="41.80,357.85 45.10,355.05 48.40,352.24 51.69,349.46 54.99,346.71 58.29,343.75 61.59,340.49 64.89,337.09 68.19,333.62 71.48,330.06 74.78,326.45 78.08,322.77 81.38,319.03 84.68,315.18 87.98,311.28 91.27,307.51 94.57,303.85 97.87,300.10 101.17,296.09 104.47,292.02 107.77,288.16 111.06,284.66 114.36,281.38 117.66,278.24 120.96,275.20 124.26,272.27 127.56,269.45 130.85,266.71 134.15,264.09 137.45,261.61 140.75,259.24 144.05,257.01 147.35,254.94 150.64,253.00 153.94,251.07 157.24,249.09 160.54,247.19 163.84,245.42 167.14,243.73 170.43,242.12 173.73,240.56 177.03,239.04 180.33,237.65 183.63,236.53 186.93,235.61 190.22,234.80 193.52,234.02 196.82,233.22 200.12,232.44 203.42,231.73 206.72,231.16 210.01,230.66 213.31,230.22 216.61,229.84 219.91,229.49 223.21,229.17 226.51,228.95 229.80,228.82 233.10,228.74 236.40,228.70" fill="none" stroke="#ff14f4" stroke-width="2.8" stroke-linejoin="round" stroke-linecap="round" shape-rendering="geometricPrecision"/>
</g>
<rect x="41.80" y="206.30" width="194.60" height="194.80" fill="none" stroke="#2a2a40" stroke-width="0.8" stroke-opacity="0.8"/>
<text x="52.5" y="236.3" class="lab">(d)</text>
<g clip-path="url(#cpe)">
<g filter="url(#bl)"><path fill="#3600e9" d="M243.60 203.30h201.90v5.70h-201.90zM243.60 208.70h201.90v5.18h-201.90zM243.60 213.58h201.90v5.18h-201.90zM243.60 218.46h201.90v5.18h-201.90zM243.60 223.33h201.90v5.18h-201.90zM243.60 228.21h201.90v5.18h-201.90zM243.60 233.09h201.90v5.18h-201.90zM243.60 237.97h111.96v5.18h-111.96zM371.56 237.97h73.94v5.18h-73.94zM243.60 242.84h95.66v5.18h-95.66zM382.42 242.84h63.08v5.18h-63.08zM243.60 247.72h68.50v5.18h-68.50zM415.02 247.72h30.48v5.18h-30.48zM243.60 252.60h68.50v5.18h-68.50zM243.60 257.48h57.63v5.18h-57.63zM243.60 262.35h41.33v5.18h-41.33zM243.60 267.23h25.03v5.18h-25.03zM243.60 272.11h25.03v5.18h-25.03zM355.26 272.11h16.60v5.18h-16.60zM243.60 276.99h14.17v5.18h-14.17zM349.83 276.99h5.73v5.18h-5.73zM333.53 281.86h5.73v5.18h-5.73zM382.42 281.86h5.73v5.18h-5.73zM243.60 374.53h201.90v5.18h-201.90z"/>
<path fill="#3400e4" d="M355.26 237.97h16.60v5.18h-16.60zM338.96 242.84h16.60v5.18h-16.60zM371.56 242.84h11.17v5.18h-11.17zM311.80 247.72h38.33v5.18h-38.33zM376.99 247.72h38.33v5.18h-38.33zM311.80 252.60h5.73v5.18h-5.73zM415.02 252.60h30.48v5.18h-30.48zM300.93 257.48h11.17v5.18h-11.17zM425.89 257.48h5.73v5.18h-5.73zM284.63 262.35h16.60v5.18h-16.60zM268.33 267.23h22.03v5.18h-22.03zM355.26 267.23h16.60v5.18h-16.60zM349.83 272.11h5.73v5.18h-5.73zM257.47 276.99h11.17v5.18h-11.17zM328.10 276.99h22.03v5.18h-22.03zM371.56 276.99h22.03v5.18h-22.03zM404.16 276.99h5.73v5.18h-5.73zM243.60 281.86h14.17v5.18h-14.17zM311.80 281.86h22.03v5.18h-22.03zM387.86 281.86h27.47v5.18h-27.47zM243.60 286.74h8.73v5.18h-8.73zM415.02 286.74h30.48v5.18h-30.48zM295.50 291.62h16.60v5.18h-16.60zM279.20 296.50h16.60v5.18h-16.60zM243.60 316.00h14.17v5.18h-14.17z"/>
<path fill="#3300df" d="M355.26 242.84h16.60v5.18h-16.60zM349.83 247.72h5.73v5.18h-5.73zM371.56 247.72h5.73v5.18h-5.73zM317.23 252.60h32.90v5.18h-32.90zM376.99 252.60h38.33v5.18h-38.33zM311.80 257.48h5.73v5.18h-5.73zM415.02 257.48h11.17v5.18h-11.17zM431.32 257.48h14.18v5.18h-14.18zM300.93 262.35h11.17v5.18h-11.17zM355.26 262.35h16.60v5.18h-16.60zM425.89 262.35h5.73v5.18h-5.73zM290.06 267.23h11.17v5.18h-11.17zM349.83 267.23h5.73v5.18h-5.73zM268.33 272.11h22.03v5.18h-22.03zM328.10 272.11h22.03v5.18h-22.03zM371.56 272.11h22.03v5.18h-22.03zM404.16 272.11h5.73v5.18h-5.73zM311.80 276.99h16.60v5.18h-16.60zM393.29 276.99h11.17v5.18h-11.17zM409.59 276.99h5.73v5.18h-5.73zM257.47 281.86h11.17v5.18h-11.17zM415.02 281.86h30.48v5.18h-30.48zM252.03 286.74h5.73v5.18h-5.73zM295.50 286.74h16.60v5.18h-16.60zM243.60 291.62h8.73v5.18h-8.73zM279.20 291.62h16.60v5.18h-16.60zM268.33 296.50h11.17v5.18h-11.17zM257.47 306.25h5.73v5.18h-5.73zM243.60 311.13h14.17v5.18h-14.17zM243.60 379.41h201.90v5.18h-201.90z"/>
<path fill="#3100d8" d="M355.26 247.72h16.60v5.18h-16.60zM349.83 252.60h27.46v5.18h-27.46zM317.23 257.48h98.09v5.18h-98.09zM311.80 262.35h43.76v5.18h-43.76zM371.56 262.35h54.63v5.18h-54.63zM431.32 262.35h14.18v5.18h-14.18zM300.93 267.23h49.20v5.18h-49.20zM371.56 267.23h73.94v5.18h-73.94zM290.06 272.11h38.33v5.18h-38.33zM393.29 272.11h11.17v5.18h-11.17zM409.59 272.11h35.91v5.18h-35.91zM268.33 276.99h43.76v5.18h-43.76zM415.02 276.99h30.48v5.18h-30.48zM268.33 281.86h43.76v5.18h-43.76zM257.47 286.74h38.33v5.18h-38.33zM252.03 291.62h27.46v5.18h-27.46zM243.60 296.50h25.03v5.18h-25.03zM243.60 301.37h25.03v5.18h-25.03zM243.60 306.25h14.17v5.18h-14.17zM243.60 384.29h201.90v5.18h-201.90z"/>
<path fill="#00b7fe" d="M355.26 276.99h16.60v5.18h-16.60zM349.83 281.86h22.03v5.18h-22.03zM328.10 286.74h27.46v5.18h-27.46zM317.23 291.62h38.33v5.18h-38.33zM268.33 301.37h5.73v5.18h-5.73zM262.90 306.25h5.73v5.18h-5.73zM333.53 311.13h5.73v5.18h-5.73zM322.66 316.00h70.93v5.18h-70.93zM252.03 320.88h5.73v5.18h-5.73zM252.03 364.78h5.73v5.18h-5.73z"/>
<path fill="#331cff" d="M338.96 281.86h5.73v5.18h-5.73zM376.99 281.86h5.73v5.18h-5.73zM404.16 286.74h5.73v5.18h-5.73zM404.16 291.62h5.73v5.18h-5.73zM415.02 291.62h5.73v5.18h-5.73zM404.16 296.50h5.73v5.18h-5.73zM415.02 296.50h5.73v5.18h-5.73zM425.89 296.50h5.73v5.18h-5.73zM404.16 301.37h5.73v5.18h-5.73zM415.02 301.37h5.73v5.18h-5.73zM425.89 301.37h5.73v5.18h-5.73zM404.16 306.25h5.73v5.18h-5.73zM415.02 306.25h5.73v5.18h-5.73zM425.89 306.25h5.73v5.18h-5.73zM404.16 311.13h5.73v5.18h-5.73zM415.02 311.13h5.73v5.18h-5.73zM425.89 311.13h5.73v5.18h-5.73zM404.16 316.00h5.73v5.18h-5.73zM415.02 316.00h5.73v5.18h-5.73zM425.89 316.00h5.73v5.18h-5.73z"/>
<path fill="#254cff" d="M344.39 281.86h5.73v5.18h-5.73zM371.56 281.86h5.73v5.18h-5.73zM404.16 320.88h5.73v5.18h-5.73zM415.02 320.88h5.73v5.18h-5.73zM425.89 320.88h5.73v5.18h-5.73z"/>
<path fill="#2c33ff" d="M311.80 286.74h5.73v5.18h-5.73zM243.60 320.88h8.73v5.18h-8.73zM317.23 359.90h32.90v5.18h-32.90z"/>
<path fill="#1972ff" d="M317.23 286.74h5.73v5.18h-5.73zM382.42 286.74h5.73v5.18h-5.73zM382.42 291.62h5.73v5.18h-5.73zM420.46 291.62h5.73v5.18h-5.73zM257.47 311.13h5.73v5.18h-5.73zM243.60 325.76h8.73v5.18h-8.73zM243.60 364.78h8.73v5.18h-8.73zM257.47 364.78h49.20v5.18h-49.20z"/>
<path fill="#099cff" d="M322.66 286.74h5.73v5.18h-5.73zM371.56 286.74h5.73v5.18h-5.73zM393.29 286.74h5.73v5.18h-5.73zM360.69 291.62h11.17v5.18h-11.17zM398.72 291.62h5.73v5.18h-5.73zM409.59 291.62h5.73v5.18h-5.73zM355.26 296.50h16.60v5.18h-16.60zM398.72 296.50h5.73v5.18h-5.73zM409.59 296.50h5.73v5.18h-5.73zM420.46 296.50h5.73v5.18h-5.73zM431.32 296.50h14.18v5.18h-14.18zM317.23 301.37h87.23v5.18h-87.23zM409.59 301.37h5.73v5.18h-5.73zM420.46 301.37h5.73v5.18h-5.73zM431.32 301.37h14.18v5.18h-14.18zM317.23 306.25h11.17v5.18h-11.17zM344.39 306.25h60.06v5.18h-60.06zM409.59 306.25h5.73v5.18h-5.73zM420.46 306.25h5.73v5.18h-5.73zM431.32 306.25h14.18v5.18h-14.18zM317.23 311.13h11.17v5.18h-11.17zM387.86 311.13h16.60v5.18h-16.60zM409.59 311.13h5.73v5.18h-5.73zM420.46 311.13h5.73v5.18h-5.73zM431.32 311.13h14.18v5.18h-14.18zM398.72 316.00h5.73v5.18h-5.73zM409.59 316.00h5.73v5.18h-5.73zM420.46 316.00h5.73v5.18h-5.73zM431.32 316.00h14.18v5.18h-14.18zM306.36 355.02h11.17v5.18h-11.17z"/>
<path fill="#04a9ff" d="M355.26 286.74h16.60v5.18h-16.60zM398.72 286.74h5.73v5.18h-5.73zM311.80 291.62h5.73v5.18h-5.73zM355.26 291.62h5.73v5.18h-5.73zM317.23 296.50h38.33v5.18h-38.33zM328.10 306.25h16.60v5.18h-16.60zM328.10 311.13h5.73v5.18h-5.73zM338.96 311.13h49.20v5.18h-49.20zM317.23 316.00h5.73v5.18h-5.73zM393.29 316.00h5.73v5.18h-5.73zM398.72 320.88h5.73v5.18h-5.73zM409.59 320.88h5.73v5.18h-5.73zM420.46 320.88h5.73v5.18h-5.73zM431.32 320.88h14.18v5.18h-14.18z"/>
<path fill="#1480ff" d="M376.99 286.74h5.73v5.18h-5.73zM387.86 286.74h5.73v5.18h-5.73zM376.99 291.62h5.73v5.18h-5.73zM387.86 291.62h5.73v5.18h-5.73zM306.36 296.50h5.73v5.18h-5.73zM382.42 296.50h5.73v5.18h-5.73zM404.16 325.76h5.73v5.18h-5.73zM415.02 325.76h5.73v5.18h-5.73zM425.89 325.76h5.73v5.18h-5.73zM398.72 355.02h5.73v5.18h-5.73zM431.32 359.90h14.18v5.18h-14.18z"/>
<path fill="#1e64ff" d="M409.59 286.74h5.73v5.18h-5.73zM431.32 291.62h5.73v5.18h-5.73zM300.93 296.50h5.73v5.18h-5.73zM355.26 355.02h43.76v5.18h-43.76z"/>
<path fill="#0e8eff" d="M371.56 291.62h5.73v5.18h-5.73zM393.29 291.62h5.73v5.18h-5.73zM436.75 291.62h8.74v5.18h-8.74zM371.56 296.50h11.17v5.18h-11.17zM387.86 296.50h11.17v5.18h-11.17z"/>
<path fill="#3c00fe" d="M425.89 291.62h5.73v5.18h-5.73zM306.36 359.90h11.17v5.18h-11.17zM349.83 359.90h81.80v5.18h-81.80z"/>
<path fill="#380dff" d="M295.50 296.50h5.73v5.18h-5.73z"/>
<path fill="#00cef8" d="M311.80 296.50h5.73v5.18h-5.73zM387.86 320.88h5.73v5.18h-5.73z"/>
<path fill="#00ece2" d="M273.76 301.37h5.73v5.18h-5.73zM268.33 306.25h5.73v5.18h-5.73zM262.90 311.13h5.73v5.18h-5.73zM311.80 311.13h5.73v5.18h-5.73zM257.47 316.00h5.73v5.18h-5.73zM243.60 330.64h8.73v5.18h-8.73zM243.60 359.90h8.73v5.18h-8.73zM257.47 359.90h49.20v5.18h-49.20z"/>
<path fill="#00efb1" d="M279.20 301.37h27.47v5.18h-27.47zM273.76 306.25h5.73v5.18h-5.73zM306.36 306.25h5.73v5.18h-5.73zM268.33 311.13h5.73v5.18h-5.73zM262.90 316.00h5.73v5.18h-5.73zM257.47 320.88h5.73v5.18h-5.73zM252.03 325.76h5.73v5.18h-5.73zM328.10 325.76h5.73v5.18h-5.73zM393.29 330.64h5.73v5.18h-5.73zM290.06 355.02h16.60v5.18h-16.60zM252.03 359.90h5.73v5.18h-5.73z"/>
<path fill="#00efbb" d="M306.36 301.37h5.73v5.18h-5.73zM398.72 350.15h5.73v5.18h-5.73z"/>
<path fill="#00ebec" d="M311.80 301.37h5.73v5.18h-5.73zM311.80 306.25h5.73v5.18h-5.73zM328.10 320.88h5.73v5.18h-5.73zM393.29 325.76h5.73v5.18h-5.73z"/>
<path fill="#12f56a" d="M279.20 306.25h27.47v5.18h-27.47zM273.76 311.13h32.90v5.18h-32.90zM268.33 316.00h5.73v5.18h-5.73zM262.90 320.88h5.73v5.18h-5.73zM311.80 325.76h5.73v5.18h-5.73zM328.10 330.64h5.73v5.18h-5.73zM262.90 355.02h27.46v5.18h-27.46z"/>
<path fill="#07f293" d="M306.36 311.13h5.73v5.18h-5.73z"/>
<path fill="#98ff21" d="M273.76 316.00h32.90v5.18h-32.90zM268.33 320.88h5.73v5.18h-5.73zM279.20 320.88h27.47v5.18h-27.47zM257.47 325.76h5.73v5.18h-5.73zM387.86 335.51h5.73v5.18h-5.73zM420.46 335.51h5.73v5.18h-5.73zM306.36 345.27h49.20v5.18h-49.20zM404.16 345.27h41.34v5.18h-41.34zM273.76 350.15h32.90v5.18h-32.90zM257.47 355.02h5.73v5.18h-5.73z"/>
<path fill="#0cf37e" d="M306.36 316.00h5.73v5.18h-5.73z"/>
<path fill="#00edcf" d="M311.80 316.00h5.73v5.18h-5.73zM317.23 320.88h5.73v5.18h-5.73z"/>
<path fill="#e9fc00" d="M273.76 320.88h5.73v5.18h-5.73zM262.90 325.76h43.76v5.18h-43.76zM252.03 330.64h5.73v5.18h-5.73zM295.50 330.64h11.17v5.18h-11.17zM311.80 335.51h5.73v5.18h-5.73zM333.53 335.51h22.03v5.18h-22.03zM290.06 340.39h16.60v5.18h-16.60zM317.23 340.39h5.73v5.18h-5.73zM366.13 340.39h22.03v5.18h-22.03zM273.76 345.27h32.90v5.18h-32.90zM262.90 350.15h11.17v5.18h-11.17z"/>
<path fill="#1ef660" d="M306.36 320.88h5.73v5.18h-5.73z"/>
<path fill="#04f19d" d="M311.80 320.88h5.73v5.18h-5.73zM322.66 325.76h5.73v5.18h-5.73zM387.86 330.64h5.73v5.18h-5.73zM306.36 350.15h11.17v5.18h-11.17z"/>
<path fill="#00edd8" d="M322.66 320.88h5.73v5.18h-5.73zM387.86 325.76h5.73v5.18h-5.73z"/>
<path fill="#00e5f2" d="M333.53 320.88h54.63v5.18h-54.63z"/>
<path fill="#00c2fb" d="M393.29 320.88h5.73v5.18h-5.73z"/>
<path fill="#65fd44" d="M306.36 325.76h5.73v5.18h-5.73zM317.23 330.64h5.73v5.18h-5.73z"/>
<path fill="#0af289" d="M317.23 325.76h5.73v5.18h-5.73zM333.53 330.64h54.63v5.18h-54.63zM317.23 350.15h38.33v5.18h-38.33zM404.16 350.15h41.34v5.18h-41.34z"/>
<path fill="#00eec5" d="M333.53 325.76h54.63v5.18h-54.63zM398.72 330.64h46.78v5.18h-46.78zM355.26 350.15h43.76v5.18h-43.76z"/>
<path fill="#00d9f5" d="M398.72 325.76h5.73v5.18h-5.73zM409.59 325.76h5.73v5.18h-5.73zM420.46 325.76h5.73v5.18h-5.73zM431.32 325.76h14.18v5.18h-14.18zM317.23 355.02h38.33v5.18h-38.33zM404.16 355.02h41.34v5.18h-41.34z"/>
<path fill="#ffa700" d="M257.47 330.64h38.33v5.18h-38.33zM268.33 335.51h38.33v5.18h-38.33zM262.90 340.39h27.46v5.18h-27.46zM333.53 340.39h5.73v5.18h-5.73zM431.32 340.39h14.18v5.18h-14.18zM262.90 345.27h11.17v5.18h-11.17zM257.47 350.15h5.73v5.18h-5.73zM252.03 355.02h5.73v5.18h-5.73z"/>
<path fill="#a7ff14" d="M306.36 330.64h5.73v5.18h-5.73zM366.13 335.51h22.03v5.18h-22.03zM425.89 335.51h5.73v5.18h-5.73zM398.72 340.39h5.73v5.18h-5.73z"/>
<path fill="#89ff2d" d="M311.80 330.64h5.73v5.18h-5.73zM393.29 335.51h5.73v5.18h-5.73zM398.72 345.27h5.73v5.18h-5.73z"/>
<path fill="#36f857" d="M322.66 330.64h5.73v5.18h-5.73z"/>
<path fill="#f90000" d="M243.60 335.51h19.60v5.18h-19.60zM257.47 340.39h5.73v5.18h-5.73zM252.03 350.15h5.73v5.18h-5.73z"/>
<path fill="#ff5300" d="M262.90 335.51h5.73v5.18h-5.73zM257.47 345.27h5.73v5.18h-5.73z"/>
<path fill="#ffe900" d="M306.36 335.51h5.73v5.18h-5.73zM322.66 340.39h5.73v5.18h-5.73zM409.59 340.39h5.73v5.18h-5.73z"/>
<path fill="#d0fe00" d="M317.23 335.51h11.17v5.18h-11.17zM355.26 335.51h5.73v5.18h-5.73z"/>
<path fill="#ddfd00" d="M328.10 335.51h5.73v5.18h-5.73zM387.86 340.39h5.73v5.18h-5.73zM404.16 340.39h5.73v5.18h-5.73z"/>
<path fill="#b5ff07" d="M360.69 335.51h5.73v5.18h-5.73z"/>
<path fill="#7bff3a" d="M398.72 335.51h22.03v5.18h-22.03zM355.26 345.27h43.76v5.18h-43.76z"/>
<path fill="#c3ff00" d="M431.32 335.51h14.18v5.18h-14.18zM393.29 340.39h5.73v5.18h-5.73z"/>
<path fill="#b90000" d="M243.60 340.39h14.17v5.18h-14.17zM243.60 345.27h14.17v5.18h-14.17zM243.60 350.15h8.73v5.18h-8.73zM243.60 355.02h8.73v5.18h-8.73z"/>
<path fill="#fff600" d="M306.36 340.39h5.73v5.18h-5.73zM349.83 340.39h11.17v5.18h-11.17z"/>
<path fill="#f6fb00" d="M311.80 340.39h5.73v5.18h-5.73zM360.69 340.39h5.73v5.18h-5.73z"/>
<path fill="#ffc100" d="M328.10 340.39h5.73v5.18h-5.73zM338.96 340.39h5.73v5.18h-5.73zM415.02 340.39h5.73v5.18h-5.73z"/>
<path fill="#ffdb00" d="M344.39 340.39h5.73v5.18h-5.73z"/>
<path fill="#ffb400" d="M420.46 340.39h11.17v5.18h-11.17z"/>
<path fill="#3a00f9" d="M306.36 364.78h139.14v5.18h-139.14zM243.60 369.66h63.06v5.18h-63.06z"/>
<path fill="#3700ee" d="M306.36 369.66h139.14v5.18h-139.14z"/>
<path fill="#3000d1" d="M243.60 389.17h201.90v5.18h-201.90z"/>
<path fill="#2d00c2" d="M243.60 394.04h201.90v5.18h-201.90z"/>
<path fill="#2b00bb" d="M243.60 398.92h201.90v5.78h-201.90z"/></g>
<polyline points="246.60,358.09 249.92,355.28 253.23,352.47 256.55,349.68 259.86,346.92 263.18,343.96 266.49,340.70 269.81,337.29 273.12,333.82 276.44,330.25 279.75,326.63 283.07,322.95 286.38,319.20 289.70,315.35 293.01,311.45 296.33,307.67 299.64,304.00 302.96,300.24 306.27,296.23 309.59,292.15 312.91,288.28 316.22,284.78 319.54,281.50 322.85,278.35 326.17,275.30 329.48,272.38 332.80,269.55 336.11,266.81 339.43,264.18 342.74,261.69 346.06,259.33 349.37,257.09 352.69,255.01 356.00,253.07 359.32,251.14 362.63,249.16 365.95,247.25 369.26,245.48 372.58,243.78 375.89,242.17 379.21,240.62 382.53,239.09 385.84,237.70 389.16,236.58 392.47,235.66 395.79,234.85 399.10,234.07 402.42,233.26 405.73,232.48 409.05,231.77 412.36,231.19 415.68,230.69 418.99,230.26 422.31,229.88 425.62,229.53 428.94,229.21 432.25,228.98 435.57,228.86 438.88,228.77 442.20,228.74" fill="none" stroke="#ff14f4" stroke-width="2.8" stroke-linejoin="round" stroke-linecap="round" shape-rendering="geometricPrecision"/>
</g>
<rect x="246.60" y="206.30" width="195.60" height="195.10" fill="none" stroke="#2a2a40" stroke-width="0.8" stroke-opacity="0.8"/>
<text x="256.0" y="235.9" class="lab">(e)</text>
<g clip-path="url(#cpf)">
<g filter="url(#bl)"><path fill="#3400e4" d="M452.50 201.70h204.80v5.70h-204.80zM452.50 207.10h204.80v5.28h-204.80zM452.50 212.08h204.80v5.28h-204.80zM452.50 217.06h204.80v5.28h-204.80zM452.50 222.05h204.80v5.28h-204.80zM452.50 227.03h204.80v5.28h-204.80zM452.50 232.01h204.80v5.28h-204.80zM452.50 237.00h204.80v5.28h-204.80zM452.50 241.98h204.80v5.28h-204.80zM452.50 246.96h108.06v5.28h-108.06zM571.29 246.96h86.01v5.28h-86.01zM452.50 251.94h108.06v5.28h-108.06zM571.29 251.94h86.01v5.28h-86.01zM452.50 256.93h69.47v5.28h-69.47zM598.86 256.93h5.81v5.28h-5.81zM620.92 256.93h36.38v5.28h-36.38zM452.50 261.91h58.44v5.28h-58.44zM452.50 266.89h41.90v5.28h-41.90zM452.50 271.87h30.87v5.28h-30.87zM452.50 276.86h14.33v5.28h-14.33zM452.50 281.84h14.33v5.28h-14.33zM560.26 281.84h11.33v5.28h-11.33zM452.50 286.82h14.33v5.28h-14.33zM521.67 291.80h5.81v5.28h-5.81zM587.83 291.80h33.38v5.28h-33.38zM510.64 296.78h5.81v5.28h-5.81zM631.94 296.78h25.36v5.28h-25.36z"/>
<path fill="#3300df" d="M560.26 246.96h11.33v5.28h-11.33zM560.26 251.94h11.33v5.28h-11.33zM521.67 256.93h38.90v5.28h-38.90zM571.29 256.93h27.87v5.28h-27.87zM604.38 256.93h16.84v5.28h-16.84zM510.64 261.91h16.84v5.28h-16.84zM587.83 261.91h69.47v5.28h-69.47zM494.10 266.89h22.36v5.28h-22.36zM637.46 266.89h19.84v5.28h-19.84zM483.07 271.87h16.84v5.28h-16.84zM466.53 276.86h22.36v5.28h-22.36zM560.26 276.86h11.33v5.28h-11.33zM466.53 281.84h5.81v5.28h-5.81zM527.18 281.84h27.87v5.28h-27.87zM571.29 281.84h11.33v5.28h-11.33zM516.15 286.82h44.41v5.28h-44.41zM571.29 286.82h60.95v5.28h-60.95zM452.50 291.80h14.33v5.28h-14.33zM505.12 291.80h16.84v5.28h-16.84zM620.92 291.80h36.38v5.28h-36.38zM452.50 296.78h8.81v5.28h-8.81zM488.58 296.78h22.36v5.28h-22.36zM472.04 301.77h5.81v5.28h-5.81zM466.53 306.75h5.81v5.28h-5.81zM461.01 316.71h5.81v5.28h-5.81zM452.50 381.49h204.80v5.28h-204.80z"/>
<path fill="#3100d8" d="M560.26 256.93h11.33v5.28h-11.33zM527.18 261.91h60.95v5.28h-60.95zM516.15 266.89h121.61v5.28h-121.61zM499.61 271.87h157.69v5.28h-157.69zM488.58 276.86h71.98v5.28h-71.98zM571.29 276.86h86.01v5.28h-86.01zM472.04 281.84h55.44v5.28h-55.44zM554.75 281.84h5.81v5.28h-5.81zM582.32 281.84h74.98v5.28h-74.98zM466.53 286.82h49.93v5.28h-49.93zM631.94 286.82h25.36v5.28h-25.36zM466.53 291.80h38.90v5.28h-38.90zM461.01 296.78h27.87v5.28h-27.87zM452.50 301.77h19.84v5.28h-19.84zM452.50 306.75h14.33v5.28h-14.33zM452.50 311.73h14.33v5.28h-14.33zM452.50 316.71h8.81v5.28h-8.81zM452.50 386.47h204.80v5.28h-204.80z"/>
<path fill="#04a9ff" d="M560.26 286.82h11.33v5.28h-11.33zM527.18 306.75h11.33v5.28h-11.33zM554.75 306.75h16.84v5.28h-16.84zM532.69 311.73h27.87v5.28h-27.87zM565.78 311.73h33.38v5.28h-33.38zM604.38 316.71h5.81v5.28h-5.81zM631.94 316.71h5.81v5.28h-5.81zM642.97 316.71h14.33v5.28h-14.33z"/>
<path fill="#1e64ff" d="M527.18 291.80h5.81v5.28h-5.81zM571.29 291.80h5.81v5.28h-5.81zM615.40 321.70h5.81v5.28h-5.81z"/>
<path fill="#254cff" d="M532.69 291.80h5.81v5.28h-5.81zM516.15 296.78h5.81v5.28h-5.81zM642.97 361.56h14.33v5.28h-14.33z"/>
<path fill="#2c33ff" d="M538.21 291.80h5.81v5.28h-5.81zM576.81 291.80h5.81v5.28h-5.81zM615.40 316.71h5.81v5.28h-5.81zM626.43 316.71h5.81v5.28h-5.81zM637.46 316.71h5.81v5.28h-5.81z"/>
<path fill="#331cff" d="M543.72 291.80h5.81v5.28h-5.81zM615.40 296.78h5.81v5.28h-5.81zM615.40 301.77h5.81v5.28h-5.81zM626.43 301.77h5.81v5.28h-5.81zM637.46 301.77h5.81v5.28h-5.81zM615.40 306.75h5.81v5.28h-5.81zM626.43 306.75h5.81v5.28h-5.81zM637.46 306.75h5.81v5.28h-5.81zM615.40 311.73h5.81v5.28h-5.81zM626.43 311.73h5.81v5.28h-5.81zM637.46 311.73h5.81v5.28h-5.81z"/>
<path fill="#380dff" d="M549.24 291.80h5.81v5.28h-5.81z"/>
<path fill="#3c00fe" d="M554.75 291.80h5.81v5.28h-5.81zM582.32 291.80h5.81v5.28h-5.81zM626.43 296.78h5.81v5.28h-5.81zM516.15 361.56h127.12v5.28h-127.12z"/>
<path fill="#099cff" d="M560.26 291.80h11.33v5.28h-11.33zM527.18 296.78h71.98v5.28h-71.98zM604.38 296.78h11.33v5.28h-11.33zM527.18 301.77h88.52v5.28h-88.52zM620.92 301.77h5.81v5.28h-5.81zM631.94 301.77h5.81v5.28h-5.81zM642.97 301.77h14.33v5.28h-14.33zM538.21 306.75h16.84v5.28h-16.84zM571.29 306.75h44.41v5.28h-44.41zM620.92 306.75h5.81v5.28h-5.81zM631.94 306.75h5.81v5.28h-5.81zM642.97 306.75h14.33v5.28h-14.33zM598.86 311.73h16.84v5.28h-16.84zM620.92 311.73h5.81v5.28h-5.81zM631.94 311.73h5.81v5.28h-5.81zM642.97 311.73h14.33v5.28h-14.33zM609.89 316.71h5.81v5.28h-5.81zM620.92 316.71h5.81v5.28h-5.81zM637.46 321.70h5.81v5.28h-5.81zM626.43 326.68h5.81v5.28h-5.81z"/>
<path fill="#00b7fe" d="M521.67 296.78h5.81v5.28h-5.81zM477.56 301.77h5.81v5.28h-5.81zM527.18 311.73h5.81v5.28h-5.81zM560.26 311.73h5.81v5.28h-5.81zM598.86 316.71h5.81v5.28h-5.81zM461.01 321.70h5.81v5.28h-5.81zM609.89 321.70h5.81v5.28h-5.81zM560.26 356.57h5.81v5.28h-5.81zM461.01 366.54h5.81v5.28h-5.81z"/>
<path fill="#1480ff" d="M598.86 296.78h5.81v5.28h-5.81zM626.43 321.70h5.81v5.28h-5.81zM615.40 326.68h5.81v5.28h-5.81z"/>
<path fill="#1972ff" d="M620.92 296.78h5.81v5.28h-5.81zM472.04 306.75h5.81v5.28h-5.81zM466.53 311.73h5.81v5.28h-5.81zM452.50 321.70h8.81v5.28h-8.81zM516.15 356.57h11.33v5.28h-11.33zM565.78 356.57h44.41v5.28h-44.41zM452.50 366.54h8.81v5.28h-8.81zM466.53 366.54h49.93v5.28h-49.93z"/>
<path fill="#00ece2" d="M483.07 301.77h11.33v5.28h-11.33zM477.56 306.75h11.33v5.28h-11.33zM472.04 311.73h5.81v5.28h-5.81zM466.53 316.71h5.81v5.28h-5.81zM452.50 326.68h14.33v5.28h-14.33zM631.94 326.68h5.81v5.28h-5.81zM452.50 361.56h8.81v5.28h-8.81zM466.53 361.56h49.93v5.28h-49.93z"/>
<path fill="#00efb1" d="M494.10 301.77h22.36v5.28h-22.36zM488.58 306.75h27.87v5.28h-27.87zM477.56 311.73h16.84v5.28h-16.84zM472.04 316.71h5.81v5.28h-5.81zM466.53 321.70h5.81v5.28h-5.81zM609.89 351.59h5.81v5.28h-5.81zM499.61 356.57h16.84v5.28h-16.84zM461.01 361.56h5.81v5.28h-5.81z"/>
<path fill="#00edd8" d="M516.15 301.77h5.81v5.28h-5.81zM516.15 306.75h5.81v5.28h-5.81zM516.15 311.73h5.81v5.28h-5.81zM598.86 326.68h5.81v5.28h-5.81z"/>
<path fill="#00cef8" d="M521.67 301.77h5.81v5.28h-5.81zM604.38 321.70h5.81v5.28h-5.81zM620.92 321.70h5.81v5.28h-5.81zM609.89 326.68h5.81v5.28h-5.81z"/>
<path fill="#00d9f5" d="M521.67 306.75h5.81v5.28h-5.81zM527.18 356.57h33.38v5.28h-33.38zM615.40 356.57h27.87v5.28h-27.87z"/>
<path fill="#12f56a" d="M494.10 311.73h22.36v5.28h-22.36zM477.56 316.71h38.90v5.28h-38.90zM472.04 321.70h5.81v5.28h-5.81zM516.15 326.68h5.81v5.28h-5.81zM472.04 356.57h27.87v5.28h-27.87z"/>
<path fill="#00e5f2" d="M521.67 311.73h5.81v5.28h-5.81zM598.86 321.70h5.81v5.28h-5.81zM631.94 321.70h5.81v5.28h-5.81zM620.92 326.68h5.81v5.28h-5.81zM642.97 356.57h14.33v5.28h-14.33z"/>
<path fill="#00edcf" d="M516.15 316.71h5.81v5.28h-5.81z"/>
<path fill="#00ebec" d="M521.67 316.71h5.81v5.28h-5.81zM527.18 321.70h71.98v5.28h-71.98zM642.97 321.70h14.33v5.28h-14.33zM604.38 326.68h5.81v5.28h-5.81z"/>
<path fill="#00c2fb" d="M527.18 316.71h71.98v5.28h-71.98zM637.46 326.68h5.81v5.28h-5.81z"/>
<path fill="#98ff21" d="M477.56 321.70h38.90v5.28h-38.90zM466.53 326.68h11.33v5.28h-11.33zM483.07 326.68h33.38v5.28h-33.38zM452.50 331.66h8.81v5.28h-8.81zM516.15 331.66h5.81v5.28h-5.81zM609.89 346.61h5.81v5.28h-5.81zM477.56 351.59h38.90v5.28h-38.90zM466.53 356.57h5.81v5.28h-5.81z"/>
<path fill="#07f293" d="M516.15 321.70h5.81v5.28h-5.81zM521.67 326.68h5.81v5.28h-5.81zM604.38 331.66h5.81v5.28h-5.81z"/>
<path fill="#00efbb" d="M521.67 321.70h5.81v5.28h-5.81zM527.18 326.68h71.98v5.28h-71.98zM642.97 326.68h14.33v5.28h-14.33zM516.15 351.59h11.33v5.28h-11.33zM565.78 351.59h44.41v5.28h-44.41z"/>
<path fill="#e9fc00" d="M477.56 326.68h5.81v5.28h-5.81zM461.01 331.66h55.44v5.28h-55.44zM598.86 336.64h5.81v5.28h-5.81zM620.92 336.64h5.81v5.28h-5.81zM637.46 336.64h5.81v5.28h-5.81zM499.61 341.63h16.84v5.28h-16.84zM609.89 341.63h5.81v5.28h-5.81zM483.07 346.61h33.38v5.28h-33.38zM472.04 351.59h5.81v5.28h-5.81z"/>
<path fill="#65fd44" d="M521.67 331.66h5.81v5.28h-5.81z"/>
<path fill="#1ef660" d="M527.18 331.66h71.98v5.28h-71.98z"/>
<path fill="#0ff474" d="M598.86 331.66h5.81v5.28h-5.81zM626.43 331.66h5.81v5.28h-5.81z"/>
<path fill="#01f0a8" d="M609.89 331.66h5.81v5.28h-5.81zM527.18 351.59h38.90v5.28h-38.90zM615.40 351.59h41.90v5.28h-41.90z"/>
<path fill="#04f19d" d="M615.40 331.66h5.81v5.28h-5.81z"/>
<path fill="#0af289" d="M620.92 331.66h5.81v5.28h-5.81zM642.97 331.66h14.33v5.28h-14.33z"/>
<path fill="#0cf37e" d="M631.94 331.66h11.33v5.28h-11.33z"/>
<path fill="#f90000" d="M452.50 336.64h14.33v5.28h-14.33zM466.53 341.63h5.81v5.28h-5.81zM461.01 351.59h5.81v5.28h-5.81z"/>
<path fill="#ff5300" d="M466.53 336.64h5.81v5.28h-5.81zM472.04 341.63h5.81v5.28h-5.81zM466.53 346.61h5.81v5.28h-5.81zM452.50 356.57h8.81v5.28h-8.81z"/>
<path fill="#ffa700" d="M472.04 336.64h44.41v5.28h-44.41zM477.56 341.63h22.36v5.28h-22.36zM516.15 341.63h33.38v5.28h-33.38zM565.78 341.63h16.84v5.28h-16.84zM472.04 346.61h11.33v5.28h-11.33zM466.53 351.59h5.81v5.28h-5.81zM461.01 356.57h5.81v5.28h-5.81z"/>
<path fill="#ffdb00" d="M516.15 336.64h5.81v5.28h-5.81zM593.35 341.63h5.81v5.28h-5.81zM626.43 341.63h5.81v5.28h-5.81z"/>
<path fill="#ffe900" d="M521.67 336.64h5.81v5.28h-5.81zM549.24 336.64h5.81v5.28h-5.81zM571.29 336.64h5.81v5.28h-5.81zM598.86 341.63h5.81v5.28h-5.81zM620.92 341.63h5.81v5.28h-5.81z"/>
<path fill="#fff600" d="M527.18 336.64h22.36v5.28h-22.36zM576.81 336.64h22.36v5.28h-22.36zM626.43 336.64h5.81v5.28h-5.81zM604.38 341.63h5.81v5.28h-5.81zM615.40 341.63h5.81v5.28h-5.81z"/>
<path fill="#ffce00" d="M554.75 336.64h5.81v5.28h-5.81zM565.78 336.64h5.81v5.28h-5.81zM587.83 341.63h5.81v5.28h-5.81z"/>
<path fill="#ffc100" d="M560.26 336.64h5.81v5.28h-5.81zM631.94 341.63h5.81v5.28h-5.81z"/>
<path fill="#c3ff00" d="M604.38 336.64h5.81v5.28h-5.81zM615.40 336.64h5.81v5.28h-5.81zM631.94 346.61h5.81v5.28h-5.81z"/>
<path fill="#a7ff14" d="M609.89 336.64h5.81v5.28h-5.81z"/>
<path fill="#f6fb00" d="M631.94 336.64h5.81v5.28h-5.81z"/>
<path fill="#ddfd00" d="M642.97 336.64h14.33v5.28h-14.33zM642.97 346.61h14.33v5.28h-14.33z"/>
<path fill="#b90000" d="M452.50 341.63h14.33v5.28h-14.33zM452.50 346.61h14.33v5.28h-14.33zM452.50 351.59h8.81v5.28h-8.81z"/>
<path fill="#ff9b00" d="M549.24 341.63h5.81v5.28h-5.81zM637.46 341.63h5.81v5.28h-5.81z"/>
<path fill="#ff9000" d="M554.75 341.63h5.81v5.28h-5.81z"/>
<path fill="#ff8400" d="M560.26 341.63h5.81v5.28h-5.81z"/>
<path fill="#ffb400" d="M582.32 341.63h5.81v5.28h-5.81z"/>
<path fill="#ff7900" d="M642.97 341.63h14.33v5.28h-14.33z"/>
<path fill="#89ff2d" d="M516.15 346.61h11.33v5.28h-11.33zM565.78 346.61h44.41v5.28h-44.41z"/>
<path fill="#d0fe00" d="M527.18 346.61h38.90v5.28h-38.90zM637.46 346.61h5.81v5.28h-5.81z"/>
<path fill="#b5ff07" d="M615.40 346.61h16.84v5.28h-16.84z"/>
<path fill="#0e8eff" d="M609.89 356.57h5.81v5.28h-5.81z"/>
<path fill="#3a00f9" d="M516.15 366.54h141.15v5.28h-141.15zM452.50 371.52h63.95v5.28h-63.95z"/>
<path fill="#3700ee" d="M516.15 371.52h141.15v5.28h-141.15z"/>
<path fill="#3600e9" d="M452.50 376.50h204.80v5.28h-204.80z"/>
<path fill="#3000d1" d="M452.50 391.45h204.80v5.28h-204.80z"/>
<path fill="#2d00c2" d="M452.50 396.44h204.80v5.28h-204.80z"/>
<path fill="#2b00bb" d="M452.50 401.42h204.80v5.88h-204.80z"/></g>
<polyline points="455.50,359.76 458.86,356.88 462.23,354.01 465.59,351.17 468.96,348.35 472.32,345.32 475.69,341.99 479.05,338.51 482.42,334.96 485.78,331.32 489.14,327.62 492.51,323.86 495.87,320.03 499.24,316.09 502.60,312.11 505.97,308.25 509.33,304.50 512.69,300.67 516.06,296.57 519.42,292.40 522.79,288.45 526.15,284.87 529.52,281.52 532.88,278.30 536.25,275.19 539.61,272.20 542.97,269.31 546.34,266.51 549.70,263.82 553.07,261.29 556.43,258.87 559.80,256.58 563.16,254.46 566.53,252.48 569.89,250.51 573.25,248.48 576.62,246.53 579.98,244.72 583.35,242.99 586.71,241.35 590.08,239.75 593.44,238.19 596.81,236.78 600.17,235.63 603.53,234.69 606.90,233.86 610.26,233.06 613.63,232.24 616.99,231.44 620.36,230.72 623.72,230.13 627.08,229.62 630.45,229.17 633.81,228.79 637.18,228.43 640.54,228.10 643.91,227.87 647.27,227.75 650.64,227.66 654.00,227.62" fill="none" stroke="#ff14f4" stroke-width="2.8" stroke-linejoin="round" stroke-linecap="round" shape-rendering="geometricPrecision"/>
</g>
<rect x="455.50" y="204.70" width="198.50" height="199.30" fill="none" stroke="#2a2a40" stroke-width="0.8" stroke-opacity="0.8"/>
<text x="472.4" y="233.1" class="lab">(f)</text>
<rect x="663.30" y="88.20" width="14.90" height="2.67" fill="#870000"/>
<rect x="663.30" y="90.57" width="14.90" height="2.67" fill="#920000"/>
<rect x="663.30" y="92.94" width="14.90" height="2.67" fill="#9d0000"/>
<rect x="663.30" y="95.31" width="14.90" height="2.67" fill="#a80000"/>
<rect x="663.30" y="97.69" width="14.90" height="2.67" fill="#b30000"/>
<rect x="663.30" y="100.06" width="14.90" height="2.67" fill="#be0000"/>
<rect x="663.30" y="102.43" width="14.90" height="2.67" fill="#c90000"/>
<rect x="663.30" y="104.80" width="14.90" height="2.67" fill="#d40000"/>
<rect x="663.30" y="107.17" width="14.90" height="2.67" fill="#df0000"/>
<rect x="663.30" y="109.55" width="14.90" height="2.67" fill="#ea0000"/>
<rect x="663.30" y="111.92" width="14.90" height="2.67" fill="#ed0000"/>
<rect x="663.30" y="114.29" width="14.90" height="2.67" fill="#ef0000"/>
<rect x="663.30" y="116.66" width="14.90" height="2.67" fill="#f10000"/>
<rect x="663.30" y="119.03" width="14.90" height="2.67" fill="#f30000"/>
<rect x="663.30" y="121.40" width="14.90" height="2.67" fill="#f50000"/>
<rect x="663.30" y="123.78" width="14.90" height="2.67" fill="#f70000"/>
<rect x="663.30" y="126.15" width="14.90" height="2.67" fill="#f90000"/>
<rect x="663.30" y="128.52" width="14.90" height="2.67" fill="#fb0000"/>
<rect x="663.30" y="130.89" width="14.90" height="2.67" fill="#fe0000"/>
<rect x="663.30" y="133.26" width="14.90" height="2.67" fill="#ff0500"/>
<rect x="663.30" y="135.63" width="14.90" height="2.67" fill="#ff1600"/>
<rect x="663.30" y="138.00" width="14.90" height="2.67" fill="#ff2600"/>
<rect x="663.30" y="140.38" width="14.90" height="2.67" fill="#ff3300"/>
<rect x="663.30" y="142.75" width="14.90" height="2.67" fill="#ff4000"/>
<rect x="663.30" y="145.12" width="14.90" height="2.67" fill="#ff4c00"/>
<rect x="663.30" y="147.49" width="14.90" height="2.67" fill="#ff5900"/>
<rect x="663.30" y="149.86" width="14.90" height="2.67" fill="#ff6500"/>
<rect x="663.30" y="152.24" width="14.90" height="2.67" fill="#ff6e00"/>
<rect x="663.30" y="154.61" width="14.90" height="2.67" fill="#ff7700"/>
<rect x="663.30" y="156.98" width="14.90" height="2.67" fill="#ff8000"/>
<rect x="663.30" y="159.35" width="14.90" height="2.67" fill="#ff8900"/>
<rect x="663.30" y="161.72" width="14.90" height="2.67" fill="#ff9200"/>
<rect x="663.30" y="164.09" width="14.90" height="2.67" fill="#ff9b00"/>
<rect x="663.30" y="166.47" width="14.90" height="2.67" fill="#ffa400"/>
<rect x="663.30" y="168.84" width="14.90" height="2.67" fill="#ffaf00"/>
<rect x="663.30" y="171.21" width="14.90" height="2.67" fill="#ffb900"/>
<rect x="663.30" y="173.58" width="14.90" height="2.67" fill="#ffc400"/>
<rect x="663.30" y="175.95" width="14.90" height="2.67" fill="#ffce00"/>
<rect x="663.30" y="178.32" width="14.90" height="2.67" fill="#ffd900"/>
<rect x="663.30" y="180.70" width="14.90" height="2.67" fill="#ffe300"/>
<rect x="663.30" y="183.07" width="14.90" height="2.67" fill="#ffee00"/>
<rect x="663.30" y="185.44" width="14.90" height="2.67" fill="#fff900"/>
<rect x="663.30" y="187.81" width="14.90" height="2.67" fill="#f6fb00"/>
<rect x="663.30" y="190.18" width="14.90" height="2.67" fill="#ecfb00"/>
<rect x="663.30" y="192.55" width="14.90" height="2.67" fill="#e2fc00"/>
<rect x="663.30" y="194.93" width="14.90" height="2.67" fill="#d8fd00"/>
<rect x="663.30" y="197.30" width="14.90" height="2.67" fill="#cdfe00"/>
<rect x="663.30" y="199.67" width="14.90" height="2.67" fill="#c3ff00"/>
<rect x="663.30" y="202.04" width="14.90" height="2.67" fill="#b8ff05"/>
<rect x="663.30" y="204.41" width="14.90" height="2.67" fill="#adff0f"/>
<rect x="663.30" y="206.78" width="14.90" height="2.67" fill="#a1ff19"/>
<rect x="663.30" y="209.16" width="14.90" height="2.67" fill="#95ff23"/>
<rect x="663.30" y="211.53" width="14.90" height="2.67" fill="#89ff2d"/>
<rect x="663.30" y="213.90" width="14.90" height="2.67" fill="#7eff37"/>
<rect x="663.30" y="216.27" width="14.90" height="2.67" fill="#6ffe40"/>
<rect x="663.30" y="218.64" width="14.90" height="2.67" fill="#5cfc47"/>
<rect x="663.30" y="221.01" width="14.90" height="2.67" fill="#49fa4f"/>
<rect x="663.30" y="223.38" width="14.90" height="2.67" fill="#36f857"/>
<rect x="663.30" y="225.76" width="14.90" height="2.67" fill="#23f65e"/>
<rect x="663.30" y="228.13" width="14.90" height="2.67" fill="#13f566"/>
<rect x="663.30" y="230.50" width="14.90" height="2.67" fill="#11f46e"/>
<rect x="663.30" y="232.87" width="14.90" height="2.67" fill="#0ff476"/>
<rect x="663.30" y="235.24" width="14.90" height="2.67" fill="#0cf37e"/>
<rect x="663.30" y="237.62" width="14.90" height="2.67" fill="#0af387"/>
<rect x="663.30" y="239.99" width="14.90" height="2.67" fill="#08f28f"/>
<rect x="663.30" y="242.36" width="14.90" height="2.67" fill="#05f197"/>
<rect x="663.30" y="244.73" width="14.90" height="2.67" fill="#03f19f"/>
<rect x="663.30" y="247.10" width="14.90" height="2.67" fill="#01f0a8"/>
<rect x="663.30" y="249.47" width="14.90" height="2.67" fill="#00f0af"/>
<rect x="663.30" y="251.85" width="14.90" height="2.67" fill="#00efb7"/>
<rect x="663.30" y="254.22" width="14.90" height="2.67" fill="#00eebf"/>
<rect x="663.30" y="256.59" width="14.90" height="2.67" fill="#00eec7"/>
<rect x="663.30" y="258.96" width="14.90" height="2.67" fill="#00edcf"/>
<rect x="663.30" y="261.33" width="14.90" height="2.67" fill="#00edd6"/>
<rect x="663.30" y="263.70" width="14.90" height="2.67" fill="#00ecde"/>
<rect x="663.30" y="266.07" width="14.90" height="2.67" fill="#00ece6"/>
<rect x="663.30" y="268.45" width="14.90" height="2.67" fill="#00ebee"/>
<rect x="663.30" y="270.82" width="14.90" height="2.67" fill="#00e5f2"/>
<rect x="663.30" y="273.19" width="14.90" height="2.67" fill="#00dbf4"/>
<rect x="663.30" y="275.56" width="14.90" height="2.67" fill="#00d2f7"/>
<rect x="663.30" y="277.93" width="14.90" height="2.67" fill="#00c9f9"/>
<rect x="663.30" y="280.31" width="14.90" height="2.67" fill="#00c0fc"/>
<rect x="663.30" y="282.68" width="14.90" height="2.67" fill="#00b7fe"/>
<rect x="663.30" y="285.05" width="14.90" height="2.67" fill="#03acff"/>
<rect x="663.30" y="287.42" width="14.90" height="2.67" fill="#07a1ff"/>
<rect x="663.30" y="289.79" width="14.90" height="2.67" fill="#0b96ff"/>
<rect x="663.30" y="292.16" width="14.90" height="2.67" fill="#0f8bff"/>
<rect x="663.30" y="294.54" width="14.90" height="2.67" fill="#1480ff"/>
<rect x="663.30" y="296.91" width="14.90" height="2.67" fill="#1875ff"/>
<rect x="663.30" y="299.28" width="14.90" height="2.67" fill="#1c6aff"/>
<rect x="663.30" y="301.65" width="14.90" height="2.67" fill="#215aff"/>
<rect x="663.30" y="304.02" width="14.90" height="2.67" fill="#2647ff"/>
<rect x="663.30" y="306.39" width="14.90" height="2.67" fill="#2c33ff"/>
<rect x="663.30" y="308.77" width="14.90" height="2.67" fill="#3120ff"/>
<rect x="663.30" y="311.14" width="14.90" height="2.67" fill="#3613ff"/>
<rect x="663.30" y="313.51" width="14.90" height="2.67" fill="#3a06ff"/>
<rect x="663.30" y="315.88" width="14.90" height="2.67" fill="#3b00fd"/>
<rect x="663.30" y="318.25" width="14.90" height="2.67" fill="#3a00f9"/>
<rect x="663.30" y="320.62" width="14.90" height="2.67" fill="#3900f5"/>
<rect x="663.30" y="323.00" width="14.90" height="2.67" fill="#3800f0"/>
<rect x="663.30" y="325.37" width="14.90" height="2.67" fill="#3700ec"/>
<rect x="663.30" y="327.74" width="14.90" height="2.67" fill="#3500e8"/>
<rect x="663.30" y="330.11" width="14.90" height="2.67" fill="#3400e4"/>
<rect x="663.30" y="332.48" width="14.90" height="2.67" fill="#3300e0"/>
<rect x="663.30" y="334.85" width="14.90" height="2.67" fill="#3200db"/>
<rect x="663.30" y="337.23" width="14.90" height="2.67" fill="#3100d5"/>
<rect x="663.30" y="339.60" width="14.90" height="2.67" fill="#3000d0"/>
<rect x="663.30" y="341.97" width="14.90" height="2.67" fill="#2e00ca"/>
<rect x="663.30" y="344.34" width="14.90" height="2.67" fill="#2d00c4"/>
<rect x="663.30" y="346.71" width="14.90" height="2.67" fill="#2c00be"/>
<rect x="663.30" y="349.08" width="14.90" height="2.67" fill="#2b00b8"/>
<rect x="663.30" y="351.45" width="14.90" height="2.67" fill="#2a00b2"/>
<rect x="663.30" y="353.83" width="14.90" height="2.67" fill="#2800ac"/>
<rect x="663.30" y="356.20" width="14.90" height="2.67" fill="#2700a5"/>
<rect x="663.30" y="358.57" width="14.90" height="2.67" fill="#26009e"/>
<rect x="663.30" y="360.94" width="14.90" height="2.67" fill="#240097"/>
<rect x="663.30" y="363.31" width="14.90" height="2.67" fill="#230090"/>
<rect x="663.30" y="365.69" width="14.90" height="2.67" fill="#210089"/>
<rect x="663.30" y="368.06" width="14.90" height="2.67" fill="#200082"/>
<rect x="663.30" y="370.43" width="14.90" height="2.67" fill="#1f007b"/>
<rect x="663.30" y="88.20" width="14.90" height="284.60" fill="none" stroke="#333" stroke-width="0.8"/>
<line x1="678.20" y1="88.20" x2="684.5" y2="88.20" stroke="#444" stroke-width="1"/>
<line x1="678.20" y1="145.12" x2="684.5" y2="145.12" stroke="#444" stroke-width="1"/>
<line x1="678.20" y1="202.04" x2="684.5" y2="202.04" stroke="#444" stroke-width="1"/>
<line x1="678.20" y1="258.96" x2="684.5" y2="258.96" stroke="#444" stroke-width="1"/>
<line x1="678.20" y1="315.88" x2="684.5" y2="315.88" stroke="#444" stroke-width="1"/>
<line x1="678.20" y1="372.80" x2="684.5" y2="372.80" stroke="#444" stroke-width="1"/>
<g class="txt"><g font-size="18">
<text x="37.85" y="24" text-anchor="end">1.51</text>
<text x="39.6" y="192" text-anchor="end">1.46</text>
<text x="41.1" y="225.5" text-anchor="end">1.51</text>
<text x="37.3" y="393.4" text-anchor="end">1.46</text>
</g>
<g font-size="17">
<text x="45.4" y="418.8">15</text>
<text x="213" y="420">85</text>
<text x="250.6" y="419.7">15</text>
<text x="418.6" y="420.7">85</text>
<text x="462.9" y="420">15</text>
<text x="631" y="421.5">85</text>
</g>
<g font-size="17.6">
<text x="85.3" y="430.3" textLength="112" lengthAdjust="spacingAndGlyphs">Angle (degrees)</text>
<text x="291.2" y="431.4" textLength="110.7" lengthAdjust="spacingAndGlyphs">Angle (degrees)</text>
<text x="502.3" y="432.2" textLength="111" lengthAdjust="spacingAndGlyphs">Angle (degrees)</text>
</g>
<text transform="translate(14.9,99.5) rotate(-90)" font-size="19.2" text-anchor="middle" textLength="95" lengthAdjust="spacingAndGlyphs">Energy (eV)</text>
<text transform="translate(14.9,294.5) rotate(-90)" font-size="19.2" text-anchor="middle" textLength="94" lengthAdjust="spacingAndGlyphs">Energy (eV)</text>
<text x="667.6" y="73.8" font-size="16.5">1</text>
<text x="666.2" y="395.5" font-size="16.5">0</text>
<g stroke="#4a4a4a" stroke-width="0.9">
<line x1="38.2" y1="2.9" x2="42.1" y2="2.9"/>
<line x1="38.2" y1="196.6" x2="42.1" y2="196.6"/>
<line x1="42.4" y1="196.6" x2="42.4" y2="200.6"/>
<line x1="236.4" y1="196.9" x2="236.4" y2="200.6"/>
<line x1="244.2" y1="2.9" x2="248.3" y2="2.9"/>
<line x1="244.2" y1="197.4" x2="248.3" y2="197.4"/>
<line x1="248.6" y1="197.4" x2="248.6" y2="201.3"/>
<line x1="442.6" y1="197.6" x2="442.6" y2="201.3"/>
<line x1="451.9" y1="1.8" x2="456.2" y2="1.8"/>
<line x1="451.9" y1="199.4" x2="456.2" y2="199.4"/>
<line x1="456.4" y1="199.4" x2="456.4" y2="203"/>
<line x1="653" y1="199.6" x2="653" y2="203"/>
<line x1="38" y1="206.4" x2="41.8" y2="206.4"/>
<line x1="38" y1="401" x2="41.8" y2="401"/>
<line x1="42" y1="401" x2="42" y2="405"/>
<line x1="236.3" y1="401" x2="236.3" y2="405"/>
<line x1="242.5" y1="206.4" x2="246.6" y2="206.4"/>
<line x1="242.5" y1="401.3" x2="246.6" y2="401.3"/>
<line x1="246.9" y1="401.3" x2="246.9" y2="405.5"/>
<line x1="442.1" y1="401.3" x2="442.1" y2="405.5"/>
<line x1="451.2" y1="204.8" x2="455.5" y2="204.8"/>
<line x1="451.2" y1="403.9" x2="455.5" y2="403.9"/>
<line x1="455.7" y1="403.9" x2="455.7" y2="408"/>
<line x1="653.8" y1="403.9" x2="653.8" y2="408"/>
</g>
</g>
</svg>
</body></html>
